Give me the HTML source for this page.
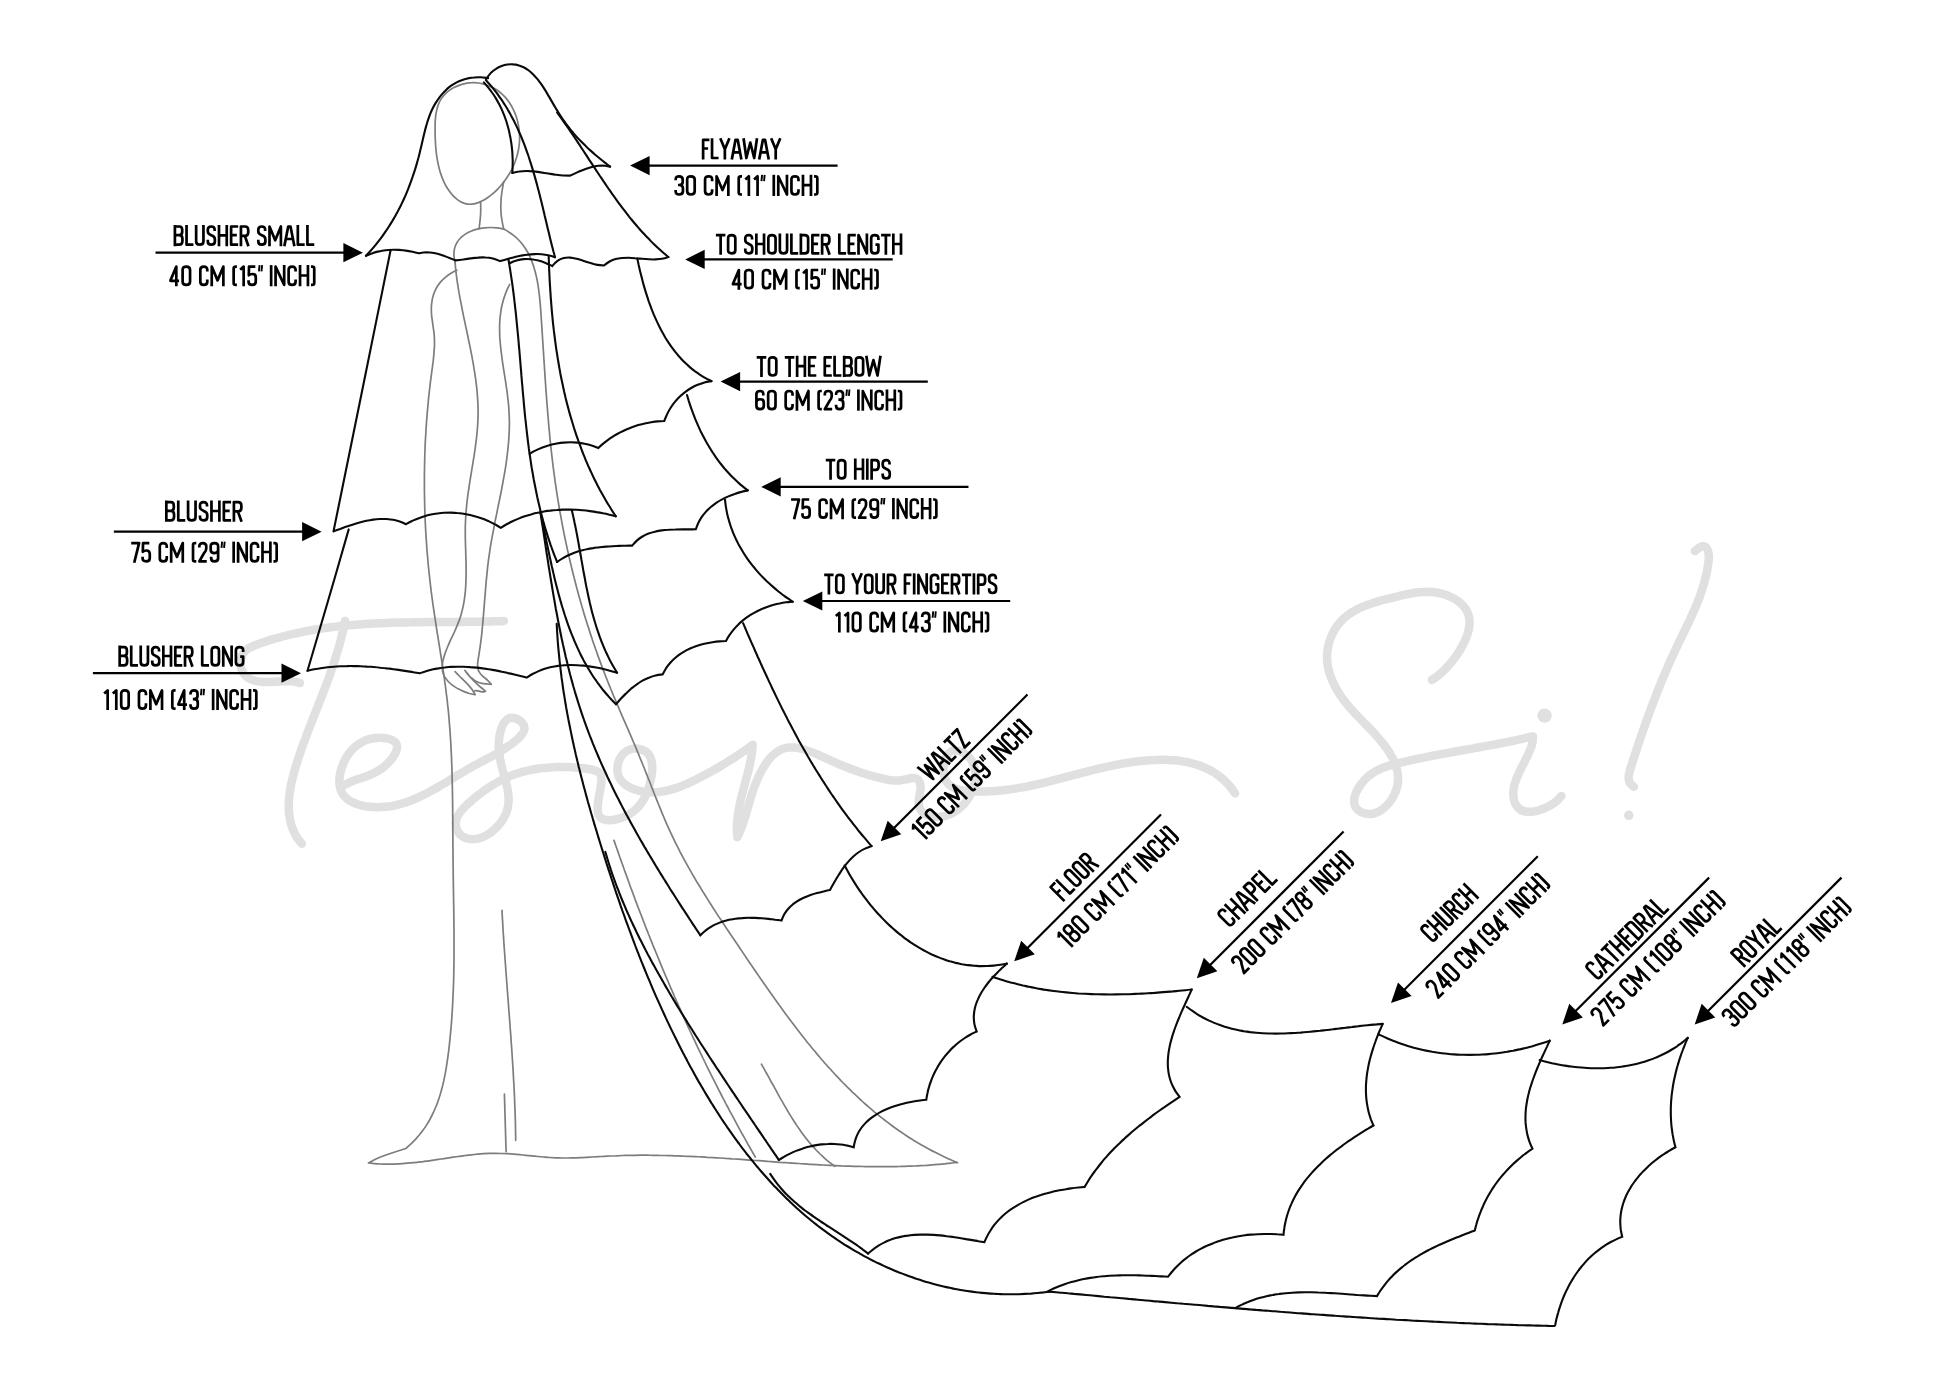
<!DOCTYPE html><html><head><meta charset="utf-8"><title>Veil lengths</title><style>html,body{margin:0;padding:0;background:#fff;font-family:"Liberation Sans",sans-serif;}svg{display:block;}.lbl path{vector-effect:non-scaling-stroke;}</style></head><body>
<svg width="1946" height="1390" viewBox="0 0 1946 1390">
<rect width="1946" height="1390" fill="#fff"/>
<g fill="none" stroke="#e0e0e0" stroke-width="8.5" stroke-linecap="round" stroke-linejoin="round">
<path d="M300.0,683.0 C298.1,682.5 296.3,681.9 294.3,681.6 C292.4,681.3 290.3,681.2 288.2,681.1 C286.1,681.1 284.0,681.2 281.9,681.3 C279.7,681.4 277.5,681.6 275.3,681.7 C273.1,681.8 270.9,682.0 268.8,682.0 C266.6,682.0 264.4,682.1 262.3,681.9 C260.1,681.7 258.0,681.5 256.0,681.0 C254.0,680.5 251.9,679.9 250.1,679.0 C248.3,678.1 246.6,677.0 245.2,675.6 C243.9,674.2 242.8,672.5 242.0,670.7 C241.2,668.9 240.8,666.7 240.7,664.7 C240.5,662.6 240.7,660.4 241.2,658.4 C241.7,656.4 242.5,654.5 243.6,652.9 C244.7,651.3 246.2,650.0 247.7,648.9 C249.3,647.7 251.2,646.9 253.0,646.1 C254.9,645.2 256.9,644.6 258.8,643.8 C260.8,643.1 262.8,642.5 264.7,641.8 C266.7,641.2 268.7,640.5 270.6,639.9 C272.6,639.3 274.6,638.7 276.6,638.2 C278.6,637.6 280.6,637.0 282.5,636.5 C284.5,636.0 286.5,635.5 288.5,635.0 C290.5,634.5 292.5,634.0 294.5,633.6 C296.5,633.1 298.5,632.7 300.6,632.3 C302.6,631.8 304.6,631.4 306.6,631.1 C308.6,630.7 310.6,630.3 312.7,630.0 C314.7,629.6 316.7,629.3 318.7,629.0 C320.8,628.6 322.8,628.3 324.8,628.0 C326.9,627.8 328.9,627.5 331.0,627.2 C333.0,626.9 335.0,626.7 337.1,626.5 C339.1,626.2 341.2,626.0 343.2,625.8 C345.3,625.6 347.3,625.4 349.4,625.2 C351.4,625.0 353.5,624.8 355.5,624.7 C357.6,624.5 359.6,624.4 361.7,624.2 C363.8,624.1 365.8,623.9 367.9,623.8 C369.9,623.7 372.0,623.6 374.1,623.5 C376.1,623.4 378.2,623.3 380.3,623.2 C382.3,623.1 384.4,623.0 386.5,622.9 C388.5,622.8 390.6,622.8 392.7,622.7 C394.7,622.6 396.8,622.6 398.9,622.5 C400.9,622.5 403.0,622.4 405.1,622.4 C407.1,622.3 409.2,622.3 411.3,622.3 C413.3,622.2 415.4,622.2 417.5,622.2 C419.6,622.2 421.6,622.1 423.7,622.1 C425.8,622.1 427.8,622.1 429.9,622.1 C432.0,622.1 434.0,622.0 436.1,622.0 C438.2,622.0 440.2,622.0 442.3,622.0 C444.4,622.0 446.4,622.0 448.5,622.0 C450.6,622.0 452.6,621.9 454.7,621.9 C456.8,621.9 458.8,621.9 460.9,621.9 C462.9,621.9 465.0,621.8 467.1,621.8 C469.1,621.8 471.2,621.8 473.2,621.8 C475.3,621.7 477.3,621.7 479.4,621.7 C481.4,621.6 483.5,621.6 485.5,621.5 C487.6,621.5 489.6,621.5 491.7,621.4 C493.7,621.3 495.8,621.3 497.8,621.2 C499.8,621.2 501.9,621.1 503.9,621.0"/>
<path d="M345.1,620.8 C344.7,622.9 344.3,625.0 343.8,627.1 C343.4,629.2 342.9,631.2 342.4,633.3 C341.9,635.3 341.4,637.4 340.9,639.4 C340.4,641.4 339.8,643.4 339.3,645.4 C338.7,647.4 338.1,649.4 337.5,651.4 C336.9,653.4 336.3,655.3 335.7,657.3 C335.1,659.2 334.5,661.2 333.8,663.1 C333.2,665.1 332.5,667.0 331.9,668.9 C331.2,670.8 330.5,672.8 329.9,674.7 C329.2,676.6 328.5,678.5 327.8,680.4 C327.1,682.3 326.4,684.2 325.7,686.1 C324.9,688.0 324.2,689.9 323.5,691.8 C322.8,693.7 322.0,695.6 321.3,697.5 C320.5,699.4 319.8,701.3 319.1,703.2 C318.3,705.1 317.6,707.0 316.8,708.9 C316.1,710.8 315.3,712.7 314.6,714.6 C313.8,716.5 313.1,718.4 312.3,720.3 C311.6,722.2 310.8,724.2 310.1,726.1 C309.3,728.0 308.6,730.0 307.8,731.9 C307.1,733.9 306.4,735.8 305.6,737.8 C304.9,739.8 304.2,741.7 303.4,743.7 C302.7,745.7 302.0,747.7 301.3,749.7 C300.6,751.7 299.9,753.8 299.2,755.8 C298.5,757.8 297.8,759.9 297.2,761.9 C296.5,764.0 295.9,766.1 295.3,768.2 C294.7,770.2 294.1,772.3 293.5,774.4 C293.0,776.5 292.4,778.6 292.0,780.6 C291.5,782.7 291.0,784.8 290.7,786.9 C290.3,788.9 289.9,791.0 289.7,793.1 C289.4,795.1 289.2,797.2 289.0,799.2 C288.9,801.3 288.8,803.3 288.7,805.3 C288.7,807.3 288.8,809.3 288.9,811.3 C289.0,813.2 289.3,815.2 289.6,817.1 C289.9,819.1 290.3,821.0 290.7,822.9 C291.2,824.7 291.8,826.6 292.5,828.4 C293.2,830.3 294.0,832.1 294.9,833.8 C295.8,835.6 296.8,837.3 298.0,839.0 C299.2,840.6 300.5,842.2 301.9,843.8"/>
<path d="M344.2,785.1 C346.1,784.1 348.0,783.2 349.8,782.3 C351.7,781.5 353.6,780.8 355.5,780.1 C357.3,779.4 359.2,778.8 361.0,778.1 C362.9,777.5 364.7,776.9 366.6,776.2 C368.4,775.5 370.2,774.8 372.1,774.0 C373.9,773.2 375.7,772.3 377.5,771.2 C379.2,770.2 381.0,769.0 382.8,767.7 C384.5,766.3 386.3,764.8 387.9,763.1 C389.5,761.5 391.1,759.7 392.4,757.9 C393.7,756.1 394.9,754.2 395.7,752.5 C396.4,750.7 397.0,749.0 397.1,747.4 C397.1,745.9 396.8,744.4 396.0,743.2 C395.2,742.0 393.8,741.0 392.2,740.2 C390.7,739.4 388.7,738.8 386.7,738.4 C384.7,738.0 382.3,737.8 380.2,737.8 C378.0,737.7 375.8,737.9 373.7,738.2 C371.6,738.5 369.6,739.0 367.7,739.6 C365.7,740.3 363.8,741.1 362.1,742.0 C360.3,743.0 358.6,744.1 357.0,745.3 C355.4,746.6 353.8,747.9 352.4,749.4 C351.0,750.9 349.7,752.5 348.4,754.2 C347.2,756.0 346.1,757.8 345.1,759.7 C344.1,761.6 343.1,763.7 342.4,765.8 C341.6,767.8 340.9,770.0 340.5,772.1 C340.0,774.2 339.6,776.4 339.5,778.4 C339.3,780.5 339.3,782.6 339.5,784.5 C339.8,786.5 340.2,788.4 340.8,790.1 C341.4,791.8 342.3,793.5 343.3,794.9 C344.4,796.4 345.7,797.7 347.1,798.8 C348.6,800.0 350.2,801.0 351.9,801.9 C353.7,802.8 355.5,803.5 357.5,804.2 C359.4,804.9 361.4,805.4 363.5,805.8 C365.5,806.3 367.7,806.6 369.7,806.8 C371.8,807.0 373.9,807.2 376.0,807.2 C378.0,807.3 380.1,807.2 382.1,807.1 C384.1,807.0 386.1,806.8 388.1,806.6 C390.1,806.3 392.1,806.0 394.1,805.6 C396.0,805.2 398.0,804.7 399.9,804.2 C401.9,803.6 403.8,803.0 405.7,802.4 C407.6,801.8 409.5,801.1 411.4,800.3 C413.3,799.6 415.2,798.8 417.1,798.0 C418.9,797.1 420.8,796.3 422.6,795.4 C424.5,794.5 426.3,793.5 428.1,792.6 C429.9,791.6 431.7,790.6 433.6,789.6 C435.4,788.6 437.1,787.6 438.9,786.5 C440.7,785.5 442.5,784.4 444.3,783.4 C446.0,782.3 447.8,781.3 449.5,780.2 C451.3,779.1 453.0,778.1 454.8,777.0 C456.5,775.9 458.2,774.9 460.0,773.8 C461.7,772.8 463.4,771.8 465.1,770.8 C466.8,769.8 468.6,768.8 470.3,767.8 C472.0,766.8 473.7,765.9 475.4,765.0 C477.1,764.1 478.8,763.2 480.5,762.3 C482.2,761.4 483.9,760.5 485.6,759.6 C487.3,758.7 489.0,757.8 490.7,756.9 C492.5,755.9 494.2,755.0 496.0,754.0 C497.7,752.9 499.5,751.9 501.3,750.8 C503.1,749.7 504.9,748.5 506.7,747.2 C508.6,746.0 510.5,744.7 512.4,743.3 C514.2,741.9 516.1,740.4 517.8,738.9 C519.4,737.3 521.0,735.8 522.1,734.2 C523.2,732.6 524.1,731.0 524.3,729.5 C524.6,727.9 524.4,726.3 523.7,724.8 C523.0,723.4 521.6,721.9 520.2,720.8 C518.8,719.7 516.9,718.7 515.3,718.3 C513.6,717.8 511.8,717.6 510.2,717.9 C508.7,718.3 507.3,719.2 506.1,720.3 C504.9,721.4 503.8,723.1 502.9,724.8 C502.0,726.5 501.3,728.6 500.7,730.7 C500.1,732.8 499.6,735.2 499.3,737.4 C499.0,739.7 498.8,742.0 498.8,744.2 C498.7,746.4 498.8,748.6 499.0,750.8 C499.2,753.0 499.5,755.1 499.8,757.2 C500.1,759.3 500.6,761.3 501.0,763.4 C501.5,765.4 502.0,767.5 502.5,769.4 C503.1,771.4 503.6,773.4 504.1,775.4 C504.7,777.3 505.2,779.2 505.7,781.2 C506.2,783.1 506.7,785.0 507.1,786.9 C507.5,788.7 507.9,790.6 508.1,792.5 C508.4,794.4 508.5,796.2 508.6,798.1 C508.7,799.9 508.6,801.8 508.4,803.6 C508.2,805.4 507.9,807.3 507.4,809.1 C506.9,811.0 506.3,812.8 505.4,814.7 C504.6,816.5 503.5,818.4 502.3,820.2 C501.2,822.0 499.8,823.8 498.3,825.5 C496.8,827.1 495.2,828.8 493.5,830.2 C491.8,831.7 489.9,833.1 488.0,834.2 C486.2,835.4 484.2,836.4 482.2,837.2 C480.2,838.0 478.1,838.6 476.1,838.9 C474.1,839.2 471.9,839.2 469.9,839.0 C468.0,838.8 465.9,838.2 464.2,837.4 C462.5,836.6 460.9,835.4 459.6,834.0 C458.4,832.6 457.4,830.8 456.7,829.1 C456.1,827.4 455.7,825.4 455.8,823.6 C455.8,821.7 456.2,819.9 456.8,818.2 C457.5,816.4 458.4,814.7 459.5,813.1 C460.6,811.4 462.0,809.8 463.4,808.3 C464.8,806.7 466.5,805.2 468.1,803.7 C469.7,802.2 471.4,800.8 473.0,799.4 C474.6,798.0 476.3,796.7 477.9,795.4 C479.6,794.1 481.2,792.8 482.9,791.6 C484.5,790.4 486.2,789.2 487.9,788.1 C489.5,786.9 491.2,785.8 492.9,784.8 C494.6,783.8 496.3,782.8 498.0,781.8 C499.7,780.9 501.4,780.0 503.2,779.1 C505.0,778.3 506.8,777.4 508.6,776.7 C510.4,775.9 512.2,775.2 514.1,774.5 C516.0,773.9 517.9,773.3 519.8,772.7 C521.7,772.1 523.6,771.6 525.6,771.1 C527.5,770.6 529.5,770.2 531.5,769.8 C533.5,769.4 535.5,769.1 537.5,768.7 C539.5,768.4 541.5,768.2 543.6,767.9 C545.6,767.7 547.7,767.5 549.7,767.4 C551.8,767.2 553.8,767.1 555.9,767.1 C558.0,767.0 560.1,767.0 562.1,767.0 C564.2,767.0 566.3,767.0 568.4,767.1 C570.5,767.2 572.5,767.3 574.6,767.4 C576.7,767.6 578.8,767.8 580.8,768.0 C582.9,768.2 585.0,768.5 587.0,768.8 C589.0,769.1 591.1,769.3 592.9,769.8 C594.7,770.3 596.5,770.8 597.8,771.7 C599.1,772.5 600.1,773.6 600.7,774.9 C601.3,776.2 601.4,777.8 601.5,779.7 C601.5,781.5 601.2,783.6 600.9,785.7 C600.6,787.9 600.1,790.4 599.7,792.7 C599.3,795.1 598.7,797.6 598.4,799.9 C598.1,802.3 597.7,804.7 597.7,806.8 C597.6,809.0 597.6,811.0 598.0,812.7 C598.4,814.5 599.1,816.0 600.1,817.1 C601.1,818.2 602.5,819.0 604.0,819.5 C605.6,820.0 607.5,820.2 609.4,820.2 C611.3,820.2 613.5,820.0 615.6,819.5 C617.7,819.1 619.9,818.4 621.9,817.7 C624.0,816.9 626.1,816.0 627.9,815.0 C629.8,814.0 631.5,812.8 633.1,811.6 C634.7,810.4 636.2,809.0 637.6,807.6 C638.9,806.2 640.2,804.6 641.3,803.0 C642.5,801.4 643.5,799.7 644.4,797.9 C645.4,796.1 646.2,794.3 647.0,792.3 C647.8,790.4 648.5,788.4 649.1,786.3 C649.7,784.2 650.3,782.0 650.7,779.9 C651.2,777.7 651.6,775.4 651.9,773.2 C652.1,771.1 652.3,768.8 652.2,766.8 C652.1,764.7 652.0,762.6 651.5,760.8 C651.1,758.9 650.4,757.2 649.5,755.7 C648.6,754.2 647.4,752.8 646.0,751.7 C644.6,750.7 642.8,749.8 641.0,749.3 C639.2,748.8 637.1,748.5 635.1,748.6 C633.1,748.7 631.0,749.0 629.2,749.8 C627.3,750.5 625.5,751.6 624.0,753.0 C622.5,754.3 621.2,756.2 620.2,758.0 C619.2,759.9 618.4,762.1 617.9,764.2 C617.5,766.4 617.2,768.6 617.4,770.7 C617.5,772.8 618.0,774.8 618.7,776.6 C619.5,778.4 620.6,780.1 621.9,781.5 C623.2,783.0 624.8,784.3 626.5,785.4 C628.1,786.5 630.0,787.5 631.9,788.3 C633.8,789.2 635.9,789.8 637.9,790.4 C639.9,791.0 641.9,791.4 643.9,791.7 C645.9,792.0 647.9,792.2 649.9,792.3 C651.9,792.4 653.8,792.4 655.8,792.2 C657.8,792.1 659.8,791.9 661.7,791.6 C663.7,791.3 665.7,790.9 667.6,790.5 C669.6,790.0 671.5,789.5 673.4,788.9 C675.4,788.3 677.3,787.7 679.2,787.0 C681.1,786.2 683.0,785.5 684.9,784.7 C686.8,783.9 688.7,783.0 690.5,782.2 C692.4,781.3 694.2,780.4 696.1,779.5 C697.9,778.6 699.7,777.6 701.5,776.7 C703.3,775.7 705.1,774.8 706.9,773.8 C708.7,772.9 710.4,771.9 712.2,770.9 C713.9,769.9 715.7,769.0 717.4,768.0 C719.1,767.0 720.8,766.0 722.5,764.9 C724.2,763.9 725.9,762.9 727.6,761.8 C729.3,760.8 731.0,759.7 732.7,758.6 C734.3,757.6 736.0,756.5 737.7,755.3 C739.4,754.2 741.0,753.1 742.7,751.9 C744.4,750.8 746.0,749.6 747.7,748.4 C749.4,747.2 751.0,746.0 752.7,744.8 C752.5,747.0 752.3,749.3 752.1,751.5 C751.8,753.7 751.4,755.9 751.1,758.1 C750.7,760.3 750.2,762.5 749.7,764.7 C749.3,766.9 748.8,769.1 748.2,771.3 C747.7,773.5 747.1,775.6 746.5,777.8 C746.0,780.0 745.4,782.2 744.8,784.3 C744.2,786.5 743.6,788.7 743.0,790.9 C742.5,793.0 741.9,795.2 741.4,797.4 C740.8,799.6 740.3,801.7 739.9,803.9 C739.4,806.1 739.0,808.3 738.6,810.5 C738.2,812.7 737.9,814.9 737.6,817.1 C737.4,819.3 737.1,821.6 737.0,823.8 C736.9,826.0 736.8,828.3 736.9,830.5 C736.9,832.8 737.1,835.0 737.3,837.3 C738.2,835.3 739.1,833.4 739.9,831.5 C740.8,829.5 741.5,827.6 742.2,825.7 C742.9,823.9 743.5,822.0 744.1,820.1 C744.8,818.2 745.3,816.4 745.9,814.5 C746.4,812.7 747.0,810.8 747.5,808.9 C748.0,807.1 748.6,805.2 749.1,803.3 C749.6,801.5 750.2,799.6 750.8,797.7 C751.3,795.8 751.9,793.9 752.6,791.9 C753.2,790.0 753.9,788.1 754.6,786.1 C755.4,784.1 756.2,782.1 757.0,780.1 C757.9,778.1 758.8,776.1 759.8,774.1 C760.8,772.2 761.8,770.2 762.9,768.4 C764.0,766.5 765.1,764.7 766.3,763.0 C767.5,761.2 768.8,759.6 770.1,758.1 C771.4,756.6 772.8,755.2 774.3,754.0 C775.7,752.7 777.2,751.6 778.8,750.7 C780.4,749.8 782.0,749.0 783.7,748.5 C785.4,748.0 787.1,747.7 789.0,747.5 C790.8,747.4 792.6,747.4 794.5,747.6 C796.4,747.7 798.3,748.1 800.3,748.5 C802.3,749.0 804.3,749.5 806.3,750.2 C808.3,750.8 810.3,751.6 812.3,752.4 C814.4,753.2 816.4,754.0 818.4,754.9 C820.4,755.8 822.5,756.7 824.4,757.6 C826.4,758.5 828.4,759.5 830.4,760.3 C832.3,761.2 834.2,762.1 836.1,762.9 C838.0,763.7 839.9,764.5 841.7,765.3 C843.6,766.0 845.4,766.8 847.2,767.5 C849.1,768.2 850.9,768.9 852.7,769.6 C854.5,770.3 856.3,770.9 858.2,771.5 C860.0,772.2 861.8,772.8 863.6,773.3 C865.5,773.9 867.3,774.5 869.2,775.1 C871.1,775.6 873.0,776.1 874.9,776.7 C876.8,777.2 878.8,777.7 880.8,778.2 C882.7,778.7 884.8,779.2 886.8,779.5 C888.9,779.9 890.9,780.3 893.0,780.4 C895.1,780.6 897.3,780.7 899.4,780.5 C901.5,780.3 903.7,779.8 905.8,779.4 C907.9,779.0 910.0,778.2 911.9,778.1 C913.7,778.0 915.5,778.1 916.8,778.8 C918.1,779.5 919.3,780.8 919.9,782.4 C920.5,784.0 920.6,786.1 920.6,788.3 C920.5,790.5 919.9,793.0 919.5,795.4 C919.2,797.8 918.6,800.3 918.7,802.5 C918.7,804.6 919.0,806.6 919.7,808.3 C920.4,809.9 921.6,811.3 922.9,812.5 C924.2,813.7 925.9,814.6 927.6,815.3 C929.4,815.9 931.4,816.4 933.3,816.7 C935.3,816.9 937.4,816.9 939.3,816.8 C941.3,816.7 943.3,816.3 945.2,815.8 C947.2,815.3 949.0,814.6 950.9,813.8 C952.7,813.0 954.5,811.9 956.2,810.8 C957.8,809.7 959.5,808.4 961.0,807.0 C962.5,805.6 964.0,804.1 965.3,802.4 C966.7,800.8 967.9,799.0 969.0,797.2 C970.1,795.4 971.1,793.4 972.0,791.4 C972.8,789.4 973.6,787.3 974.1,785.3 C974.7,783.2 975.1,781.1 975.3,779.0 C975.6,776.9 975.6,774.8 975.5,772.7 C975.3,770.7 975.0,768.7 974.4,766.8 C973.8,764.9 973.1,763.0 972.1,761.3 C971.0,759.6 969.7,757.9 968.3,756.5 C966.8,755.1 965.0,753.8 963.3,752.8 C961.5,751.8 959.5,751.0 957.7,750.7 C955.9,750.4 954.1,750.3 952.5,750.8 C950.9,751.3 949.4,752.4 948.2,753.7 C947.0,755.1 946.0,757.0 945.3,759.0 C944.5,761.0 944.0,763.4 943.7,765.6 C943.4,767.9 943.4,770.4 943.6,772.6 C943.9,774.8 944.3,777.0 945.1,778.8 C945.8,780.7 946.8,782.3 948.0,783.6 C949.2,785.0 950.6,786.1 952.2,787.0 C953.7,788.0 955.5,788.7 957.3,789.3 C959.2,789.9 961.2,790.3 963.2,790.6 C965.2,791.0 967.4,791.2 969.5,791.3 C971.7,791.5 973.9,791.5 976.0,791.5 C978.2,791.6 980.3,791.6 982.5,791.5 C984.6,791.5 986.7,791.4 988.8,791.3 C990.9,791.2 993.0,791.1 995.1,790.9 C997.1,790.8 999.2,790.6 1001.2,790.4 C1003.3,790.2 1005.3,790.0 1007.3,789.7 C1009.3,789.5 1011.4,789.2 1013.4,788.9 C1015.4,788.6 1017.3,788.3 1019.3,787.9 C1021.3,787.6 1023.3,787.2 1025.2,786.9 C1027.2,786.5 1029.1,786.1 1031.1,785.7 C1033.0,785.3 1035.0,784.9 1036.9,784.4 C1038.9,784.0 1040.8,783.5 1042.7,783.1 C1044.6,782.6 1046.6,782.2 1048.5,781.7 C1050.4,781.2 1052.3,780.7 1054.2,780.2 C1056.1,779.7 1058.1,779.2 1060.0,778.7 C1061.9,778.2 1063.8,777.7 1065.7,777.2 C1067.6,776.7 1069.5,776.2 1071.4,775.7 C1073.4,775.2 1075.3,774.7 1077.2,774.2 C1079.1,773.6 1081.1,773.1 1083.0,772.6 C1084.9,772.1 1086.8,771.6 1088.8,771.1 C1090.7,770.6 1092.7,770.1 1094.6,769.7 C1096.6,769.2 1098.5,768.7 1100.5,768.2 C1102.5,767.8 1104.4,767.3 1106.4,766.9 C1108.4,766.4 1110.4,766.0 1112.4,765.6 C1114.4,765.2 1116.4,764.8 1118.4,764.4 C1120.5,764.0 1122.5,763.6 1124.6,763.3 C1126.6,762.9 1128.7,762.6 1130.7,762.3 C1132.8,762.0 1134.9,761.7 1137.0,761.4 C1139.1,761.2 1141.2,760.9 1143.2,760.7 C1145.3,760.5 1147.4,760.3 1149.5,760.2 C1151.6,760.0 1153.7,759.9 1155.8,759.9 C1157.9,759.8 1159.9,759.7 1162.0,759.7 C1164.1,759.8 1166.2,759.8 1168.2,759.9 C1170.3,760.0 1172.3,760.1 1174.3,760.3 C1176.3,760.5 1178.4,760.7 1180.3,761.0 C1182.3,761.2 1184.3,761.6 1186.3,761.9 C1188.2,762.3 1190.1,762.8 1192.1,763.3 C1194.0,763.7 1195.8,764.3 1197.7,764.9 C1199.5,765.5 1201.4,766.2 1203.2,767.0 C1205.0,767.7 1206.7,768.5 1208.4,769.4 C1210.2,770.3 1211.9,771.2 1213.5,772.2 C1215.2,773.2 1216.8,774.3 1218.4,775.5 C1219.9,776.7 1221.5,777.9 1223.0,779.2 C1224.5,780.6 1225.9,782.0 1227.3,783.4 C1228.7,784.9 1230.1,786.5 1231.4,788.2 C1232.7,789.8 1233.9,791.6 1235.1,793.4"/>
<path d="M1431.9,679.9 C1433.2,679.1 1434.5,678.3 1435.9,677.3 C1437.3,676.3 1438.7,675.1 1440.2,673.9 C1441.6,672.6 1443.1,671.2 1444.6,669.7 C1446.1,668.2 1447.6,666.6 1449.1,664.9 C1450.5,663.3 1452.0,661.5 1453.4,659.7 C1454.8,657.9 1456.2,656.0 1457.5,654.1 C1458.7,652.1 1460.0,650.1 1461.1,648.1 C1462.3,646.2 1463.4,644.1 1464.3,642.1 C1465.3,640.1 1466.1,638.0 1466.9,636.0 C1467.6,633.9 1468.2,631.9 1468.6,629.9 C1469.1,627.9 1469.4,626.0 1469.5,624.1 C1469.6,622.1 1469.5,620.3 1469.3,618.5 C1469.0,616.7 1468.6,614.9 1467.9,613.3 C1467.3,611.6 1466.4,610.1 1465.4,608.6 C1464.4,607.1 1463.2,605.7 1461.9,604.4 C1460.6,603.1 1459.1,601.9 1457.5,600.8 C1455.9,599.6 1454.2,598.6 1452.4,597.7 C1450.6,596.8 1448.7,595.9 1446.8,595.2 C1444.9,594.5 1442.8,593.9 1440.8,593.4 C1438.8,592.9 1436.7,592.5 1434.7,592.2 C1432.6,591.9 1430.6,591.8 1428.5,591.7 C1426.5,591.7 1424.4,591.7 1422.4,591.9 C1420.4,592.0 1418.3,592.2 1416.3,592.5 C1414.3,592.8 1412.2,593.2 1410.2,593.6 C1408.2,594.0 1406.1,594.4 1404.1,594.9 C1402.1,595.3 1400.0,595.8 1398.0,596.3 C1396.0,596.8 1393.9,597.3 1391.9,597.8 C1389.9,598.3 1387.8,598.8 1385.8,599.3 C1383.8,599.9 1381.7,600.4 1379.7,600.9 C1377.7,601.5 1375.7,602.1 1373.8,602.7 C1371.8,603.3 1369.8,604.0 1367.9,604.7 C1366.0,605.4 1364.2,606.1 1362.3,606.9 C1360.5,607.7 1358.7,608.5 1356.9,609.4 C1355.2,610.4 1353.5,611.3 1351.8,612.4 C1350.2,613.4 1348.6,614.5 1347.0,615.7 C1345.5,616.9 1344.0,618.2 1342.6,619.6 C1341.2,620.9 1339.9,622.4 1338.7,624.0 C1337.4,625.5 1336.2,627.2 1335.1,629.0 C1334.1,630.7 1333.0,632.6 1332.2,634.5 C1331.3,636.4 1330.5,638.4 1329.8,640.4 C1329.1,642.4 1328.5,644.5 1328.1,646.6 C1327.7,648.6 1327.3,650.7 1327.2,652.8 C1327.0,654.9 1327.0,656.9 1327.1,659.0 C1327.1,661.0 1327.4,663.0 1327.7,665.1 C1328.0,667.1 1328.4,669.1 1328.9,671.0 C1329.5,673.0 1330.1,674.9 1330.8,676.8 C1331.5,678.8 1332.3,680.7 1333.1,682.5 C1334.0,684.4 1334.9,686.2 1335.9,688.0 C1336.9,689.8 1337.9,691.5 1339.0,693.2 C1340.1,694.9 1341.3,696.6 1342.4,698.2 C1343.6,699.8 1344.8,701.4 1346.0,702.9 C1347.2,704.5 1348.5,706.0 1349.7,707.4 C1351.0,708.9 1352.3,710.3 1353.6,711.8 C1354.9,713.2 1356.2,714.6 1357.6,716.0 C1359.0,717.4 1360.3,718.8 1361.7,720.3 C1363.1,721.7 1364.6,723.1 1366.0,724.6 C1367.4,726.1 1368.9,727.6 1370.4,729.1 C1371.8,730.7 1373.3,732.2 1374.7,733.8 C1376.2,735.4 1377.6,737.0 1379.0,738.7 C1380.4,740.3 1381.8,742.0 1383.1,743.7 C1384.4,745.4 1385.7,747.1 1386.9,748.8 C1388.1,750.5 1389.3,752.3 1390.3,754.1 C1391.4,755.9 1392.4,757.7 1393.3,759.5 C1394.1,761.3 1394.9,763.1 1395.6,765.0 C1396.2,766.8 1396.8,768.7 1397.2,770.6 C1397.6,772.4 1397.9,774.3 1398.0,776.3 C1398.1,778.2 1398.1,780.1 1397.9,782.0 C1397.8,784.0 1397.4,785.9 1396.9,787.9 C1396.3,789.8 1395.6,791.8 1394.7,793.8 C1393.8,795.7 1392.7,797.7 1391.5,799.5 C1390.3,801.3 1388.9,803.1 1387.5,804.7 C1386.0,806.3 1384.4,807.8 1382.7,809.1 C1381.0,810.3 1379.2,811.4 1377.4,812.2 C1375.5,813.0 1373.6,813.7 1371.7,813.9 C1369.7,814.1 1367.7,814.1 1365.8,813.7 C1363.9,813.3 1361.9,812.6 1360.3,811.6 C1358.7,810.7 1357.2,809.5 1356.2,808.1 C1355.2,806.7 1354.6,805.2 1354.3,803.5 C1354.0,801.8 1354.1,800.0 1354.4,798.1 C1354.8,796.3 1355.4,794.3 1356.2,792.4 C1357.0,790.5 1358.1,788.5 1359.3,786.6 C1360.5,784.8 1362.0,782.9 1363.4,781.2 C1364.9,779.5 1366.6,777.8 1368.2,776.4 C1369.9,775.0 1371.6,773.7 1373.4,772.6 C1375.1,771.4 1377.0,770.5 1378.8,769.6 C1380.6,768.7 1382.5,767.9 1384.4,767.2 C1386.3,766.6 1388.2,766.0 1390.2,765.4 C1392.1,764.8 1394.0,764.3 1396.0,763.8 C1397.9,763.3 1399.9,762.9 1401.9,762.4 C1403.8,761.9 1405.8,761.5 1407.8,761.0 C1409.7,760.5 1411.7,760.1 1413.7,759.7 C1415.6,759.2 1417.6,758.8 1419.6,758.4 C1421.6,758.0 1423.5,757.6 1425.5,757.2 C1427.5,756.8 1429.5,756.4 1431.5,756.0 C1433.5,755.6 1435.4,755.2 1437.4,754.8 C1439.4,754.5 1441.4,754.1 1443.4,753.7 C1445.4,753.4 1447.4,753.0 1449.4,752.6 C1451.4,752.3 1453.4,751.9 1455.4,751.5 C1457.3,751.2 1459.3,750.8 1461.3,750.5 C1463.3,750.1 1465.3,749.8 1467.3,749.4 C1469.3,749.1 1471.3,748.7 1473.3,748.3 C1475.3,748.0 1477.3,747.6 1479.3,747.3 C1481.3,746.9 1483.3,746.6 1485.3,746.2 C1487.3,745.8 1489.3,745.5 1491.3,745.1 C1493.3,744.7 1495.3,744.3 1497.2,744.0 C1499.2,743.6 1501.2,743.2 1503.2,742.8 C1505.2,742.4 1507.2,742.0 1509.2,741.6 C1511.2,741.2 1513.1,740.8 1515.1,740.3 C1517.1,739.9 1519.1,739.5 1521.1,739.1 C1523.0,738.6 1525.0,738.2 1527.0,737.7 C1529.0,737.2 1530.9,736.8 1532.9,736.3 C1532.9,738.2 1532.8,740.1 1532.5,742.0 C1532.2,743.9 1531.6,745.9 1530.9,748.0 C1530.2,750.0 1529.3,752.0 1528.3,754.1 C1527.4,756.2 1526.3,758.3 1525.2,760.5 C1524.1,762.6 1523.0,764.8 1521.9,766.9 C1520.8,769.1 1519.7,771.3 1518.7,773.5 C1517.7,775.7 1516.7,777.9 1516.0,780.1 C1515.2,782.3 1514.5,784.5 1514.0,786.7 C1513.6,788.9 1513.3,791.1 1513.3,793.3 C1513.3,795.4 1513.5,797.7 1513.9,799.7 C1514.4,801.7 1515.1,803.6 1516.1,805.3 C1517.1,806.9 1518.4,808.3 1519.9,809.4 C1521.4,810.4 1523.3,811.1 1525.3,811.5 C1527.2,811.9 1529.5,811.9 1531.7,811.7 C1534.0,811.5 1536.4,810.9 1538.8,810.3 C1541.1,809.6 1543.6,808.7 1545.8,807.6 C1548.1,806.6 1550.3,805.4 1552.3,804.1 C1554.3,802.9 1556.2,801.5 1557.7,800.1 C1559.2,798.7 1560.3,797.3 1561.4,795.9"/>
<path d="M1694.8,551.1 C1697.0,549.3 1699.1,547.4 1700.8,546.7 C1702.5,546.0 1703.9,546.2 1705.1,546.7 C1706.2,547.2 1707.0,548.5 1707.6,549.8 C1708.3,551.2 1708.6,553.0 1708.7,554.8 C1708.9,556.7 1708.8,558.8 1708.6,561.0 C1708.4,563.1 1708.0,565.4 1707.6,567.7 C1707.3,569.9 1706.8,572.2 1706.3,574.5 C1705.8,576.7 1705.2,578.9 1704.7,581.0 C1704.1,583.1 1703.5,585.2 1702.8,587.3 C1702.2,589.4 1701.5,591.4 1700.8,593.5 C1700.1,595.5 1699.4,597.5 1698.7,599.4 C1697.9,601.4 1697.2,603.3 1696.4,605.2 C1695.6,607.2 1694.8,609.1 1693.9,610.9 C1693.1,612.8 1692.3,614.7 1691.4,616.5 C1690.6,618.4 1689.7,620.2 1688.8,622.1 C1688.0,623.9 1687.1,625.7 1686.2,627.5 C1685.3,629.4 1684.4,631.2 1683.5,633.0 C1682.7,634.8 1681.8,636.6 1680.9,638.4 C1680.0,640.2 1679.1,642.1 1678.2,643.9 C1677.4,645.7 1676.5,647.5 1675.6,649.4 C1674.8,651.2 1673.9,653.1 1673.1,654.9 C1672.2,656.8 1671.4,658.6 1670.5,660.5 C1669.7,662.4 1668.9,664.3 1668.0,666.1 C1667.2,668.0 1666.4,669.9 1665.6,671.8 C1664.8,673.7 1664.0,675.6 1663.2,677.5 C1662.4,679.4 1661.6,681.3 1660.8,683.2 C1660.1,685.1 1659.3,687.1 1658.5,689.0 C1657.7,690.9 1657.0,692.9 1656.2,694.8 C1655.5,696.7 1654.7,698.7 1654.0,700.6 C1653.2,702.6 1652.5,704.5 1651.7,706.5 C1651.0,708.4 1650.3,710.4 1649.6,712.3 C1648.8,714.3 1648.1,716.3 1647.4,718.2 C1646.7,720.2 1646.0,722.2 1645.3,724.1 C1644.6,726.1 1643.9,728.1 1643.2,730.1 C1642.5,732.1 1641.8,734.1 1641.1,736.0 C1640.5,738.0 1639.8,740.0 1639.1,742.0 C1638.4,744.0 1637.8,746.0 1637.1,748.0 C1636.4,750.0 1635.8,752.0 1635.1,754.0 C1634.5,756.0 1633.8,758.0 1633.2,760.0 C1632.5,762.0 1631.9,764.0 1631.3,766.0 C1630.6,768.0 1629.9,770.0 1629.5,772.0 C1629.0,773.9 1628.6,775.9 1628.6,777.7 C1628.7,779.5 1628.9,781.2 1629.8,782.7 C1630.6,784.2 1632.3,785.5 1633.9,786.8"/>
</g>
<g fill="#e0e0e0"><circle cx="1544.6" cy="715.6" r="7.2"/><circle cx="1628.8" cy="815.3" r="4.8"/></g>
<g fill="none" stroke="#7d7d7d" stroke-width="1.7" stroke-linecap="round" stroke-linejoin="round">
<path d="M484.9,84.5 C482.8,83.9 480.8,83.3 478.7,83.0 C476.5,82.7 474.4,82.6 472.2,82.7 C470.1,82.7 467.9,83.0 465.8,83.4 C463.7,83.8 461.6,84.4 459.7,85.1 C457.7,85.8 455.7,86.6 453.9,87.6 C452.0,88.6 450.3,89.7 448.7,90.9 C447.1,92.1 445.6,93.4 444.3,94.9 C443.0,96.3 441.9,97.8 440.9,99.4 C439.9,101.0 439.1,102.7 438.4,104.4 C437.7,106.2 437.2,108.0 436.8,109.9 C436.3,111.8 436.0,113.7 435.7,115.7 C435.5,117.7 435.3,119.8 435.2,121.9 C435.1,123.9 435.1,126.1 435.1,128.2 C435.1,130.3 435.1,132.5 435.1,134.7 C435.2,136.9 435.2,139.1 435.4,141.3 C435.5,143.5 435.6,145.7 435.8,147.9 C436.0,150.1 436.2,152.3 436.5,154.4 C436.8,156.6 437.1,158.8 437.5,160.9 C437.9,163.1 438.4,165.2 438.9,167.3 C439.4,169.4 440.0,171.4 440.6,173.4 C441.3,175.4 442.0,177.4 442.8,179.3 C443.6,181.2 444.5,183.1 445.4,184.9 C446.4,186.6 447.4,188.4 448.6,190.0 C449.7,191.7 451.0,193.3 452.3,194.8 C453.6,196.2 455.0,197.6 456.5,198.8 C457.9,200.0 459.5,201.1 461.1,201.9 C462.7,202.7 464.4,203.4 466.1,203.8 C467.8,204.2 469.6,204.3 471.4,204.2 C473.2,204.1 475.0,203.7 476.9,203.1 C478.7,202.6 480.6,201.8 482.4,200.8 C484.2,199.9 486.1,198.8 487.8,197.5 C489.6,196.3 491.4,194.9 493.1,193.4 C494.8,192.0 496.4,190.4 497.9,188.8 C499.5,187.2 501.0,185.5 502.4,183.8 C503.8,182.1 505.1,180.3 506.3,178.5 C507.5,176.7 508.7,174.9 509.7,173.1 C510.8,171.2 511.8,169.4 512.7,167.5 C513.6,165.6 514.4,163.7 515.1,161.8 C515.8,159.8 516.5,157.9 517.0,155.9 C517.6,154.0 518.0,152.0 518.4,150.0 C518.8,148.0 519.1,146.0 519.3,144.0 C519.5,142.0 519.6,139.9 519.6,137.9 C519.6,135.9 519.5,133.8 519.3,131.7 C519.1,129.7 518.9,127.6 518.5,125.6 C518.1,123.6 517.7,121.5 517.1,119.6 C516.6,117.6 515.9,115.6 515.2,113.7 C514.4,111.8 513.6,109.9 512.6,108.1 C511.7,106.2 510.6,104.5 509.5,102.8 C508.4,101.1 507.1,99.5 505.8,97.9 C504.5,96.4 503.0,94.9 501.5,93.6 C499.9,92.2 498.3,91.0 496.6,89.8 C494.8,88.7 493.0,87.7 491.0,86.8 C489.1,85.9 487.0,85.2 484.9,84.5"/>
<path d="M480.6,202.2 C480.7,205.9 480.9,209.6 480.6,214.0 C480.4,218.4 479.7,223.6 479.1,228.7"/>
<path d="M503.7,181.7 C502.6,187.6 501.5,193.5 501.1,198.9 C500.7,204.3 500.7,209.0 501.1,214.0 C501.5,219.0 502.6,224.1 503.7,229.1"/>
<path d="M455.1,262.6 C454.6,260.0 454.0,257.4 453.9,255.0 C453.8,252.6 454.1,250.4 454.6,248.4 C455.1,246.3 455.9,244.5 456.9,242.7 C457.9,241.0 459.1,239.4 460.5,238.0 C461.9,236.5 463.5,235.3 465.3,234.1 C467.0,233.0 468.9,232.0 470.9,231.2 C472.9,230.3 475.0,229.7 477.2,229.1 C479.3,228.6 481.6,228.1 483.8,227.9 C486.1,227.6 488.4,227.5 490.6,227.5 C492.9,227.5 495.2,227.6 497.3,227.9 C499.5,228.2 501.6,228.6 503.7,229.1"/>
<path d="M503.7,229.1 C505.6,230.1 507.4,231.1 509.1,232.2 C510.8,233.2 512.4,234.4 513.9,235.6 C515.5,236.9 516.9,238.1 518.2,239.5 C519.5,240.8 520.8,242.2 522.0,243.7 C523.1,245.2 524.2,246.7 525.2,248.2 C526.3,249.8 527.2,251.4 528.1,253.0 C529.0,254.7 529.8,256.4 530.5,258.1 C531.3,259.8 532.0,261.6 532.6,263.4 C533.3,265.2 533.9,267.0 534.4,268.9 C535.0,270.8 535.5,272.6 535.9,274.6 C536.4,276.5 536.8,278.4 537.2,280.4 C537.5,282.3 537.9,284.3 538.2,286.3 C538.5,288.3 538.8,290.3 539.0,292.4 C539.3,294.4 539.5,296.5 539.7,298.5 C539.9,300.6 540.1,302.6 540.3,304.7 C540.5,306.8 540.6,308.9 540.8,310.9 C540.9,313.0 541.1,315.1 541.2,317.2 C541.3,319.2 541.5,321.3 541.6,323.4 C541.7,325.5 541.9,327.5 542.0,329.6 C542.1,331.6 542.3,333.7 542.4,335.8 C542.5,337.8 542.7,339.9 542.8,341.9 C542.9,344.0 543.1,346.0 543.2,348.1 C543.3,350.1 543.5,352.2 543.6,354.2 C543.7,356.3 543.8,358.3 544.0,360.3 C544.1,362.4 544.2,364.4 544.4,366.4 C544.5,368.5 544.6,370.5 544.8,372.5 C544.9,374.6 545.0,376.6 545.2,378.6 C545.3,380.6 545.4,382.6 545.6,384.7 C545.7,386.7 545.9,388.7 546.0,390.7 C546.2,392.7 546.3,394.7 546.5,396.8 C546.6,398.8 546.8,400.8 546.9,402.8 C547.1,404.8 547.2,406.8 547.4,408.8 C547.5,410.8 547.7,412.8 547.9,414.8 C548.0,416.8 548.2,418.8 548.4,420.8 C548.5,422.8 548.7,424.8 548.9,426.8 C549.1,428.8 549.3,430.8 549.5,432.8 C549.6,434.8 549.8,436.8 550.0,438.8 C550.2,440.8 550.4,442.8 550.7,444.8 C550.9,446.8 551.1,448.8 551.3,450.8 C551.5,452.8 551.7,454.8 552.0,456.8 C552.2,458.8 552.4,460.8 552.7,462.7 C552.9,464.7 553.2,466.7 553.4,468.7 C553.7,470.7 553.9,472.7 554.2,474.7 C554.5,476.7 554.8,478.7 555.0,480.7 C555.3,482.7 555.6,484.6 555.9,486.6 C556.2,488.6 556.5,490.6 556.8,492.6 C557.1,494.6 557.4,496.6 557.7,498.6 C558.1,500.6 558.4,502.5 558.7,504.5 C559.0,506.5 559.4,508.5 559.7,510.5 C560.1,512.5 560.4,514.5 560.8,516.4 C561.2,518.4 561.5,520.4 561.9,522.4 C562.3,524.4 562.6,526.4 563.0,528.3 C563.4,530.3 563.8,532.3 564.2,534.3 C564.6,536.3 565.0,538.2 565.4,540.2 C565.8,542.2 566.3,544.2 566.7,546.1 C567.1,548.1 567.5,550.1 568.0,552.1 C568.4,554.0 568.9,556.0 569.3,558.0 C569.8,559.9 570.2,561.9 570.7,563.9 C571.2,565.8 571.6,567.8 572.1,569.8 C572.6,571.7 573.1,573.7 573.6,575.7 C574.1,577.6 574.6,579.6 575.1,581.5 C575.6,583.5 576.1,585.4 576.6,587.4 C577.1,589.3 577.7,591.3 578.2,593.2 C578.7,595.2 579.3,597.1 579.8,599.1 C580.4,601.0 580.9,603.0 581.5,604.9 C582.0,606.9 582.6,608.8 583.2,610.7 C583.8,612.7 584.3,614.6 584.9,616.5 C585.5,618.5 586.1,620.4 586.7,622.3 C587.3,624.3 587.9,626.2 588.6,628.1 C589.2,630.0 589.8,631.9 590.4,633.9 C591.1,635.8 591.7,637.7 592.3,639.6 C593.0,641.5 593.6,643.4 594.3,645.3 C594.9,647.2 595.6,649.1 596.3,651.0 C597.0,652.9 597.6,654.8 598.3,656.7 C599.0,658.6 599.7,660.5 600.4,662.4 C601.1,664.3 601.8,666.2 602.5,668.1 C603.2,670.0 604.0,671.8 604.7,673.7 C605.4,675.6 606.1,677.5 606.9,679.3 C607.6,681.2 608.4,683.1 609.1,684.9 C609.9,686.8 610.6,688.7 611.4,690.5 C612.2,692.4 613.0,694.2 613.7,696.1 C614.5,698.0 615.3,699.8 616.1,701.7 C616.9,703.5 617.7,705.4 618.4,707.2 C619.2,709.1 620.0,710.9 620.8,712.8 C621.6,714.6 622.4,716.5 623.2,718.3 C624.0,720.1 624.8,722.0 625.6,723.8 C626.4,725.7 627.2,727.5 628.0,729.4 C628.8,731.2 629.6,733.1 630.4,734.9 C631.2,736.8 632.0,738.6 632.8,740.5 C633.6,742.4 634.4,744.2 635.2,746.1 C636.0,747.9 636.7,749.8 637.5,751.7 C638.3,753.5 639.1,755.4 639.8,757.3 C640.6,759.1 641.4,761.0 642.1,762.9 C642.9,764.8 643.6,766.6 644.4,768.5 C645.1,770.4 645.9,772.3 646.6,774.2 C647.4,776.1 648.1,778.0 648.9,779.8 C649.6,781.7 650.3,783.6 651.1,785.5 C651.8,787.4 652.6,789.3 653.3,791.2 C654.0,793.1 654.8,795.0 655.5,796.9 C656.3,798.7 657.0,800.6 657.8,802.5 C658.5,804.4 659.3,806.3 660.1,808.1 C660.8,810.0 661.6,811.9 662.4,813.8 C663.2,815.6 663.9,817.5 664.7,819.3 C665.5,821.2 666.3,823.0 667.1,824.9 C668.0,826.7 668.8,828.6 669.6,830.4 C670.5,832.2 671.3,834.1 672.2,835.9 C673.0,837.7 673.9,839.5 674.8,841.3 C675.7,843.1 676.5,844.9 677.5,846.7 C678.4,848.5 679.3,850.3 680.2,852.1 C681.1,853.8 682.1,855.6 683.0,857.4 C684.0,859.2 684.9,860.9 685.9,862.7 C686.8,864.4 687.8,866.2 688.8,867.9 C689.8,869.7 690.8,871.4 691.8,873.1 C692.8,874.9 693.8,876.6 694.8,878.3 C695.8,880.1 696.8,881.8 697.9,883.5 C698.9,885.2 700.0,886.9 701.0,888.6 C702.0,890.4 703.1,892.1 704.2,893.8 C705.2,895.5 706.3,897.2 707.4,898.9 C708.4,900.6 709.5,902.3 710.6,904.0 C711.7,905.7 712.8,907.3 713.8,909.0 C714.9,910.7 716.0,912.4 717.1,914.1 C718.2,915.8 719.3,917.5 720.4,919.1 C721.6,920.8 722.7,922.5 723.8,924.2 C724.9,925.9 726.0,927.5 727.1,929.2 C728.3,930.9 729.4,932.6 730.5,934.3 C731.6,935.9 732.8,937.6 733.9,939.3 C735.0,941.0 736.1,942.7 737.3,944.3 C738.4,946.0 739.5,947.7 740.7,949.4 C741.8,951.1 742.9,952.7 744.1,954.4 C745.2,956.1 746.4,957.8 747.5,959.5 C748.6,961.1 749.8,962.8 750.9,964.5 C752.1,966.2 753.2,967.9 754.3,969.5 C755.5,971.2 756.6,972.9 757.8,974.6 C758.9,976.3 760.1,977.9 761.2,979.6 C762.4,981.3 763.6,983.0 764.7,984.6 C765.9,986.3 767.0,988.0 768.2,989.6 C769.4,991.3 770.5,993.0 771.7,994.6 C772.9,996.3 774.1,997.9 775.2,999.6 C776.4,1001.2 777.6,1002.9 778.8,1004.6 C780.0,1006.2 781.2,1007.8 782.4,1009.5 C783.6,1011.1 784.8,1012.8 786.0,1014.4 C787.2,1016.0 788.4,1017.7 789.6,1019.3 C790.8,1020.9 792.0,1022.5 793.3,1024.1 C794.5,1025.8 795.7,1027.4 797.0,1029.0 C798.2,1030.6 799.4,1032.2 800.7,1033.8 C801.9,1035.4 803.2,1037.0 804.4,1038.5 C805.7,1040.1 806.9,1041.7 808.2,1043.3 C809.5,1044.8 810.8,1046.4 812.0,1048.0 C813.3,1049.5 814.6,1051.1 815.9,1052.6 C817.2,1054.2 818.5,1055.7 819.8,1057.2 C821.1,1058.8 822.4,1060.3 823.7,1061.8 C825.1,1063.3 826.4,1064.8 827.7,1066.3 C829.1,1067.8 830.4,1069.3 831.8,1070.8 C833.1,1072.3 834.5,1073.7 835.8,1075.2 C837.2,1076.7 838.6,1078.1 840.0,1079.6 C841.3,1081.0 842.7,1082.4 844.1,1083.9 C845.5,1085.3 846.9,1086.7 848.4,1088.1 C849.8,1089.5 851.2,1090.9 852.6,1092.3 C854.1,1093.7 855.5,1095.1 857.0,1096.4 C858.4,1097.8 859.9,1099.2 861.4,1100.5 C862.8,1101.9 864.3,1103.2 865.8,1104.5 C867.3,1105.8 868.8,1107.1 870.3,1108.4 C871.8,1109.7 873.4,1111.0 874.9,1112.3 C876.4,1113.6 878.0,1114.8 879.5,1116.1 C881.1,1117.3 882.6,1118.6 884.2,1119.8 C885.8,1121.0 887.4,1122.2 889.0,1123.4 C890.6,1124.6 892.2,1125.8 893.8,1127.0 C895.4,1128.2 897.1,1129.3 898.7,1130.5 C900.4,1131.6 902.0,1132.7 903.7,1133.9 C905.3,1135.0 907.0,1136.1 908.7,1137.2 C910.4,1138.3 912.1,1139.3 913.8,1140.4 C915.5,1141.4 917.3,1142.5 919.0,1143.5 C920.8,1144.5 922.5,1145.6 924.3,1146.5 C926.1,1147.5 927.8,1148.5 929.6,1149.5 C931.4,1150.5 933.2,1151.4 935.1,1152.3 C936.9,1153.3 938.7,1154.2 940.6,1155.1 C942.4,1156.0 944.3,1156.9 946.2,1157.7 C948.0,1158.6 949.9,1159.4 951.8,1160.3 C953.7,1161.1 955.7,1161.9 957.6,1162.7"/>
<path d="M456.8,270.2 C454.6,271.2 452.5,272.3 450.5,273.5 C448.6,274.7 446.9,275.9 445.3,277.3 C443.7,278.6 442.2,280.1 440.9,281.6 C439.6,283.1 438.4,284.7 437.4,286.3 C436.4,287.9 435.5,289.7 434.8,291.4 C434.0,293.1 433.4,294.9 432.9,296.8 C432.4,298.6 432.0,300.5 431.8,302.4 C431.5,304.3 431.4,306.2 431.3,308.1 C431.3,310.1 431.4,312.0 431.5,314.0 C431.6,316.0 431.9,318.0 432.2,319.9 C432.4,321.9 432.8,323.9 433.0,325.9 C433.3,327.9 433.6,329.9 433.9,331.9 C434.1,333.9 434.3,335.9 434.4,337.9 C434.5,339.9 434.5,341.9 434.5,343.9 C434.5,345.9 434.4,347.9 434.2,349.9 C434.1,351.9 433.9,353.9 433.7,355.9 C433.6,357.9 433.3,359.9 433.1,361.9 C432.8,363.9 432.5,365.9 432.3,367.9 C432.0,369.9 431.7,371.8 431.5,373.8 C431.2,375.8 430.9,377.8 430.7,379.8 C430.4,381.8 430.2,383.8 430.0,385.8 C429.7,387.8 429.5,389.8 429.3,391.9 C429.1,393.9 428.8,395.9 428.6,397.9 C428.4,399.9 428.2,401.9 428.1,403.9 C427.9,405.9 427.7,407.9 427.5,409.9 C427.3,411.9 427.2,413.9 427.0,415.9 C426.8,418.0 426.7,420.0 426.5,422.0 C426.4,424.0 426.3,426.0 426.1,428.0 C426.0,430.0 425.9,432.0 425.8,434.1 C425.6,436.1 425.5,438.1 425.4,440.1 C425.3,442.1 425.2,444.1 425.1,446.1 C425.1,448.2 425.0,450.2 424.9,452.2 C424.8,454.2 424.8,456.2 424.7,458.2 C424.7,460.3 424.6,462.3 424.6,464.3 C424.5,466.3 424.5,468.3 424.5,470.4 C424.4,472.4 424.4,474.4 424.4,476.4 C424.4,478.4 424.4,480.5 424.4,482.5 C424.4,484.5 424.4,486.5 424.4,488.5 C424.4,490.5 424.4,492.6 424.5,494.6 C424.5,496.6 424.5,498.6 424.6,500.6 C424.6,502.7 424.7,504.7 424.7,506.7 C424.8,508.7 424.8,510.7 424.9,512.8 C425.0,514.8 425.1,516.8 425.1,518.8 C425.2,520.8 425.3,522.9 425.4,524.9 C425.5,526.9 425.6,528.9 425.7,530.9 C425.9,533.0 426.0,535.0 426.1,537.0 C426.2,539.0 426.4,541.0 426.5,543.0 C426.6,545.1 426.8,547.1 426.9,549.1 C427.1,551.1 427.3,553.1 427.4,555.1 C427.6,557.2 427.8,559.2 428.0,561.2 C428.1,563.2 428.3,565.2 428.5,567.2 C428.7,569.2 428.9,571.3 429.1,573.3 C429.4,575.3 429.6,577.3 429.8,579.3 C430.0,581.3 430.3,583.3 430.5,585.3 C430.7,587.3 431.0,589.4 431.2,591.4 C431.5,593.4 431.7,595.4 432.0,597.4 C432.3,599.4 432.5,601.4 432.8,603.4 C433.1,605.4 433.4,607.4 433.7,609.4 C434.0,611.4 434.3,613.4 434.6,615.4 C434.9,617.4 435.2,619.4 435.5,621.4 C435.8,623.4 436.1,625.4 436.4,627.4 C436.7,629.4 437.0,631.4 437.3,633.4 C437.7,635.4 438.0,637.4 438.3,639.4 C438.6,641.4 438.9,643.4 439.3,645.4 C439.6,647.4 439.9,649.4 440.2,651.4 C440.5,653.4 440.8,655.4 441.2,657.4 C441.5,659.4 441.8,661.4 442.1,663.4 C442.4,665.4 442.7,667.4 443.0,669.4 C443.3,671.4 443.6,673.4 443.9,675.4 C444.2,677.4 444.5,679.4 444.7,681.4 C445.0,683.4 445.3,685.4 445.6,687.4 C445.8,689.4 446.1,691.4 446.3,693.4 C446.6,695.4 446.8,697.4 447.1,699.4 C447.3,701.4 447.5,703.4 447.7,705.4 C448.0,707.4 448.2,709.4 448.4,711.4 C448.6,713.4 448.7,715.4 448.9,717.4 C449.1,719.5 449.3,721.5 449.4,723.5 C449.6,725.5 449.7,727.5 449.9,729.5 C450.0,731.5 450.2,733.5 450.3,735.5 C450.4,737.6 450.6,739.6 450.7,741.6 C450.8,743.6 450.9,745.6 451.0,747.6 C451.1,749.6 451.2,751.7 451.3,753.7 C451.4,755.7 451.5,757.7 451.6,759.7 C451.6,761.7 451.7,763.8 451.8,765.8 C451.9,767.8 451.9,769.8 452.0,771.8 C452.0,773.9 452.1,775.9 452.1,777.9 C452.2,779.9 452.2,781.9 452.3,784.0 C452.3,786.0 452.4,788.0 452.4,790.0 C452.4,792.1 452.5,794.1 452.5,796.1 C452.5,798.1 452.6,800.1 452.6,802.2 C452.6,804.2 452.6,806.2 452.7,808.2 C452.7,810.3 452.7,812.3 452.7,814.3 C452.7,816.3 452.7,818.4 452.8,820.4 C452.8,822.4 452.8,824.4 452.8,826.5 C452.8,828.5 452.8,830.5 452.8,832.5 C452.9,834.6 452.9,836.6 452.9,838.6 C452.9,840.6 452.9,842.7 452.9,844.7 C452.9,846.7 453.0,848.7 453.0,850.8 C453.0,852.8 453.0,854.8 453.0,856.8 C453.0,858.9 453.1,860.9 453.1,862.9 C453.1,864.9 453.1,867.0 453.2,869.0 C453.2,871.0 453.2,873.0 453.2,875.1 C453.3,877.1 453.3,879.1 453.3,881.1 C453.4,883.2 453.4,885.2 453.4,887.2 C453.5,889.2 453.5,891.3 453.5,893.3 C453.5,895.3 453.6,897.3 453.6,899.4 C453.6,901.4 453.7,903.4 453.7,905.4 C453.7,907.5 453.8,909.5 453.8,911.5 C453.8,913.5 453.8,915.5 453.9,917.6 C453.9,919.6 453.9,921.6 453.9,923.6 C453.9,925.7 454.0,927.7 454.0,929.7 C454.0,931.7 454.0,933.7 454.0,935.8 C454.0,937.8 454.0,939.8 454.0,941.8 C454.0,943.9 454.0,945.9 454.0,947.9 C454.0,949.9 454.0,951.9 454.0,954.0 C454.0,956.0 454.0,958.0 454.0,960.0 C454.0,962.0 453.9,964.1 453.9,966.1 C453.9,968.1 453.8,970.1 453.8,972.1 C453.8,974.2 453.7,976.2 453.7,978.2 C453.6,980.2 453.6,982.2 453.5,984.3 C453.4,986.3 453.4,988.3 453.3,990.3 C453.2,992.3 453.1,994.4 453.0,996.4 C452.9,998.4 452.9,1000.4 452.7,1002.4 C452.6,1004.4 452.5,1006.5 452.4,1008.5 C452.3,1010.5 452.2,1012.5 452.0,1014.5 C451.9,1016.5 451.8,1018.6 451.6,1020.6 C451.5,1022.6 451.3,1024.6 451.1,1026.6 C451.0,1028.6 450.8,1030.6 450.6,1032.7 C450.4,1034.7 450.2,1036.7 450.0,1038.7 C449.8,1040.7 449.6,1042.7 449.4,1044.7 C449.1,1046.8 448.9,1048.8 448.7,1050.8 C448.4,1052.8 448.1,1054.8 447.9,1056.8 C447.6,1058.8 447.3,1060.8 447.0,1062.8 C446.7,1064.8 446.4,1066.8 446.1,1068.8 C445.7,1070.8 445.4,1072.8 445.0,1074.8 C444.6,1076.8 444.2,1078.8 443.8,1080.7 C443.3,1082.7 442.9,1084.6 442.4,1086.6 C441.9,1088.5 441.4,1090.5 440.8,1092.4 C440.3,1094.3 439.7,1096.2 439.1,1098.1 C438.4,1100.0 437.8,1101.9 437.1,1103.7 C436.4,1105.6 435.6,1107.4 434.8,1109.3 C434.1,1111.1 433.2,1112.9 432.3,1114.7 C431.5,1116.5 430.5,1118.2 429.6,1120.0 C428.6,1121.7 427.6,1123.4 426.5,1125.1 C425.4,1126.8 424.3,1128.5 423.1,1130.1 C421.9,1131.8 420.6,1133.4 419.3,1135.0 C418.0,1136.6 416.6,1138.1 415.2,1139.7 C413.8,1141.2 412.3,1142.7 410.7,1144.2 C409.1,1145.7 407.5,1147.1 405.8,1148.5 C396.6,1151.4 387.3,1154.4 381.1,1156.8 C374.9,1159.2 371.7,1161.1 368.5,1163.0 C370.5,1163.2 372.5,1163.4 374.6,1163.6 C376.6,1163.8 378.6,1163.9 380.6,1164.0 C382.6,1164.0 384.7,1164.1 386.7,1164.1 C388.7,1164.1 390.7,1164.1 392.8,1164.1 C394.8,1164.0 396.8,1163.9 398.8,1163.8 C400.8,1163.7 402.9,1163.6 404.9,1163.4 C406.9,1163.3 408.9,1163.1 411.0,1162.9 C413.0,1162.7 415.0,1162.5 417.0,1162.3 C419.0,1162.1 421.1,1161.8 423.1,1161.6 C425.1,1161.3 427.1,1161.1 429.1,1160.8 C431.1,1160.5 433.2,1160.2 435.2,1159.9 C437.2,1159.6 439.2,1159.3 441.2,1159.0 C443.2,1158.7 445.3,1158.4 447.3,1158.1 C449.3,1157.8 451.3,1157.5 453.3,1157.2 C455.3,1156.9 457.3,1156.6 459.3,1156.3 C461.3,1156.1 463.3,1155.8 465.4,1155.5 C467.4,1155.3 469.4,1155.0 471.4,1154.8 C473.4,1154.6 475.4,1154.4 477.4,1154.2 C479.4,1154.0 481.4,1153.8 483.4,1153.7 C485.4,1153.6 487.4,1153.5 489.4,1153.4 C491.5,1153.4 493.5,1153.4 495.5,1153.4 C497.5,1153.4 499.5,1153.4 501.5,1153.5 C503.5,1153.5 505.5,1153.6 507.5,1153.7 C509.6,1153.8 511.6,1154.0 513.6,1154.1 C515.6,1154.3 517.6,1154.5 519.6,1154.7 C521.6,1154.9 523.7,1155.1 525.7,1155.3 C527.7,1155.5 529.7,1155.7 531.7,1155.9 C533.7,1156.1 535.8,1156.3 537.8,1156.5 C539.8,1156.7 541.8,1156.9 543.8,1157.0 C545.9,1157.2 547.9,1157.4 549.9,1157.5 C551.9,1157.6 553.9,1157.7 555.9,1157.8 C558.0,1157.9 560.0,1157.9 562.0,1158.0 C564.0,1158.0 566.0,1158.0 568.1,1158.0 C570.1,1157.9 572.1,1157.9 574.1,1157.8 C576.1,1157.8 578.2,1157.7 580.2,1157.6 C582.2,1157.6 584.2,1157.5 586.2,1157.4 C588.3,1157.3 590.3,1157.1 592.3,1157.0 C594.3,1156.9 596.3,1156.8 598.4,1156.7 C600.4,1156.6 602.4,1156.4 604.4,1156.3 C606.4,1156.2 608.5,1156.1 610.5,1156.0 C612.5,1155.9 614.5,1155.8 616.5,1155.8 C618.6,1155.7 620.6,1155.6 622.6,1155.5 C624.6,1155.5 626.6,1155.4 628.7,1155.4 C630.7,1155.4 632.7,1155.3 634.7,1155.3 C636.7,1155.3 638.8,1155.3 640.8,1155.2 C642.8,1155.2 644.8,1155.2 646.9,1155.2 C648.9,1155.2 650.9,1155.3 652.9,1155.3 C654.9,1155.3 657.0,1155.3 659.0,1155.4 C661.0,1155.4 663.0,1155.4 665.1,1155.5 C667.1,1155.5 669.1,1155.6 671.1,1155.6 C673.2,1155.7 675.2,1155.8 677.2,1155.8 C679.2,1155.9 681.2,1156.0 683.3,1156.1 C685.3,1156.1 687.3,1156.2 689.3,1156.3 C691.4,1156.4 693.4,1156.5 695.4,1156.6 C697.4,1156.7 699.5,1156.8 701.5,1156.9 C703.5,1157.0 705.5,1157.1 707.6,1157.3 C709.6,1157.4 711.6,1157.5 713.6,1157.6 C715.7,1157.7 717.7,1157.9 719.7,1158.0 C721.7,1158.1 723.8,1158.2 725.8,1158.4 C727.8,1158.5 729.8,1158.6 731.9,1158.8 C733.9,1158.9 735.9,1159.1 737.9,1159.2 C740.0,1159.3 742.0,1159.5 744.0,1159.6 C746.0,1159.8 748.1,1159.9 750.1,1160.1 C752.1,1160.2 754.1,1160.4 756.2,1160.5 C758.2,1160.6 760.2,1160.8 762.2,1160.9 C764.3,1161.1 766.3,1161.2 768.3,1161.4 C770.3,1161.5 772.4,1161.7 774.4,1161.8 C776.4,1162.0 778.5,1162.1 780.5,1162.3 C782.5,1162.4 784.5,1162.5 786.6,1162.7 C788.6,1162.8 790.6,1163.0 792.6,1163.1 C794.7,1163.2 796.7,1163.4 798.7,1163.5 C800.7,1163.7 802.8,1163.8 804.8,1163.9 C806.8,1164.0 808.8,1164.2 810.9,1164.3 C812.9,1164.4 814.9,1164.5 817.0,1164.6 C819.0,1164.8 821.0,1164.9 823.0,1165.0 C825.1,1165.1 827.1,1165.2 829.1,1165.3 C831.1,1165.4 833.2,1165.5 835.2,1165.6 C837.2,1165.7 839.2,1165.8 841.3,1165.9 C843.3,1165.9 845.3,1166.0 847.4,1166.1 C849.4,1166.2 851.4,1166.2 853.4,1166.3 C855.5,1166.3 857.5,1166.4 859.5,1166.4 C861.5,1166.5 863.6,1166.5 865.6,1166.6 C867.6,1166.6 869.7,1166.6 871.7,1166.7 C873.7,1166.7 875.7,1166.7 877.8,1166.7 C879.8,1166.7 881.8,1166.7 883.8,1166.7 C885.9,1166.7 887.9,1166.7 889.9,1166.7 C891.9,1166.6 894.0,1166.6 896.0,1166.6 C898.0,1166.5 900.1,1166.5 902.1,1166.4 C904.1,1166.4 906.1,1166.3 908.2,1166.2 C910.2,1166.1 912.2,1166.1 914.2,1166.0 C916.3,1165.9 918.3,1165.8 920.3,1165.6 C922.4,1165.5 924.4,1165.4 926.4,1165.3 C928.4,1165.1 930.5,1165.0 932.5,1164.8 C934.5,1164.7 936.5,1164.5 938.6,1164.3 C940.6,1164.1 942.6,1164.0 944.6,1163.8 C946.7,1163.6 948.7,1163.3 950.7,1163.1 C952.7,1162.9 954.8,1162.6 956.8,1162.4"/>
<path d="M455.1,262.6 C455.3,264.6 455.4,266.6 455.6,268.6 C455.8,270.6 456.1,272.6 456.3,274.6 C456.6,276.6 456.8,278.6 457.1,280.6 C457.4,282.6 457.7,284.6 458.0,286.6 C458.3,288.6 458.7,290.7 459.0,292.7 C459.4,294.7 459.7,296.7 460.1,298.7 C460.5,300.7 460.9,302.7 461.3,304.7 C461.7,306.7 462.1,308.8 462.5,310.8 C462.9,312.8 463.3,314.8 463.7,316.8 C464.1,318.8 464.6,320.9 465.0,322.9 C465.4,324.9 465.8,326.9 466.3,328.9 C466.7,330.9 467.1,333.0 467.6,335.0 C468.0,337.0 468.4,339.0 468.8,341.0 C469.3,343.1 469.7,345.1 470.1,347.1 C470.5,349.1 470.9,351.1 471.3,353.2 C471.7,355.2 472.1,357.2 472.4,359.2 C472.8,361.3 473.2,363.3 473.5,365.3 C473.9,367.3 474.2,369.3 474.5,371.4 C474.8,373.4 475.1,375.4 475.4,377.4 C475.7,379.5 476.0,381.5 476.2,383.5 C476.5,385.5 476.7,387.6 476.9,389.6 C477.1,391.6 477.3,393.6 477.4,395.6 C477.6,397.7 477.7,399.7 477.8,401.7 C477.9,403.7 478.0,405.8 478.0,407.8 C478.1,409.8 478.1,411.8 478.1,413.8 C478.1,415.9 478.0,417.9 477.9,419.9 C477.9,421.9 477.7,423.9 477.6,426.0 C477.5,428.0 477.3,430.0 477.1,432.0 C476.9,434.0 476.7,436.1 476.5,438.1 C476.3,440.1 476.0,442.1 475.7,444.1 C475.5,446.2 475.2,448.2 474.9,450.2 C474.6,452.2 474.3,454.2 474.0,456.3 C473.7,458.3 473.3,460.3 473.0,462.3 C472.7,464.4 472.4,466.4 472.0,468.4 C471.7,470.4 471.4,472.5 471.0,474.5 C470.7,476.5 470.4,478.5 470.0,480.6 C469.7,482.6 469.4,484.6 469.1,486.7 C468.8,488.7 468.5,490.7 468.2,492.7 C467.9,494.8 467.6,496.8 467.4,498.8 C467.1,500.9 466.9,502.9 466.7,505.0 C466.5,507.0 466.3,509.0 466.1,511.1 C465.9,513.1 465.8,515.2 465.7,517.2 C465.6,519.3 465.5,521.3 465.4,523.4 C465.3,525.4 465.3,527.5 465.3,529.5 C465.3,531.6 465.3,533.6 465.3,535.7 C465.3,537.7 465.4,539.8 465.4,541.8 C465.5,543.9 465.5,545.9 465.6,548.0 C465.7,550.1 465.7,552.1 465.8,554.2 C465.8,556.2 465.9,558.3 466.0,560.3 C466.0,562.3 466.0,564.4 466.1,566.4 C466.1,568.5 466.1,570.5 466.1,572.6 C466.1,574.6 466.1,576.6 466.0,578.6 C466.0,580.7 465.9,582.7 465.8,584.7 C465.7,586.7 465.5,588.8 465.4,590.8 C465.2,592.8 465.0,594.8 464.7,596.8 C464.5,598.8 464.2,600.8 463.8,602.8 C463.5,604.7 463.1,606.7 462.6,608.7 C462.2,610.7 461.7,612.6 461.1,614.6 C460.5,616.5 459.9,618.5 459.2,620.4 C458.5,622.4 457.7,624.3 456.9,626.2 C456.1,628.1 455.3,630.1 454.4,632.0 C453.5,633.9 452.6,635.8 451.7,637.7 C450.8,639.6 449.9,641.5 449.1,643.4 C448.3,645.3 447.4,647.1 446.7,649.0 C445.9,650.9 445.2,652.8 444.6,654.7 C444.0,656.6 443.4,658.5 443.0,660.3 C442.7,662.2 442.3,664.1 442.3,665.9 C442.2,667.8 442.2,669.6 442.6,671.3 C443.0,673.1 443.6,674.8 444.4,676.4 C445.3,678.0 446.5,679.5 447.8,681.0 C449.1,682.4 450.6,683.8 452.3,685.1 C453.9,686.4 455.8,687.5 457.6,688.6 C459.5,689.6 461.5,690.6 463.4,691.4 C465.4,692.2 467.5,692.9 469.4,693.5 C471.4,694.0 473.3,694.4 475.2,694.7 C474.2,692.9 473.2,691.2 472.1,689.5 C470.9,687.9 469.5,686.3 468.2,684.8 C466.8,683.3 465.3,681.8 463.8,680.4 C462.3,678.9 460.8,677.5 459.3,676.0 C457.9,674.6 456.5,673.1 455.1,671.6"/>
<path d="M509.6,284.5 C508.7,286.4 507.7,288.3 506.9,290.2 C506.1,292.1 505.3,294.0 504.7,295.9 C504.0,297.8 503.4,299.7 502.9,301.7 C502.4,303.6 501.9,305.5 501.5,307.5 C501.1,309.4 500.8,311.4 500.6,313.4 C500.3,315.4 500.1,317.3 499.9,319.3 C499.8,321.3 499.7,323.3 499.6,325.3 C499.6,327.3 499.6,329.3 499.6,331.3 C499.7,333.3 499.7,335.4 499.8,337.4 C500.0,339.4 500.1,341.4 500.3,343.5 C500.5,345.5 500.7,347.5 500.9,349.6 C501.1,351.6 501.4,353.7 501.7,355.7 C501.9,357.8 502.2,359.8 502.5,361.9 C502.8,363.9 503.1,366.0 503.4,368.0 C503.8,370.1 504.1,372.2 504.4,374.2 C504.7,376.3 505.1,378.4 505.4,380.4 C505.7,382.5 506.0,384.6 506.3,386.6 C506.6,388.7 506.9,390.7 507.2,392.8 C507.5,394.9 507.7,396.9 507.9,399.0 C508.2,401.1 508.4,403.1 508.6,405.2 C508.8,407.2 508.9,409.3 509.0,411.4 C509.1,413.4 509.2,415.5 509.3,417.5 C509.3,419.6 509.4,421.6 509.4,423.6 C509.3,425.7 509.3,427.7 509.3,429.8 C509.2,431.8 509.1,433.8 509.0,435.9 C508.9,437.9 508.7,440.0 508.6,442.0 C508.4,444.0 508.2,446.0 508.0,448.1 C507.8,450.1 507.6,452.1 507.3,454.2 C507.1,456.2 506.8,458.2 506.6,460.2 C506.3,462.3 506.0,464.3 505.7,466.3 C505.4,468.3 505.0,470.3 504.7,472.4 C504.4,474.4 504.0,476.4 503.6,478.4 C503.3,480.4 502.9,482.4 502.5,484.5 C502.1,486.5 501.8,488.5 501.4,490.5 C501.0,492.5 500.6,494.5 500.2,496.5 C499.8,498.6 499.4,500.6 498.9,502.6 C498.5,504.6 498.1,506.6 497.7,508.6 C497.3,510.6 496.9,512.7 496.5,514.7 C496.1,516.7 495.7,518.7 495.2,520.7 C494.8,522.7 494.4,524.8 494.1,526.8 C493.7,528.8 493.3,530.8 492.9,532.8 C492.5,534.8 492.1,536.9 491.8,538.9 C491.4,540.9 491.1,542.9 490.7,544.9 C490.4,547.0 490.1,549.0 489.8,551.0 C489.5,553.0 489.2,555.1 488.9,557.1 C488.6,559.1 488.3,561.2 488.1,563.2 C487.8,565.2 487.6,567.2 487.4,569.3 C487.2,571.3 487.0,573.3 486.8,575.4 C486.6,577.4 486.4,579.5 486.2,581.5 C486.0,583.5 485.8,585.6 485.7,587.6 C485.5,589.6 485.3,591.7 485.2,593.7 C485.0,595.7 484.9,597.8 484.7,599.8 C484.5,601.8 484.4,603.9 484.2,605.9 C484.1,608.0 483.9,610.0 483.7,612.0 C483.6,614.1 483.4,616.1 483.2,618.1 C483.1,620.1 482.9,622.2 482.7,624.2 C482.5,626.2 482.3,628.2 482.1,630.3 C481.9,632.3 481.7,634.3 481.5,636.3 C481.2,638.4 481.0,640.4 480.7,642.4 C480.5,644.4 480.2,646.4 479.9,648.4 C479.6,650.4 479.3,652.4 479.0,654.4 C478.7,656.4 478.2,658.5 478.0,660.4 C477.8,662.4 477.5,664.4 477.6,666.2 C477.8,668.1 478.0,669.9 478.9,671.5 C479.7,673.2 481.2,674.7 482.7,676.1 C484.2,677.6 486.3,678.9 487.7,680.3 C489.1,681.6 490.2,683.0 491.3,684.3 C488.5,684.2 485.8,684.2 483.3,683.7 C480.8,683.2 478.3,682.4 476.4,681.4 C474.5,680.4 473.1,679.2 471.8,678.0"/>
<path d="M464.9,670.5 C466.1,672.0 467.3,673.6 468.6,675.1 C469.8,676.6 471.1,678.0 472.5,679.4 C473.8,680.9 475.2,682.3 476.7,683.6 C478.1,685.0 479.5,686.3 481.0,687.5 C482.5,688.8 484.1,690.0 485.6,691.2 C484.6,691.5 483.6,691.9 482.1,691.8 C480.6,691.7 477.7,690.7 476.4,690.6 C475.1,690.5 474.8,690.7 474.5,691.0"/>
<path d="M502.0,910.4 C502.1,912.5 502.2,914.5 502.3,916.6 C502.4,918.7 502.6,920.8 502.7,922.8 C502.8,924.9 502.9,927.0 503.0,929.0 C503.2,931.1 503.3,933.2 503.4,935.3 C503.6,937.3 503.7,939.4 503.8,941.5 C504.0,943.5 504.1,945.6 504.2,947.7 C504.4,949.8 504.5,951.8 504.7,953.9 C504.8,956.0 505.0,958.0 505.1,960.1 C505.3,962.2 505.4,964.2 505.6,966.3 C505.7,968.4 505.9,970.5 506.0,972.5 C506.2,974.6 506.3,976.7 506.5,978.7 C506.6,980.8 506.8,982.9 507.0,984.9 C507.1,987.0 507.3,989.1 507.4,991.1 C507.6,993.2 507.7,995.3 507.9,997.4 C508.1,999.4 508.2,1001.5 508.4,1003.6 C508.5,1005.6 508.7,1007.7 508.8,1009.8 C509.0,1011.8 509.2,1013.9 509.3,1016.0 C509.5,1018.0 509.6,1020.1 509.8,1022.2 C509.9,1024.3 510.1,1026.3 510.2,1028.4 C510.4,1030.5 510.6,1032.5 510.7,1034.6 C510.9,1036.7 511.0,1038.7 511.1,1040.8 C511.3,1042.9 511.4,1045.0 511.6,1047.0 C511.7,1049.1 511.9,1051.2 512.0,1053.2 C512.1,1055.3 512.3,1057.4 512.4,1059.4 C512.5,1061.5 512.7,1063.6 512.8,1065.7 C512.9,1067.7 513.1,1069.8 513.2,1071.9 C513.3,1073.9 513.4,1076.0 513.5,1078.1 C513.6,1080.2 513.8,1082.2 513.9,1084.3 C514.0,1086.4 514.1,1088.4 514.2,1090.5 C514.3,1092.6 514.4,1094.7 514.5,1096.7 C514.6,1098.8 514.6,1100.9 514.7,1103.0 C514.8,1105.0 514.9,1107.1 515.0,1109.2 C515.0,1111.2 515.1,1113.3 515.2,1115.4 C515.2,1117.5 515.3,1119.5 515.4,1121.6 C515.4,1123.7 515.5,1125.8 515.5,1127.8 C515.5,1129.9 515.6,1132.0 515.6,1134.1 C515.7,1136.1 515.7,1138.2 515.7,1140.3"/>
<path d="M504.4,1094.1 C505.0,1113.3 505.5,1132.4 506.1,1151.6"/>
<path d="M614.0,840.4 C614.7,842.4 615.3,844.3 616.0,846.3 C616.7,848.2 617.4,850.2 618.1,852.1 C618.7,854.1 619.4,856.0 620.1,858.0 C620.8,859.9 621.5,861.9 622.2,863.8 C622.9,865.8 623.6,867.7 624.3,869.7 C625.0,871.6 625.7,873.6 626.4,875.5 C627.1,877.4 627.8,879.4 628.5,881.3 C629.2,883.3 629.9,885.2 630.6,887.2 C631.3,889.1 632.1,891.0 632.8,893.0 C633.5,894.9 634.2,896.9 634.9,898.8 C635.7,900.7 636.4,902.7 637.1,904.6 C637.9,906.5 638.6,908.5 639.3,910.4 C640.1,912.3 640.8,914.3 641.6,916.2 C642.3,918.1 643.0,920.1 643.8,922.0 C644.5,923.9 645.3,925.8 646.0,927.8 C646.8,929.7 647.6,931.6 648.3,933.5 C649.1,935.5 649.8,937.4 650.6,939.3 C651.4,941.2 652.2,943.1 652.9,945.1 C653.7,947.0 654.5,948.9 655.3,950.8 C656.0,952.7 656.8,954.6 657.6,956.5 C658.4,958.5 659.2,960.4 660.0,962.3 C660.8,964.2 661.5,966.1 662.3,968.0 C663.1,969.9 663.9,971.8 664.7,973.7 C665.5,975.6 666.4,977.5 667.2,979.4 C668.0,981.3 668.8,983.2 669.6,985.1 C670.4,987.0 671.2,988.9 672.1,990.8 C672.9,992.7 673.7,994.6 674.5,996.5 C675.4,998.4 676.2,1000.3 677.0,1002.2 C677.9,1004.1 678.7,1006.0 679.6,1007.9 C680.4,1009.8 681.2,1011.6 682.1,1013.5 C682.9,1015.4 683.8,1017.3 684.6,1019.2 C685.5,1021.1 686.4,1022.9 687.2,1024.8 C688.1,1026.7 688.9,1028.6 689.8,1030.5 C690.7,1032.3 691.6,1034.2 692.4,1036.1 C693.3,1037.9 694.2,1039.8 695.1,1041.7 C695.9,1043.6 696.8,1045.4 697.7,1047.3 C698.6,1049.2 699.5,1051.0 700.4,1052.9 C701.3,1054.7 702.2,1056.6 703.1,1058.5 C704.0,1060.3 704.9,1062.2 705.8,1064.0 C706.7,1065.9 707.6,1067.7 708.5,1069.6 C709.5,1071.5 710.4,1073.3 711.3,1075.2 C712.2,1077.0 713.2,1078.9 714.1,1080.7 C715.0,1082.5 716.0,1084.4 716.9,1086.2 C717.8,1088.1 718.8,1089.9 719.7,1091.7 C720.7,1093.6 721.6,1095.4 722.6,1097.3 C723.5,1099.1 724.5,1100.9 725.4,1102.8 C726.4,1104.6 727.3,1106.4 728.3,1108.2 C729.3,1110.1 730.2,1111.9 731.2,1113.7 C732.2,1115.5 733.2,1117.4 734.2,1119.2 C735.1,1121.0 736.1,1122.8 737.1,1124.6 C738.1,1126.5 739.1,1128.3 740.1,1130.1 C741.1,1131.9 742.1,1133.7 743.1,1135.5 C744.1,1137.3 745.1,1139.1 746.1,1140.9 C747.1,1142.7 748.1,1144.5 749.1,1146.3 C750.2,1148.1 751.2,1149.9 752.2,1151.7 C753.2,1153.5 754.3,1155.3 755.3,1157.1"/>
<path d="M761.4,1064.2 C762.4,1066.0 763.5,1067.8 764.5,1069.6 C765.5,1071.5 766.6,1073.3 767.6,1075.1 C768.6,1077.0 769.6,1078.8 770.6,1080.7 C771.7,1082.5 772.7,1084.4 773.7,1086.2 C774.7,1088.1 775.7,1089.9 776.8,1091.8 C777.8,1093.7 778.8,1095.5 779.8,1097.4 C780.9,1099.2 781.9,1101.1 783.0,1102.9 C784.0,1104.8 785.1,1106.6 786.2,1108.4 C787.2,1110.3 788.3,1112.1 789.4,1113.9 C790.5,1115.7 791.6,1117.5 792.8,1119.3 C793.9,1121.1 795.1,1122.9 796.2,1124.6 C797.4,1126.4 798.6,1128.1 799.8,1129.8 C801.0,1131.6 802.3,1133.3 803.5,1135.0 C804.8,1136.6 806.1,1138.3 807.4,1139.9 C808.7,1141.6 810.0,1143.2 811.4,1144.8 C812.8,1146.4 814.2,1147.9 815.6,1149.5 C817.1,1151.0 818.6,1152.5 820.1,1154.0 C821.6,1155.4 823.1,1156.9 824.7,1158.3 C826.3,1159.7 827.9,1161.1 829.6,1162.4 C831.2,1163.7 833.0,1165.0 834.7,1166.3"/>
</g>
<g fill="none" stroke="#0a0a0a" stroke-width="2.1" stroke-linecap="round" stroke-linejoin="miter" stroke-miterlimit="6">
<path d="M366.0,255.8 C367.5,254.2 369.0,252.6 370.4,251.0 C371.8,249.4 373.2,247.8 374.6,246.1 C376.0,244.5 377.3,242.8 378.6,241.1 C379.9,239.5 381.2,237.8 382.4,236.1 C383.6,234.4 384.8,232.7 386.0,230.9 C387.2,229.2 388.3,227.5 389.4,225.7 C390.6,224.0 391.6,222.2 392.7,220.4 C393.8,218.6 394.8,216.9 395.8,215.0 C396.8,213.2 397.8,211.4 398.7,209.6 C399.7,207.8 400.6,205.9 401.5,204.1 C402.4,202.2 403.3,200.3 404.1,198.5 C405.0,196.6 405.8,194.7 406.6,192.8 C407.4,190.9 408.2,189.0 408.9,187.0 C409.7,185.1 410.4,183.2 411.1,181.2 C411.8,179.3 412.5,177.3 413.1,175.3 C413.8,173.3 414.4,171.4 415.1,169.4 C415.7,167.4 416.3,165.4 416.9,163.4 C417.4,161.3 418.0,159.3 418.6,157.3 C419.1,155.2 419.6,153.2 420.1,151.1 C420.6,149.1 421.1,147.0 421.6,144.9 C422.1,142.9 422.5,140.8 423.0,138.7 C423.5,136.6 424.0,134.6 424.5,132.5 C425.0,130.4 425.5,128.4 426.1,126.4 C426.7,124.3 427.2,122.3 427.9,120.3 C428.6,118.3 429.3,116.4 430.0,114.4 C430.8,112.5 431.6,110.6 432.5,108.8 C433.4,106.9 434.4,105.1 435.4,103.4 C436.5,101.6 437.6,99.9 438.8,98.3 C439.9,96.7 441.2,95.1 442.5,93.6 C443.8,92.2 445.2,90.7 446.6,89.4 C448.1,88.1 449.6,86.9 451.2,85.7 C452.8,84.6 454.5,83.6 456.2,82.6 C458.0,81.7 459.8,80.9 461.7,80.2 C463.6,79.5 465.6,78.9 467.6,78.4 C469.7,78.0 471.8,77.6 474.0,77.5 C476.2,77.3 478.4,77.2 480.8,77.3 C483.2,77.4 485.6,77.8 488.1,78.1"/>
<path d="M486.0,79.1 C487.5,77.0 489.0,74.9 490.7,73.1 C492.4,71.4 494.1,70.0 496.0,68.8 C497.8,67.6 499.7,66.7 501.6,66.0 C503.6,65.3 505.5,64.8 507.5,64.5 C509.4,64.3 511.4,64.2 513.3,64.4 C515.2,64.5 517.1,64.9 518.9,65.4 C520.7,65.9 522.4,66.7 524.1,67.5 C525.7,68.4 527.3,69.4 528.8,70.5 C530.4,71.7 531.8,73.0 533.2,74.4 C534.6,75.8 535.9,77.3 537.3,78.9 C538.6,80.5 539.8,82.2 541.1,83.9 C542.3,85.7 543.5,87.5 544.7,89.4 C545.8,91.2 547.0,93.2 548.1,95.1 C549.3,97.0 550.4,99.0 551.5,100.9 C552.6,102.9 553.8,104.8 554.9,106.8 C556.0,108.7 557.2,110.6 558.3,112.4 C559.5,114.3 560.7,116.1 561.8,117.9 C563.0,119.7 564.3,121.4 565.5,123.1 C566.7,124.8 568.0,126.4 569.3,128.0 C570.5,129.7 571.8,131.3 573.2,132.8 C574.5,134.4 575.8,135.9 577.2,137.4 C578.6,138.9 580.0,140.4 581.4,141.8 C582.8,143.3 584.3,144.7 585.8,146.1 C587.2,147.6 588.7,149.0 590.3,150.4 C591.8,151.7 593.4,153.1 594.9,154.5 C596.5,155.8 598.2,157.2 599.8,158.5 C601.5,159.9 603.1,161.2 604.9,162.6 C606.6,163.9 608.3,165.3 610.1,166.6"/>
<path d="M557.2,112.6 C558.4,114.3 559.7,116.0 560.9,117.7 C562.1,119.4 563.3,121.1 564.5,122.8 C565.7,124.5 566.9,126.2 568.1,127.9 C569.3,129.7 570.5,131.4 571.7,133.2 C572.8,134.9 574.0,136.6 575.2,138.4 C576.4,140.1 577.5,141.9 578.7,143.7 C579.9,145.4 581.0,147.2 582.2,149.0 C583.3,150.7 584.5,152.5 585.7,154.3 C586.8,156.0 588.0,157.8 589.1,159.6 C590.3,161.4 591.5,163.1 592.6,164.9 C593.8,166.7 595.0,168.4 596.1,170.2 C597.3,172.0 598.5,173.7 599.6,175.5 C600.8,177.3 602.0,179.0 603.2,180.8 C604.4,182.5 605.5,184.3 606.7,186.0 C607.9,187.8 609.1,189.5 610.3,191.2 C611.5,193.0 612.8,194.7 614.0,196.4 C615.2,198.1 616.4,199.9 617.7,201.6 C618.9,203.3 620.2,205.0 621.4,206.6 C622.7,208.3 624.0,210.0 625.3,211.7 C626.5,213.3 627.8,215.0 629.1,216.6 C630.5,218.2 631.8,219.9 633.1,221.5 C634.4,223.1 635.8,224.7 637.2,226.3 C638.5,227.9 639.9,229.4 641.3,231.0 C642.7,232.5 644.1,234.1 645.5,235.6 C647.0,237.1 648.4,238.6 649.9,240.1 C651.3,241.6 652.8,243.1 654.3,244.5 C655.8,246.0 657.3,247.4 658.9,248.8 C660.4,250.2 662.0,251.6 663.6,253.0 C665.2,254.3 666.8,255.7 668.4,257.0"/>
<path d="M486.0,80.2 C487.4,81.7 488.8,83.3 490.2,84.9 C491.5,86.5 492.9,88.1 494.1,89.7 C495.4,91.3 496.7,92.9 497.9,94.6 C499.1,96.3 500.3,98.0 501.5,99.7 C502.6,101.3 503.7,103.1 504.8,104.8 C505.9,106.5 507.0,108.3 508.0,110.1 C509.1,111.8 510.1,113.6 511.0,115.4 C512.0,117.2 513.0,119.0 513.9,120.8 C514.8,122.7 515.7,124.5 516.6,126.4 C517.5,128.2 518.3,130.1 519.1,132.0 C520.0,133.8 520.8,135.7 521.6,137.6 C522.3,139.5 523.1,141.5 523.9,143.4 C524.6,145.3 525.3,147.2 526.0,149.2 C526.7,151.1 527.4,153.1 528.1,155.0 C528.8,157.0 529.4,159.0 530.0,160.9 C530.7,162.9 531.3,164.9 531.9,166.9 C532.5,168.9 533.1,170.9 533.7,172.9 C534.3,174.9 534.9,176.9 535.4,178.9 C536.0,180.9 536.5,182.9 537.1,184.9 C537.6,186.9 538.1,189.0 538.7,191.0 C539.2,193.0 539.7,195.0 540.2,197.1 C540.7,199.1 541.2,201.1 541.7,203.1 C542.2,205.2 542.7,207.2 543.2,209.2 C543.7,211.2 544.2,213.3 544.6,215.3 C545.1,217.3 545.6,219.3 546.1,221.4 C546.6,223.4 547.0,225.4 547.5,227.4 C548.0,229.4 548.5,231.4 549.0,233.4 C549.5,235.4 549.9,237.4 550.4,239.4 C550.9,241.4 551.4,243.4 551.9,245.4 C552.4,247.4 552.9,249.4 553.4,251.3 C554.0,253.3 554.5,255.2 555.0,257.2"/>
<path d="M483.8,82.4 C485.3,84.0 486.7,85.6 488.1,87.3 C489.5,89.0 490.8,90.7 492.0,92.5 C493.3,94.3 494.5,96.1 495.6,97.9 C496.7,99.8 497.8,101.7 498.8,103.6 C499.8,105.5 500.8,107.4 501.7,109.4 C502.6,111.4 503.4,113.4 504.2,115.4 C505.0,117.4 505.7,119.5 506.4,121.5 C507.0,123.6 507.6,125.7 508.2,127.8 C508.8,129.9 509.3,132.0 509.7,134.2 C510.2,136.3 510.6,138.5 510.9,140.6 C511.3,142.8 511.6,144.9 511.8,147.1 C512.1,149.3 512.3,151.4 512.4,153.6 C512.5,155.8 512.6,157.9 512.7,160.1 C512.7,162.3 512.7,164.4 512.6,166.6 C512.6,168.7 512.4,170.9 512.3,173.0"/>
<path d="M512.3,173.0 C514.6,172.4 516.9,171.8 519.2,171.5 C521.6,171.1 523.9,171.0 526.3,171.0 C528.7,171.0 531.1,171.2 533.6,171.4 C536.0,171.7 538.4,172.0 540.9,172.4 C543.3,172.7 545.8,173.2 548.3,173.5 C550.7,173.9 553.2,174.4 555.6,174.7 C558.1,175.0 560.5,175.3 563.0,175.5 C565.4,175.6 567.8,175.6 570.2,175.6 C572.7,174.4 575.2,173.2 577.7,172.1 C580.3,171.0 582.9,169.8 585.5,168.9 C588.2,168.0 590.9,167.1 593.6,166.5 C596.3,166.0 599.0,165.5 601.8,165.5 C604.5,165.6 607.3,166.1 610.1,166.6"/>
<path d="M366.0,255.8 C368.1,254.9 370.2,253.9 372.4,253.2 C374.5,252.4 376.7,251.8 378.9,251.4 C381.1,250.9 383.3,250.5 385.5,250.2 C387.8,250.0 390.0,249.8 392.3,249.8 C394.5,249.7 396.8,249.8 399.0,249.9 C401.3,250.1 403.6,250.3 405.8,250.6 C408.0,250.9 410.3,251.3 412.5,251.7 C414.7,252.2 416.9,252.7 419.1,253.3 C421.5,252.8 424.0,252.3 426.5,252.2 C428.9,252.2 431.5,252.5 434.0,253.0 C436.5,253.5 439.0,254.2 441.5,255.0 C444.0,255.8 446.4,256.8 448.8,257.7 C451.2,258.6 453.5,259.5 455.8,260.4 C458.2,260.1 460.7,259.8 463.1,259.5 C465.6,259.1 468.1,258.7 470.6,258.4 C473.1,258.1 475.6,257.7 478.1,257.6 C480.6,257.4 483.2,257.3 485.6,257.5 C488.1,257.6 490.5,257.9 492.9,258.5 C495.3,259.1 497.7,260.1 500.0,261.1 C502.2,260.5 504.4,259.8 506.6,259.2 C508.9,258.6 511.1,258.0 513.4,257.4 C515.7,256.8 518.1,256.3 520.4,255.8 C522.8,255.4 525.1,255.0 527.5,254.7 C529.8,254.4 532.2,254.2 534.5,254.1 C536.8,254.0 539.2,254.0 541.5,254.2 C543.8,254.4 546.1,254.7 548.3,255.2 C550.6,255.7 552.8,256.4 555.0,257.2"/>
<path d="M668.4,257.0 C666.3,257.7 664.2,258.4 662.0,258.8 C659.9,259.2 657.6,259.3 655.4,259.4 C653.2,259.5 651.0,259.4 648.7,259.3 C646.5,259.2 644.2,259.0 641.9,258.8 C639.7,258.6 637.4,258.3 635.1,258.2 C632.9,258.0 630.7,257.8 628.5,257.8 C626.3,257.8 624.1,257.8 621.9,258.0 C619.8,258.2 617.7,258.5 615.6,259.1 C613.6,259.7 611.6,260.5 609.6,261.5 C607.7,262.6 605.8,264.0 604.0,265.5 C601.8,265.4 599.6,265.3 597.3,264.9 C595.1,264.5 592.8,263.8 590.5,263.1 C588.2,262.5 585.9,261.6 583.7,260.9 C581.4,260.2 579.1,259.4 576.9,258.8 C574.6,258.3 572.4,257.8 570.2,257.6 C568.1,257.5 565.9,257.5 563.8,258.0 C561.8,258.5 559.7,259.2 557.8,260.6 C555.9,261.9 554.0,264.0 552.2,266.1 C550.0,265.0 547.9,263.8 545.6,262.9 C543.3,262.0 540.9,261.2 538.5,260.6 C536.1,259.9 533.6,259.5 531.2,259.2 C528.7,259.0 526.2,258.9 523.8,259.1 C521.3,259.3 518.9,259.7 516.5,260.4 C514.1,261.1 511.9,262.1 509.6,263.2"/>
<path d="M508.4,259.2 C508.8,261.2 509.1,263.2 509.4,265.2 C509.8,267.3 510.1,269.3 510.4,271.3 C510.7,273.3 511.0,275.3 511.3,277.4 C511.6,279.4 511.9,281.4 512.2,283.4 C512.5,285.5 512.8,287.5 513.0,289.5 C513.3,291.5 513.6,293.6 513.8,295.6 C514.1,297.6 514.3,299.7 514.5,301.7 C514.8,303.7 515.0,305.8 515.2,307.8 C515.5,309.9 515.7,311.9 515.9,313.9 C516.1,316.0 516.3,318.0 516.5,320.1 C516.7,322.1 516.9,324.2 517.1,326.2 C517.3,328.2 517.5,330.3 517.7,332.3 C517.9,334.4 518.1,336.4 518.3,338.5 C518.5,340.5 518.7,342.6 518.8,344.6 C519.0,346.7 519.2,348.7 519.4,350.8 C519.5,352.8 519.7,354.9 519.9,356.9 C520.1,359.0 520.2,361.0 520.4,363.1 C520.6,365.1 520.7,367.2 520.9,369.2 C521.1,371.3 521.3,373.3 521.4,375.4 C521.6,377.4 521.8,379.5 521.9,381.5 C522.1,383.6 522.3,385.6 522.5,387.7 C522.6,389.7 522.8,391.8 523.0,393.8 C523.2,395.9 523.4,397.9 523.6,400.0 C523.7,402.0 523.9,404.1 524.1,406.1 C524.3,408.2 524.5,410.2 524.7,412.3 C524.9,414.3 525.1,416.3 525.3,418.4 C525.6,420.4 525.8,422.5 526.0,424.5 C526.2,426.6 526.4,428.6 526.7,430.6 C526.9,432.7 527.1,434.7 527.4,436.7 C527.6,438.8 527.9,440.8 528.1,442.8 C528.4,444.9 528.7,446.9 528.9,448.9 C529.2,451.0 529.5,453.0 529.8,455.0 C530.1,457.1 530.4,459.1 530.7,461.1 C531.0,463.1 531.3,465.1 531.6,467.2 C532.0,469.2 532.3,471.2 532.7,473.2 C533.0,475.2 533.4,477.2 533.7,479.2 C534.1,481.3 534.5,483.3 534.9,485.3 C535.3,487.3 535.7,489.3 536.1,491.3 C536.5,493.3 536.9,495.3 537.3,497.3 C537.8,499.3 538.2,501.3 538.7,503.3 C539.2,505.2 539.6,507.2 540.1,509.2 C540.6,511.2 541.1,513.2 541.6,515.2 C542.1,517.1 542.7,519.1 543.2,521.1 C543.8,523.1 544.3,525.0 544.9,527.0 C545.5,529.0 546.1,530.9 546.7,532.9 C547.3,534.8 547.9,536.8 548.6,538.8 C549.2,540.7 549.9,542.7 550.5,544.6 C551.2,546.5 551.9,548.5 552.6,550.4 C553.3,552.4 554.1,554.3 554.8,556.2 C555.6,558.2 556.3,560.1 557.1,562.0"/>
<path d="M711.5,381.1 C709.1,381.5 706.7,381.8 704.4,382.4 C702.1,383.1 699.8,383.9 697.6,384.8 C695.4,385.7 693.2,386.8 691.2,388.0 C689.1,389.2 687.1,390.6 685.1,392.1 C683.2,393.5 681.4,395.1 679.6,396.8 C677.9,398.5 676.2,400.3 674.7,402.2 C673.2,404.0 671.8,406.0 670.5,408.0 C669.2,410.1 668.0,412.2 667.0,414.4 C665.9,416.5 665.1,418.8 664.3,421.0 C662.1,421.1 659.9,421.2 657.7,421.4 C655.5,421.6 653.3,421.9 651.2,422.2 C649.0,422.6 646.8,423.0 644.7,423.5 C642.5,424.0 640.3,424.5 638.2,425.1 C636.1,425.8 634.0,426.5 631.9,427.2 C629.8,428.0 627.7,428.8 625.7,429.7 C623.7,430.6 621.7,431.6 619.7,432.6 C617.8,433.7 615.8,434.8 613.9,435.9 C612.1,437.1 610.2,438.3 608.4,439.6 C606.6,440.9 604.9,442.2 603.2,443.6 C601.5,445.0 599.9,446.5 598.3,448.0 C596.1,447.1 593.9,446.2 591.6,445.4 C589.4,444.7 587.0,444.1 584.7,443.7 C582.4,443.2 580.0,442.8 577.6,442.6 C575.3,442.4 572.9,442.3 570.5,442.3 C568.1,442.3 565.7,442.4 563.3,442.6 C560.9,442.8 558.6,443.2 556.2,443.6 C553.9,444.1 551.5,444.6 549.2,445.3 C546.9,445.9 544.6,446.7 542.4,447.5 C540.2,448.4 538.0,449.3 535.8,450.4 C533.7,451.4 531.7,452.6 529.6,453.8"/>
<path d="M637.3,258.6 C637.7,260.6 638.2,262.7 638.6,264.7 C639.1,266.8 639.5,268.8 640.0,270.9 C640.5,272.9 641.0,275.0 641.6,277.1 C642.1,279.2 642.6,281.3 643.2,283.4 C643.8,285.4 644.4,287.5 645.0,289.6 C645.6,291.7 646.3,293.8 647.0,295.9 C647.6,298.0 648.3,300.0 649.0,302.1 C649.8,304.2 650.5,306.2 651.3,308.3 C652.1,310.3 652.9,312.4 653.7,314.4 C654.6,316.4 655.5,318.4 656.4,320.4 C657.3,322.4 658.2,324.3 659.2,326.3 C660.2,328.2 661.2,330.2 662.2,332.1 C663.2,333.9 664.3,335.8 665.4,337.7 C666.5,339.5 667.7,341.3 668.9,343.1 C670.1,344.9 671.3,346.7 672.6,348.4 C673.8,350.1 675.1,351.8 676.5,353.4 C677.8,355.1 679.2,356.7 680.7,358.2 C682.1,359.8 683.6,361.3 685.1,362.8 C686.6,364.3 688.2,365.7 689.8,367.1 C691.4,368.5 693.1,369.8 694.8,371.1 C696.5,372.3 698.2,373.6 700.1,374.8 C701.9,375.9 703.7,377.0 705.6,378.1 C707.5,379.2 709.5,380.1 711.5,381.1"/>
<path d="M548.7,256.3 C548.8,258.3 548.8,260.4 548.9,262.4 C549.0,264.5 549.0,266.5 549.1,268.6 C549.2,270.6 549.3,272.6 549.4,274.7 C549.5,276.7 549.6,278.8 549.7,280.9 C549.8,282.9 549.9,285.0 550.1,287.0 C550.2,289.1 550.3,291.1 550.5,293.2 C550.6,295.2 550.7,297.3 550.9,299.4 C551.1,301.4 551.2,303.5 551.4,305.5 C551.6,307.6 551.7,309.6 551.9,311.7 C552.1,313.8 552.3,315.8 552.5,317.9 C552.7,319.9 552.9,322.0 553.1,324.1 C553.4,326.1 553.6,328.2 553.8,330.2 C554.1,332.3 554.3,334.3 554.6,336.4 C554.8,338.4 555.1,340.5 555.4,342.6 C555.7,344.6 555.9,346.7 556.2,348.7 C556.5,350.8 556.9,352.8 557.2,354.8 C557.5,356.9 557.8,358.9 558.2,361.0 C558.5,363.0 558.9,365.1 559.2,367.1 C559.6,369.1 560.0,371.2 560.3,373.2 C560.7,375.2 561.1,377.3 561.5,379.3 C561.9,381.3 562.4,383.3 562.8,385.3 C563.2,387.4 563.7,389.4 564.1,391.4 C564.6,393.4 565.1,395.4 565.5,397.4 C566.0,399.4 566.5,401.4 567.0,403.4 C567.5,405.4 568.1,407.4 568.6,409.4 C569.1,411.4 569.7,413.4 570.2,415.4 C570.8,417.3 571.4,419.3 572.0,421.3 C572.6,423.3 573.2,425.2 573.8,427.2 C574.4,429.2 575.0,431.1 575.7,433.1 C576.3,435.0 577.0,437.0 577.7,438.9 C578.4,440.8 579.0,442.8 579.8,444.7 C580.5,446.6 581.2,448.5 581.9,450.5 C582.7,452.4 583.4,454.3 584.2,456.2 C585.0,458.1 585.7,460.0 586.5,461.9 C587.3,463.8 588.2,465.7 589.0,467.5 C589.8,469.4 590.7,471.3 591.6,473.1 C592.4,475.0 593.3,476.9 594.2,478.7 C595.1,480.5 596.0,482.4 597.0,484.2 C597.9,486.1 598.9,487.9 599.8,489.7 C600.8,491.5 601.8,493.3 602.8,495.1 C603.8,496.9 604.8,498.7 605.9,500.5 C606.9,502.3 608.0,504.1 609.1,505.8 C610.2,507.6 611.3,509.3 612.4,511.1 C613.5,512.8 614.7,514.6 615.8,516.3"/>
<path d="M615.8,516.3 C613.7,515.7 611.6,515.2 609.4,514.7 C607.3,514.2 605.1,513.7 603.0,513.3 C600.8,512.8 598.6,512.4 596.5,512.1 C594.3,511.7 592.1,511.4 589.9,511.1 C587.7,510.8 585.5,510.5 583.3,510.3 C581.1,510.1 578.9,510.0 576.7,509.8 C574.5,509.7 572.3,509.6 570.1,509.6 C567.9,509.6 565.7,509.6 563.5,509.6 C561.3,509.7 559.1,509.8 556.9,510.0 C554.7,510.1 552.5,510.3 550.3,510.6 C548.1,510.8 546.0,511.1 543.8,511.5 C541.7,511.9 539.5,512.3 537.4,512.8 C535.2,513.2 533.1,513.8 531.0,514.4 C528.9,514.9 526.8,515.6 524.7,516.3 C522.7,517.0 520.6,517.8 518.6,518.6 C516.5,519.4 514.5,520.3 512.5,521.3 C510.5,522.2 508.5,523.3 506.6,524.3 C504.6,525.4 502.7,526.6 500.8,527.8 C498.9,526.6 496.9,525.5 495.0,524.4 C493.0,523.3 491.0,522.3 489.0,521.4 C486.9,520.5 484.9,519.6 482.8,518.8 C480.7,518.0 478.6,517.3 476.5,516.7 C474.4,516.0 472.3,515.5 470.1,515.0 C468.0,514.5 465.8,514.1 463.6,513.7 C461.5,513.4 459.3,513.1 457.1,513.0 C454.9,512.8 452.7,512.7 450.6,512.6 C448.4,512.6 446.2,512.7 444.0,512.8 C441.8,512.9 439.6,513.2 437.5,513.5 C435.3,513.8 433.1,514.1 431.0,514.6 C428.8,515.1 426.7,515.6 424.5,516.2 C422.4,516.9 420.3,517.6 418.2,518.4 C416.1,519.2 414.1,520.1 412.0,521.0 C410.0,522.0 408.0,523.1 406.0,524.2 C403.9,523.2 401.8,522.2 399.7,521.5 C397.6,520.8 395.4,520.2 393.2,519.8 C391.0,519.4 388.8,519.2 386.6,519.0 C384.4,518.9 382.2,518.9 379.9,519.0 C377.7,519.1 375.4,519.3 373.2,519.6 C370.9,520.0 368.7,520.4 366.4,520.8 C364.2,521.3 361.9,521.9 359.7,522.5 C357.5,523.1 355.2,523.7 353.1,524.4 C350.9,525.1 348.7,525.9 346.5,526.6 C344.4,527.3 342.3,528.1 340.2,528.9 C338.1,529.6 336.0,530.4 334.0,531.1"/>
<path d="M390.7,249.7 C381.2,296.6 371.7,343.6 362.2,390.5 C352.7,437.4 343.1,484.4 333.5,531.4"/>
<path d="M348.7,529.4 C341.9,552.9 335.2,576.5 328.3,600.0 C321.4,623.5 314.5,647.1 307.5,670.7"/>
<path d="M307.5,670.7 C309.7,670.2 311.8,669.7 314.0,669.3 C316.2,668.9 318.4,668.5 320.6,668.2 C322.8,667.9 325.0,667.6 327.2,667.3 C329.4,667.1 331.6,666.9 333.8,666.7 C336.0,666.5 338.2,666.4 340.4,666.3 C342.6,666.2 344.8,666.1 347.0,666.1 C349.2,666.0 351.4,666.0 353.6,666.1 C355.9,666.1 358.1,666.2 360.3,666.2 C362.5,666.3 364.7,666.4 366.9,666.6 C369.2,666.7 371.4,666.9 373.6,667.0 C375.8,667.2 378.0,667.4 380.2,667.7 C382.4,667.9 384.6,668.1 386.8,668.4 C389.1,668.6 391.3,668.9 393.5,669.2 C395.7,669.5 397.9,669.8 400.1,670.1 C402.3,670.5 404.4,670.8 406.6,671.1 C408.8,671.5 411.0,671.8 413.2,672.2 C415.4,672.6 417.5,672.9 419.7,673.3 C421.8,672.6 423.8,671.9 425.9,671.3 C427.9,670.6 430.0,670.1 432.1,669.6 C434.2,669.1 436.3,668.7 438.4,668.4 C440.5,668.0 442.6,667.7 444.7,667.5 C446.8,667.2 448.9,667.1 451.0,666.9 C453.1,666.8 455.2,666.7 457.3,666.7 C459.4,666.7 461.6,666.7 463.7,666.7 C465.8,666.8 467.9,666.9 470.1,667.1 C472.2,667.2 474.3,667.4 476.4,667.6 C478.5,667.8 480.7,668.1 482.8,668.4 C484.9,668.6 487.0,669.0 489.1,669.3 C491.2,669.7 493.4,670.0 495.5,670.4 C497.6,670.8 499.7,671.2 501.8,671.7 C503.9,672.1 506.0,672.6 508.0,673.1 C510.1,673.5 512.2,674.0 514.3,674.5 C516.3,675.0 518.4,675.5 520.5,676.0 C522.5,676.6 524.6,677.1 526.6,677.6 C528.5,676.4 530.5,675.1 532.5,674.0 C534.5,673.0 536.5,672.0 538.6,671.1 C540.6,670.3 542.7,669.5 544.8,668.8 C546.9,668.2 549.1,667.6 551.2,667.1 C553.4,666.6 555.5,666.3 557.7,665.9 C559.9,665.6 562.1,665.4 564.3,665.2 C566.5,665.1 568.7,665.0 571.0,665.0 C573.2,665.0 575.4,665.1 577.7,665.2 C579.9,665.3 582.1,665.5 584.4,665.7 C586.6,666.0 588.8,666.3 591.0,666.6 C593.3,667.0 595.5,667.4 597.7,667.8 C599.9,668.2 602.1,668.7 604.3,669.2 C606.4,669.7 608.6,670.3 610.7,670.9 C612.9,671.5 615.0,672.1 617.1,672.7"/>
<path d="M571.8,510.2 C572.3,512.2 572.8,514.3 573.2,516.3 C573.7,518.3 574.1,520.4 574.5,522.4 C575.0,524.5 575.4,526.5 575.8,528.6 C576.2,530.6 576.6,532.7 577.0,534.7 C577.4,536.8 577.7,538.8 578.1,540.9 C578.5,543.0 578.9,545.0 579.2,547.1 C579.6,549.2 580.0,551.3 580.3,553.3 C580.7,555.4 581.1,557.5 581.4,559.5 C581.8,561.6 582.1,563.7 582.5,565.8 C582.9,567.8 583.2,569.9 583.6,572.0 C584.0,574.0 584.4,576.1 584.8,578.2 C585.1,580.3 585.5,582.3 585.9,584.4 C586.3,586.4 586.7,588.5 587.2,590.6 C587.6,592.6 588.0,594.7 588.5,596.7 C588.9,598.8 589.4,600.8 589.8,602.8 C590.3,604.9 590.8,606.9 591.3,608.9 C591.8,611.0 592.3,613.0 592.9,615.0 C593.4,617.0 594.0,619.0 594.6,621.0 C595.2,623.0 595.8,625.0 596.4,627.0 C597.0,629.0 597.7,631.0 598.4,632.9 C599.0,634.9 599.7,636.9 600.5,638.8 C601.2,640.8 602.0,642.7 602.8,644.6 C603.5,646.6 604.4,648.5 605.2,650.4 C606.1,652.3 606.9,654.2 607.9,656.1 C608.8,658.0 609.7,659.8 610.7,661.7 C611.7,663.6 612.7,665.4 613.8,667.2 C614.9,669.1 616.0,670.9 617.1,672.7"/>
<path d="M687.0,395.0 C687.6,397.0 688.2,399.1 688.8,401.1 C689.5,403.1 690.1,405.2 690.8,407.2 C691.5,409.2 692.3,411.2 693.0,413.2 C693.8,415.2 694.5,417.2 695.3,419.2 C696.2,421.2 697.0,423.1 697.9,425.1 C698.7,427.0 699.6,429.0 700.5,430.9 C701.5,432.8 702.4,434.7 703.4,436.6 C704.4,438.5 705.4,440.4 706.4,442.3 C707.5,444.1 708.6,446.0 709.7,447.8 C710.8,449.6 711.9,451.4 713.1,453.2 C714.3,454.9 715.5,456.7 716.7,458.4 C718.0,460.1 719.2,461.9 720.5,463.5 C721.8,465.2 723.2,466.9 724.5,468.5 C725.9,470.1 727.3,471.7 728.8,473.2 C730.2,474.8 731.7,476.3 733.2,477.8 C734.7,479.3 736.3,480.8 737.9,482.2 C739.4,483.7 741.1,485.1 742.7,486.4 C744.4,487.8 746.1,489.1 747.8,490.4"/>
<path d="M747.8,490.4 C745.6,490.9 743.4,491.3 741.2,491.9 C739.1,492.5 736.9,493.1 734.7,493.9 C732.5,494.6 730.4,495.4 728.3,496.4 C726.2,497.3 724.1,498.3 722.1,499.4 C720.1,500.4 718.1,501.6 716.2,502.9 C714.4,504.2 712.5,505.5 710.8,507.0 C709.1,508.4 707.5,510.0 706.0,511.6 C704.5,513.3 703.1,515.1 701.8,516.9 C700.5,518.8 699.4,520.7 698.4,522.8 C697.4,524.9 696.6,527.1 695.8,529.3 C693.6,529.3 691.4,529.4 689.2,529.4 C687.0,529.4 684.7,529.4 682.4,529.4 C680.1,529.4 677.7,529.4 675.4,529.5 C673.1,529.5 670.8,529.6 668.5,529.8 C666.1,529.9 663.8,530.1 661.6,530.4 C659.3,530.8 657.1,531.1 654.9,531.7 C652.7,532.2 650.6,532.8 648.5,533.6 C646.5,534.4 644.4,535.4 642.5,536.5 C640.6,537.6 638.8,538.9 637.1,540.4 C635.3,542.0 633.8,543.8 632.2,545.6 C630.1,545.6 627.9,545.7 625.8,545.7 C623.6,545.8 621.5,545.8 619.3,545.9 C617.1,546.0 614.9,546.1 612.7,546.2 C610.6,546.3 608.4,546.4 606.2,546.6 C604.0,546.8 601.8,547.0 599.6,547.2 C597.5,547.5 595.3,547.7 593.1,548.1 C591.0,548.4 588.8,548.8 586.7,549.3 C584.6,549.7 582.5,550.3 580.4,550.8 C578.3,551.4 576.3,552.1 574.3,552.8 C572.3,553.6 570.3,554.4 568.3,555.3 C566.4,556.3 564.5,557.3 562.6,558.4 C560.7,559.5 558.9,560.7 557.1,562.0"/>
<path d="M725.0,499.7 C725.2,501.8 725.5,504.0 725.8,506.1 C726.1,508.2 726.5,510.3 726.9,512.4 C727.3,514.5 727.8,516.5 728.4,518.6 C728.9,520.6 729.5,522.7 730.2,524.7 C730.8,526.7 731.5,528.6 732.3,530.6 C733.0,532.6 733.8,534.5 734.7,536.4 C735.5,538.3 736.4,540.2 737.4,542.1 C738.3,544.0 739.3,545.8 740.4,547.6 C741.4,549.4 742.5,551.2 743.6,553.0 C744.7,554.8 745.9,556.6 747.1,558.3 C748.3,560.0 749.5,561.7 750.8,563.4 C752.1,565.1 753.4,566.7 754.8,568.3 C756.1,569.9 757.5,571.5 758.9,573.1 C760.3,574.7 761.8,576.2 763.3,577.7 C764.7,579.2 766.3,580.7 767.8,582.2 C769.3,583.6 770.9,585.1 772.5,586.4 C774.1,587.8 775.7,589.2 777.3,590.5 C779.0,591.9 780.7,593.2 782.3,594.5 C784.0,595.7 785.7,597.0 787.5,598.2 C789.2,599.4 790.9,600.5 792.7,601.7"/>
<path d="M792.7,601.7 C790.5,601.9 788.3,602.0 786.1,602.3 C783.9,602.6 781.7,603.0 779.5,603.5 C777.3,603.9 775.1,604.5 772.9,605.1 C770.7,605.7 768.6,606.4 766.4,607.2 C764.3,608.0 762.2,608.8 760.2,609.8 C758.1,610.7 756.1,611.8 754.1,612.9 C752.1,614.0 750.2,615.1 748.3,616.4 C746.5,617.6 744.7,619.0 742.9,620.4 C741.2,621.8 739.5,623.3 737.9,624.9 C736.3,626.4 734.8,628.1 733.4,629.8 C732.0,631.5 730.6,633.3 729.4,635.2 C728.2,637.0 727.1,639.0 726.0,641.0 C723.7,641.1 721.5,641.2 719.2,641.4 C716.9,641.6 714.6,641.9 712.4,642.2 C710.1,642.6 707.8,643.0 705.6,643.5 C703.3,644.0 701.1,644.6 698.9,645.3 C696.7,646.0 694.5,646.7 692.4,647.6 C690.3,648.4 688.2,649.4 686.2,650.4 C684.2,651.5 682.3,652.7 680.4,653.9 C678.6,655.2 676.8,656.5 675.1,658.0 C673.4,659.5 671.8,661.1 670.3,662.8 C668.8,664.5 667.4,666.3 666.1,668.2 C664.8,670.2 663.7,672.3 662.6,674.4 C660.2,674.7 657.8,675.0 655.5,675.5 C653.2,676.0 651.0,676.8 648.8,677.7 C646.7,678.5 644.5,679.6 642.5,680.7 C640.4,681.9 638.4,683.2 636.5,684.6 C634.5,686.0 632.7,687.5 630.8,689.0 C629.0,690.6 627.3,692.2 625.6,693.9 C623.8,695.5 622.2,697.3 620.6,699.0 C619.0,700.8 617.5,702.5 616.0,704.3"/>
<path d="M540.4,512.1 C540.8,514.1 541.2,516.0 541.7,518.0 C542.1,520.0 542.5,522.0 542.9,523.9 C543.3,525.9 543.7,527.9 544.1,529.9 C544.5,531.9 545.0,533.9 545.4,535.9 C545.8,537.9 546.2,540.0 546.6,542.0 C547.0,544.0 547.5,546.0 547.9,548.0 C548.3,550.0 548.7,552.1 549.2,554.1 C549.6,556.1 550.0,558.2 550.5,560.2 C550.9,562.2 551.4,564.2 551.8,566.3 C552.3,568.3 552.7,570.3 553.2,572.3 C553.7,574.4 554.1,576.4 554.6,578.4 C555.1,580.5 555.6,582.5 556.1,584.5 C556.6,586.5 557.1,588.5 557.7,590.5 C558.2,592.6 558.7,594.6 559.3,596.6 C559.8,598.6 560.4,600.6 561.0,602.6 C561.6,604.6 562.1,606.6 562.8,608.5 C563.4,610.5 564.0,612.5 564.6,614.5 C565.3,616.4 565.9,618.4 566.6,620.4 C567.2,622.3 567.9,624.3 568.6,626.2 C569.3,628.1 570.0,630.1 570.8,632.0 C571.5,633.9 572.3,635.8 573.1,637.7 C573.8,639.6 574.6,641.5 575.5,643.4 C576.3,645.2 577.1,647.1 578.0,648.9 C578.8,650.8 579.7,652.6 580.6,654.5 C581.5,656.3 582.5,658.1 583.4,659.9 C584.4,661.7 585.4,663.5 586.4,665.2 C587.4,667.0 588.4,668.8 589.5,670.5 C590.5,672.2 591.6,674.0 592.7,675.7 C593.8,677.4 595.0,679.1 596.2,680.7 C597.3,682.4 598.5,684.0 599.7,685.7 C601.0,687.3 602.2,688.9 603.5,690.5 C604.8,692.1 606.1,693.7 607.5,695.2 C608.8,696.8 610.2,698.3 611.6,699.8 C613.1,701.3 614.5,702.8 616.0,704.3"/>
<path d="M540.4,512.1 C540.7,514.1 541.0,516.1 541.3,518.1 C541.6,520.1 541.9,522.1 542.2,524.1 C542.6,526.1 542.9,528.1 543.2,530.1 C543.5,532.1 543.8,534.1 544.1,536.1 C544.4,538.2 544.7,540.2 545.0,542.2 C545.3,544.2 545.6,546.2 545.9,548.2 C546.2,550.2 546.5,552.2 546.8,554.3 C547.2,556.3 547.5,558.3 547.8,560.3 C548.1,562.3 548.4,564.3 548.7,566.4 C549.0,568.4 549.4,570.4 549.7,572.4 C550.0,574.4 550.3,576.4 550.7,578.5 C551.0,580.5 551.3,582.5 551.7,584.5 C552.0,586.5 552.3,588.5 552.7,590.6 C553.0,592.6 553.4,594.6 553.7,596.6 C554.1,598.6 554.4,600.6 554.8,602.7 C555.1,604.7 555.5,606.7 555.8,608.7 C556.2,610.7 556.6,612.7 557.0,614.7 C557.3,616.7 557.7,618.7 558.1,620.8 C558.5,622.8 558.9,624.8 559.3,626.8 C559.7,628.8 560.1,630.8 560.5,632.8 C560.9,634.8 561.3,636.8 561.7,638.8 C562.2,640.8 562.6,642.8 563.0,644.8 C563.5,646.8 563.9,648.7 564.4,650.7 C564.8,652.7 565.3,654.7 565.7,656.7 C566.2,658.7 566.7,660.7 567.2,662.6 C567.6,664.6 568.1,666.6 568.6,668.6 C569.1,670.5 569.6,672.5 570.1,674.5 C570.7,676.5 571.2,678.4 571.7,680.4 C572.3,682.3 572.8,684.3 573.3,686.3 C573.9,688.2 574.5,690.2 575.0,692.1 C575.6,694.1 576.2,696.0 576.8,697.9 C577.4,699.9 578.0,701.8 578.6,703.8 C579.2,705.7 579.8,707.6 580.5,709.6 C581.1,711.5 581.7,713.4 582.4,715.3 C583.1,717.2 583.7,719.1 584.4,721.1 C585.1,723.0 585.8,724.9 586.5,726.8 C587.2,728.7 587.9,730.6 588.6,732.5 C589.3,734.4 590.0,736.3 590.8,738.1 C591.5,740.0 592.3,741.9 593.0,743.8 C593.8,745.7 594.6,747.5 595.3,749.4 C596.1,751.3 596.9,753.2 597.7,755.0 C598.5,756.9 599.3,758.8 600.1,760.6 C600.9,762.5 601.7,764.3 602.6,766.2 C603.4,768.0 604.2,769.9 605.1,771.7 C605.9,773.6 606.8,775.4 607.6,777.2 C608.5,779.1 609.4,780.9 610.3,782.7 C611.1,784.6 612.0,786.4 612.9,788.2 C613.8,790.1 614.7,791.9 615.6,793.7 C616.5,795.5 617.4,797.3 618.4,799.1 C619.3,800.9 620.2,802.8 621.2,804.6 C622.1,806.4 623.0,808.2 624.0,810.0 C624.9,811.8 625.9,813.6 626.9,815.4 C627.8,817.2 628.8,818.9 629.8,820.7 C630.7,822.5 631.7,824.3 632.7,826.1 C633.7,827.9 634.7,829.7 635.7,831.4 C636.7,833.2 637.7,835.0 638.7,836.8 C639.7,838.5 640.7,840.3 641.8,842.1 C642.8,843.8 643.8,845.6 644.8,847.4 C645.9,849.1 646.9,850.9 647.9,852.6 C649.0,854.4 650.0,856.1 651.1,857.9 C652.1,859.6 653.2,861.4 654.2,863.1 C655.3,864.9 656.3,866.6 657.4,868.4 C658.5,870.1 659.5,871.9 660.6,873.6 C661.7,875.3 662.8,877.1 663.8,878.8 C664.9,880.5 666.0,882.3 667.1,884.0 C668.2,885.7 669.3,887.5 670.3,889.2 C671.4,890.9 672.5,892.6 673.6,894.3 C674.7,896.1 675.8,897.8 676.9,899.5 C678.0,901.2 679.1,902.9 680.2,904.6 C681.3,906.4 682.4,908.1 683.6,909.8 C684.7,911.5 685.8,913.2 686.9,914.9 C688.0,916.6 689.1,918.3 690.2,920.0 C691.3,921.7 692.5,923.4 693.6,925.1 C694.7,926.8 695.8,928.5 696.9,930.2 C698.1,931.9 699.2,933.6 700.3,935.3"/>
<path d="M556.7,623.7 C556.8,625.7 556.9,627.7 557.0,629.8 C557.1,631.8 557.3,633.8 557.4,635.8 C557.5,637.8 557.7,639.9 557.8,641.9 C558.0,643.9 558.1,645.9 558.3,647.9 C558.5,649.9 558.7,651.9 558.9,653.9 C559.1,655.9 559.3,658.0 559.5,660.0 C559.7,662.0 559.9,664.0 560.2,666.0 C560.4,668.0 560.6,670.0 560.9,672.0 C561.1,674.0 561.4,676.0 561.6,677.9 C561.9,679.9 562.2,681.9 562.5,683.9 C562.7,685.9 563.0,687.9 563.3,689.9 C563.6,691.9 563.9,693.9 564.3,695.9 C564.6,697.8 564.9,699.8 565.2,701.8 C565.6,703.8 565.9,705.8 566.2,707.7 C566.6,709.7 567.0,711.7 567.3,713.7 C567.7,715.6 568.0,717.6 568.4,719.6 C568.8,721.6 569.2,723.5 569.6,725.5 C570.0,727.5 570.4,729.4 570.8,731.4 C571.2,733.4 571.6,735.3 572.0,737.3 C572.4,739.3 572.8,741.2 573.3,743.2 C573.7,745.2 574.1,747.1 574.6,749.1 C575.0,751.0 575.5,753.0 575.9,755.0 C576.4,756.9 576.9,758.9 577.3,760.8 C577.8,762.8 578.3,764.7 578.7,766.7 C579.2,768.6 579.7,770.6 580.2,772.5 C580.7,774.5 581.2,776.4 581.7,778.4 C582.2,780.3 582.7,782.3 583.2,784.2 C583.7,786.2 584.2,788.1 584.8,790.0 C585.3,792.0 585.8,793.9 586.3,795.9 C586.9,797.8 587.4,799.7 587.9,801.7 C588.5,803.6 589.0,805.5 589.6,807.5 C590.1,809.4 590.7,811.3 591.2,813.3 C591.8,815.2 592.4,817.1 592.9,819.1 C593.5,821.0 594.1,822.9 594.6,824.9 C595.2,826.8 595.8,828.7 596.4,830.6 C596.9,832.6 597.5,834.5 598.1,836.4 C598.7,838.4 599.3,840.3 599.9,842.2 C600.5,844.1 601.1,846.0 601.7,848.0 C602.3,849.9 602.9,851.8 603.5,853.7 C604.1,855.6 604.7,857.6 605.3,859.5 C605.9,861.4 606.5,863.3 607.1,865.2 C607.7,867.1 608.4,869.1 609.0,871.0 C609.6,872.9 610.2,874.8 610.9,876.7 C611.5,878.6 612.1,880.5 612.8,882.4 C613.4,884.4 614.0,886.3 614.7,888.2 C615.3,890.1 616.0,892.0 616.6,893.9 C617.2,895.8 617.9,897.7 618.6,899.6 C619.2,901.5 619.9,903.4 620.5,905.3 C621.2,907.2 621.9,909.1 622.5,911.0 C623.2,912.9 623.9,914.8 624.6,916.7 C625.2,918.6 625.9,920.5 626.6,922.4 C627.3,924.3 628.0,926.1 628.7,928.0 C629.4,929.9 630.1,931.8 630.8,933.7 C631.5,935.6 632.2,937.5 632.9,939.4 C633.6,941.2 634.3,943.1 635.0,945.0 C635.7,946.9 636.5,948.8 637.2,950.6 C637.9,952.5 638.7,954.4 639.4,956.3 C640.1,958.1 640.9,960.0 641.6,961.9 C642.4,963.7 643.1,965.6 643.9,967.5 C644.6,969.3 645.4,971.2 646.2,973.1 C646.9,974.9 647.7,976.8 648.5,978.7 C649.3,980.5 650.1,982.4 650.8,984.2 C651.6,986.1 652.4,987.9 653.2,989.8 C654.0,991.7 654.8,993.5 655.6,995.4 C656.4,997.2 657.3,999.0 658.1,1000.9 C658.9,1002.7 659.7,1004.6 660.6,1006.4 C661.4,1008.3 662.2,1010.1 663.1,1011.9 C663.9,1013.8 664.8,1015.6 665.6,1017.4 C666.5,1019.3 667.3,1021.1 668.2,1022.9 C669.1,1024.8 669.9,1026.6 670.8,1028.4 C671.7,1030.2 672.6,1032.1 673.5,1033.9 C674.4,1035.7 675.3,1037.5 676.2,1039.3 C677.1,1041.1 678.0,1043.0 678.9,1044.8 C679.8,1046.6 680.7,1048.4 681.7,1050.2 C682.6,1052.0 683.5,1053.8 684.5,1055.6 C685.4,1057.4 686.4,1059.2 687.3,1061.0 C688.3,1062.8 689.2,1064.6 690.2,1066.4 C691.2,1068.2 692.2,1069.9 693.2,1071.7 C694.1,1073.5 695.1,1075.3 696.1,1077.1 C697.1,1078.8 698.1,1080.6 699.1,1082.4 C700.2,1084.1 701.2,1085.9 702.2,1087.6 C703.2,1089.4 704.3,1091.1 705.3,1092.9 C706.3,1094.6 707.4,1096.4 708.5,1098.1 C709.5,1099.9 710.6,1101.6 711.6,1103.3 C712.7,1105.0 713.8,1106.8 714.9,1108.5 C716.0,1110.2 717.1,1111.9 718.2,1113.6 C719.3,1115.3 720.4,1117.0 721.5,1118.7 C722.6,1120.4 723.8,1122.1 724.9,1123.7 C726.0,1125.4 727.2,1127.1 728.3,1128.7 C729.5,1130.4 730.6,1132.1 731.8,1133.7 C733.0,1135.4 734.1,1137.0 735.3,1138.6 C736.5,1140.3 737.7,1141.9 738.9,1143.5 C740.1,1145.2 741.3,1146.8 742.5,1148.4 C743.8,1150.0 745.0,1151.6 746.2,1153.2 C747.5,1154.7 748.7,1156.3 750.0,1157.9 C751.2,1159.5 752.5,1161.0 753.8,1162.6 C755.0,1164.1 756.3,1165.7 757.6,1167.2 C758.9,1168.8 760.2,1170.3 761.5,1171.8 C762.8,1173.3 764.1,1174.8 765.5,1176.3 C766.8,1177.8 768.1,1179.3 769.5,1180.8 C770.8,1182.3 772.2,1183.7 773.5,1185.2 C774.9,1186.6 776.3,1188.1 777.7,1189.5 C779.1,1191.0 780.5,1192.4 781.9,1193.8 C783.3,1195.2 784.7,1196.6 786.1,1198.0 C787.5,1199.4 789.0,1200.8 790.4,1202.2 C791.9,1203.5 793.3,1204.9 794.8,1206.2 C796.2,1207.6 797.7,1208.9 799.2,1210.2 C800.7,1211.6 802.2,1212.9 803.7,1214.2 C805.2,1215.5 806.7,1216.8 808.2,1218.0 C809.8,1219.3 811.3,1220.6 812.8,1221.8 C814.4,1223.1 816.0,1224.3 817.5,1225.5 C819.1,1226.7 820.7,1227.9 822.3,1229.1 C823.9,1230.3 825.5,1231.5 827.1,1232.7 C828.7,1233.8 830.3,1235.0 831.9,1236.1 C833.6,1237.3 835.2,1238.4 836.9,1239.5 C838.5,1240.6 840.2,1241.7 841.9,1242.8 C843.5,1243.9 845.2,1245.0 846.9,1246.0 C848.6,1247.1 850.3,1248.1 852.0,1249.1 C853.7,1250.2 855.4,1251.2 857.2,1252.2 C858.9,1253.2 860.6,1254.1 862.4,1255.1 C864.1,1256.1 865.9,1257.0 867.7,1257.9 C869.4,1258.9 871.2,1259.8 873.0,1260.7 C874.8,1261.6 876.5,1262.5 878.3,1263.3 C880.1,1264.2 882.0,1265.1 883.8,1265.9 C885.6,1266.7 887.4,1267.5 889.2,1268.3 C891.1,1269.1 892.9,1269.9 894.7,1270.7 C896.6,1271.5 898.4,1272.2 900.3,1272.9 C902.2,1273.7 904.0,1274.4 905.9,1275.1 C907.8,1275.8 909.7,1276.5 911.6,1277.1 C913.4,1277.8 915.3,1278.4 917.2,1279.1 C919.1,1279.7 921.0,1280.3 923.0,1280.9 C924.9,1281.5 926.8,1282.1 928.7,1282.6 C930.7,1283.2 932.6,1283.7 934.5,1284.2 C936.5,1284.7 938.4,1285.2 940.4,1285.7 C942.3,1286.2 944.3,1286.7 946.2,1287.1 C948.2,1287.5 950.2,1288.0 952.1,1288.4 C954.1,1288.8 956.1,1289.1 958.1,1289.5 C960.0,1289.9 962.0,1290.2 964.0,1290.5 C966.0,1290.9 968.0,1291.2 970.0,1291.4 C972.0,1291.7 974.0,1292.0 976.0,1292.2 C978.0,1292.5 980.0,1292.7 982.1,1292.9 C984.1,1293.1 986.1,1293.3 988.1,1293.4 C990.2,1293.6 992.2,1293.7 994.2,1293.8 C996.3,1294.0 998.3,1294.0 1000.3,1294.1 C1002.4,1294.2 1004.4,1294.2 1006.5,1294.3 C1008.5,1294.3 1010.6,1294.3 1012.6,1294.3 C1014.7,1294.3 1016.7,1294.2 1018.8,1294.2 C1020.8,1294.1 1022.9,1294.0 1025.0,1293.9 C1027.0,1293.8 1029.1,1293.7 1031.1,1293.6 C1033.2,1293.4 1035.3,1293.2 1037.4,1293.0 C1039.4,1292.8 1041.5,1292.6 1043.6,1292.4 C1045.6,1292.1 1047.7,1291.9 1049.8,1291.6"/>
<path d="M1049.8,1291.6 C1051.8,1291.8 1053.8,1292.0 1055.9,1292.2 C1057.9,1292.4 1059.9,1292.5 1061.9,1292.7 C1064.0,1292.9 1066.0,1293.1 1068.0,1293.3 C1070.0,1293.5 1072.1,1293.7 1074.1,1293.9 C1076.1,1294.0 1078.1,1294.2 1080.1,1294.4 C1082.2,1294.6 1084.2,1294.8 1086.2,1295.0 C1088.2,1295.2 1090.3,1295.4 1092.3,1295.5 C1094.3,1295.7 1096.3,1295.9 1098.4,1296.1 C1100.4,1296.3 1102.4,1296.5 1104.4,1296.7 C1106.4,1296.8 1108.5,1297.0 1110.5,1297.2 C1112.5,1297.4 1114.5,1297.6 1116.6,1297.8 C1118.6,1298.0 1120.6,1298.1 1122.6,1298.3 C1124.7,1298.5 1126.7,1298.7 1128.7,1298.9 C1130.7,1299.1 1132.8,1299.2 1134.8,1299.4 C1136.8,1299.6 1138.8,1299.8 1140.8,1300.0 C1142.9,1300.2 1144.9,1300.3 1146.9,1300.5 C1148.9,1300.7 1151.0,1300.9 1153.0,1301.1 C1155.0,1301.2 1157.0,1301.4 1159.1,1301.6 C1161.1,1301.8 1163.1,1302.0 1165.1,1302.1 C1167.2,1302.3 1169.2,1302.5 1171.2,1302.7 C1173.2,1302.9 1175.3,1303.0 1177.3,1303.2 C1179.3,1303.4 1181.3,1303.6 1183.4,1303.8 C1185.4,1303.9 1187.4,1304.1 1189.4,1304.3 C1191.5,1304.5 1193.5,1304.6 1195.5,1304.8 C1197.5,1305.0 1199.6,1305.2 1201.6,1305.3 C1203.6,1305.5 1205.6,1305.7 1207.7,1305.9 C1209.7,1306.0 1211.7,1306.2 1213.7,1306.4 C1215.8,1306.5 1217.8,1306.7 1219.8,1306.9 C1221.8,1307.0 1223.9,1307.2 1225.9,1307.4 C1227.9,1307.6 1229.9,1307.7 1232.0,1307.9 C1234.0,1308.1 1236.0,1308.2 1238.0,1308.4 C1240.1,1308.6 1242.1,1308.7 1244.1,1308.9 C1246.1,1309.1 1248.2,1309.2 1250.2,1309.4 C1252.2,1309.5 1254.2,1309.7 1256.3,1309.9 C1258.3,1310.0 1260.3,1310.2 1262.3,1310.4 C1264.4,1310.5 1266.4,1310.7 1268.4,1310.8 C1270.4,1311.0 1272.5,1311.2 1274.5,1311.3 C1276.5,1311.5 1278.5,1311.6 1280.6,1311.8 C1282.6,1311.9 1284.6,1312.1 1286.7,1312.2 C1288.7,1312.4 1290.7,1312.6 1292.7,1312.7 C1294.8,1312.9 1296.8,1313.0 1298.8,1313.2 C1300.8,1313.3 1302.9,1313.5 1304.9,1313.6 C1306.9,1313.8 1308.9,1313.9 1311.0,1314.1 C1313.0,1314.2 1315.0,1314.4 1317.1,1314.5 C1319.1,1314.6 1321.1,1314.8 1323.1,1314.9 C1325.2,1315.1 1327.2,1315.2 1329.2,1315.4 C1331.2,1315.5 1333.3,1315.6 1335.3,1315.8 C1337.3,1315.9 1339.4,1316.1 1341.4,1316.2 C1343.4,1316.3 1345.4,1316.5 1347.5,1316.6 C1349.5,1316.7 1351.5,1316.9 1353.5,1317.0 C1355.6,1317.1 1357.6,1317.3 1359.6,1317.4 C1361.7,1317.5 1363.7,1317.7 1365.7,1317.8 C1367.7,1317.9 1369.8,1318.1 1371.8,1318.2 C1373.8,1318.3 1375.9,1318.4 1377.9,1318.6 C1379.9,1318.7 1381.9,1318.8 1384.0,1318.9 C1386.0,1319.1 1388.0,1319.2 1390.0,1319.3 C1392.1,1319.4 1394.1,1319.5 1396.1,1319.7 C1398.2,1319.8 1400.2,1319.9 1402.2,1320.0 C1404.2,1320.1 1406.3,1320.2 1408.3,1320.3 C1410.3,1320.5 1412.4,1320.6 1414.4,1320.7 C1416.4,1320.8 1418.5,1320.9 1420.5,1321.0 C1422.5,1321.1 1424.5,1321.2 1426.6,1321.3 C1428.6,1321.4 1430.6,1321.5 1432.7,1321.6 C1434.7,1321.7 1436.7,1321.8 1438.7,1321.9 C1440.8,1322.0 1442.8,1322.1 1444.8,1322.2 C1446.9,1322.3 1448.9,1322.4 1450.9,1322.5 C1453.0,1322.6 1455.0,1322.7 1457.0,1322.8 C1459.0,1322.9 1461.1,1323.0 1463.1,1323.1 C1465.1,1323.2 1467.2,1323.2 1469.2,1323.3 C1471.2,1323.4 1473.3,1323.5 1475.3,1323.6 C1477.3,1323.7 1479.3,1323.7 1481.4,1323.8 C1483.4,1323.9 1485.4,1324.0 1487.5,1324.1 C1489.5,1324.1 1491.5,1324.2 1493.6,1324.3 C1495.6,1324.4 1497.6,1324.4 1499.6,1324.5 C1501.7,1324.6 1503.7,1324.6 1505.7,1324.7 C1507.8,1324.8 1509.8,1324.8 1511.8,1324.9 C1513.9,1325.0 1515.9,1325.0 1517.9,1325.1 C1520.0,1325.1 1522.0,1325.2 1524.0,1325.3 C1526.1,1325.3 1528.1,1325.4 1530.1,1325.4 C1532.1,1325.5 1534.2,1325.5 1536.2,1325.6 C1538.2,1325.6 1540.3,1325.7 1542.3,1325.7 C1544.3,1325.8 1546.4,1325.8 1548.4,1325.9 C1550.4,1325.9 1552.5,1326.0 1554.5,1326.0"/>
<path d="M605.3,851.9 C605.9,853.9 606.5,855.9 607.1,857.8 C607.7,859.8 608.3,861.8 608.9,863.8 C609.5,865.7 610.2,867.7 610.8,869.6 C611.5,871.6 612.1,873.5 612.8,875.5 C613.5,877.4 614.2,879.3 614.9,881.3 C615.6,883.2 616.3,885.1 617.0,887.0 C617.8,889.0 618.5,890.9 619.3,892.8 C620.0,894.7 620.8,896.6 621.5,898.5 C622.3,900.4 623.1,902.3 623.9,904.1 C624.7,906.0 625.5,907.9 626.3,909.8 C627.1,911.7 627.9,913.5 628.8,915.4 C629.6,917.3 630.5,919.1 631.3,921.0 C632.2,922.8 633.0,924.7 633.9,926.5 C634.8,928.4 635.7,930.2 636.5,932.0 C637.4,933.9 638.3,935.7 639.2,937.5 C640.1,939.4 641.1,941.2 642.0,943.0 C642.9,944.8 643.8,946.6 644.8,948.5 C645.7,950.3 646.7,952.1 647.6,953.9 C648.6,955.7 649.5,957.5 650.5,959.3 C651.5,961.1 652.4,962.9 653.4,964.6 C654.4,966.4 655.4,968.2 656.4,970.0 C657.4,971.8 658.4,973.6 659.4,975.3 C660.4,977.1 661.4,978.9 662.4,980.6 C663.4,982.4 664.4,984.2 665.4,985.9 C666.5,987.7 667.5,989.5 668.5,991.2 C669.6,993.0 670.6,994.7 671.6,996.5 C672.7,998.2 673.7,1000.0 674.8,1001.7 C675.8,1003.5 676.9,1005.2 677.9,1007.0 C679.0,1008.7 680.1,1010.4 681.1,1012.2 C682.2,1013.9 683.2,1015.6 684.3,1017.4 C685.4,1019.1 686.5,1020.8 687.5,1022.6 C688.6,1024.3 689.7,1026.0 690.8,1027.7 C691.9,1029.4 692.9,1031.2 694.0,1032.9 C695.1,1034.6 696.2,1036.3 697.3,1038.0 C698.4,1039.8 699.5,1041.5 700.6,1043.2 C701.7,1044.9 702.8,1046.6 703.9,1048.3 C705.0,1050.0 706.1,1051.7 707.2,1053.4 C708.3,1055.1 709.4,1056.8 710.5,1058.5 C711.6,1060.2 712.8,1061.9 713.9,1063.6 C715.0,1065.3 716.1,1067.0 717.2,1068.7 C718.4,1070.4 719.5,1072.1 720.6,1073.8 C721.7,1075.5 722.9,1077.2 724.0,1078.9 C725.1,1080.6 726.2,1082.3 727.4,1084.0 C728.5,1085.7 729.6,1087.4 730.8,1089.1 C731.9,1090.8 733.0,1092.4 734.2,1094.1 C735.3,1095.8 736.4,1097.5 737.6,1099.2 C738.7,1100.9 739.9,1102.6 741.0,1104.3 C742.1,1106.0 743.3,1107.6 744.4,1109.3 C745.6,1111.0 746.7,1112.7 747.9,1114.4 C749.0,1116.1 750.1,1117.8 751.3,1119.5 C752.4,1121.1 753.6,1122.8 754.7,1124.5 C755.9,1126.2 757.0,1127.9 758.2,1129.6 C759.3,1131.3 760.5,1133.0 761.6,1134.6 C762.8,1136.3 763.9,1138.0 765.0,1139.7 C766.2,1141.4 767.3,1143.1 768.5,1144.8 C769.6,1146.5 770.8,1148.2 771.9,1149.8 C773.1,1151.5 774.2,1153.2 775.4,1154.9 C776.5,1156.6 777.7,1158.3 778.8,1160.0"/>
<path d="M770.2,1173.8 C771.4,1175.6 772.6,1177.5 773.8,1179.2 C775.0,1181.0 776.3,1182.7 777.7,1184.4 C779.0,1186.0 780.4,1187.7 781.8,1189.2 C783.2,1190.8 784.6,1192.4 786.1,1193.9 C787.5,1195.4 789.1,1196.9 790.6,1198.3 C792.1,1199.7 793.7,1201.1 795.3,1202.5 C796.9,1203.9 798.5,1205.2 800.1,1206.6 C801.8,1207.9 803.4,1209.2 805.1,1210.5 C806.8,1211.7 808.5,1213.0 810.2,1214.2 C811.9,1215.5 813.7,1216.7 815.4,1217.9 C817.2,1219.1 818.9,1220.3 820.7,1221.5 C822.5,1222.6 824.2,1223.8 826.0,1225.0 C827.8,1226.1 829.6,1227.3 831.4,1228.4 C833.2,1229.6 835.0,1230.8 836.7,1231.9 C838.5,1233.1 840.3,1234.2 842.1,1235.4 C843.9,1236.5 845.7,1237.7 847.4,1238.9 C849.2,1240.0 851.0,1241.2 852.7,1242.4 C854.5,1243.6 856.2,1244.8 858.0,1246.0 C859.7,1247.3 861.4,1248.5 863.1,1249.8 C864.8,1251.0 866.4,1252.3 868.1,1253.6"/>
<path d="M743.1,623.2 C743.9,625.1 744.7,627.0 745.5,628.8 C746.3,630.7 747.1,632.6 747.9,634.5 C748.8,636.3 749.6,638.2 750.4,640.1 C751.2,642.0 752.0,643.8 752.9,645.7 C753.7,647.6 754.5,649.5 755.3,651.3 C756.2,653.2 757.0,655.1 757.8,657.0 C758.7,658.8 759.5,660.7 760.4,662.6 C761.2,664.4 762.0,666.3 762.9,668.2 C763.8,670.0 764.6,671.9 765.5,673.8 C766.3,675.6 767.2,677.5 768.1,679.4 C768.9,681.2 769.8,683.1 770.7,684.9 C771.6,686.8 772.4,688.7 773.3,690.5 C774.2,692.4 775.1,694.2 776.0,696.1 C776.9,697.9 777.8,699.8 778.7,701.6 C779.6,703.4 780.5,705.3 781.4,707.1 C782.3,709.0 783.3,710.8 784.2,712.6 C785.1,714.5 786.0,716.3 787.0,718.1 C787.9,720.0 788.9,721.8 789.8,723.6 C790.8,725.4 791.7,727.2 792.7,729.1 C793.7,730.9 794.6,732.7 795.6,734.5 C796.6,736.3 797.6,738.1 798.5,739.9 C799.5,741.7 800.5,743.5 801.5,745.3 C802.5,747.1 803.5,748.9 804.6,750.6 C805.6,752.4 806.6,754.2 807.6,756.0 C808.7,757.7 809.7,759.5 810.7,761.3 C811.8,763.0 812.8,764.8 813.9,766.6 C815.0,768.3 816.0,770.1 817.1,771.8 C818.2,773.5 819.3,775.3 820.4,777.0 C821.4,778.7 822.5,780.5 823.7,782.2 C824.8,783.9 825.9,785.6 827.0,787.3 C828.1,789.1 829.3,790.8 830.4,792.5 C831.5,794.2 832.7,795.9 833.9,797.5 C835.0,799.2 836.2,800.9 837.4,802.6 C838.6,804.3 839.7,805.9 840.9,807.6 C842.1,809.3 843.3,810.9 844.6,812.6 C845.8,814.2 847.0,815.8 848.2,817.5 C849.5,819.1 850.7,820.7 852.0,822.4 C853.2,824.0 854.5,825.6 855.8,827.2 C857.1,828.8 858.3,830.4 859.6,832.0 C860.9,833.6 862.2,835.2 863.6,836.7 C864.9,838.3 866.2,839.9 867.5,841.4 C868.9,843.0 870.2,844.6 871.6,846.1"/>
<path d="M871.6,846.1 C869.3,846.9 867.1,847.6 865.0,848.6 C862.9,849.6 860.9,850.7 859.0,852.0 C857.1,853.3 855.3,854.7 853.6,856.2 C851.9,857.7 850.3,859.4 848.8,861.1 C847.3,862.8 845.8,864.6 844.4,866.4 C843.0,868.3 841.7,870.2 840.5,872.1 C839.2,874.1 838.0,876.1 836.8,878.0 C835.6,880.0 834.4,882.1 833.3,884.1 C832.2,886.0 831.1,888.0 830.0,890.0 C827.9,890.4 825.7,890.9 823.6,891.4 C821.4,891.9 819.2,892.4 817.0,893.0 C814.8,893.6 812.6,894.3 810.5,895.0 C808.4,895.8 806.3,896.6 804.3,897.5 C802.2,898.4 800.2,899.4 798.4,900.5 C796.5,901.6 794.7,902.9 793.0,904.2 C791.3,905.6 789.7,907.1 788.3,908.7 C786.8,910.4 785.5,912.1 784.4,914.1 C783.3,916.1 782.4,918.3 781.5,920.5 C779.4,920.2 777.2,919.9 775.1,919.7 C772.9,919.4 770.7,919.2 768.5,918.9 C766.3,918.7 764.1,918.5 761.9,918.3 C759.7,918.2 757.4,918.0 755.2,917.9 C753.0,917.9 750.8,917.8 748.6,917.8 C746.3,917.8 744.1,917.9 741.9,918.1 C739.7,918.2 737.6,918.4 735.4,918.7 C733.2,919.0 731.1,919.4 729.0,919.8 C726.9,920.3 724.8,920.9 722.7,921.5 C720.7,922.2 718.7,923.0 716.7,923.9 C714.7,924.7 712.8,925.7 710.9,926.9 C709.1,928.0 707.2,929.3 705.4,930.7 C703.7,932.1 702.0,933.7 700.3,935.3"/>
<path d="M844.6,865.5 C845.6,867.3 846.5,869.2 847.6,871.0 C848.6,872.8 849.6,874.7 850.7,876.5 C851.8,878.3 852.9,880.1 854.0,881.9 C855.1,883.7 856.3,885.5 857.5,887.3 C858.6,889.0 859.8,890.8 861.1,892.5 C862.3,894.3 863.6,896.0 864.8,897.7 C866.1,899.4 867.4,901.1 868.8,902.8 C870.1,904.5 871.5,906.2 872.9,907.8 C874.2,909.4 875.7,911.1 877.1,912.7 C878.5,914.3 880.0,915.8 881.5,917.4 C882.9,918.9 884.4,920.5 886.0,922.0 C887.5,923.5 889.0,924.9 890.6,926.4 C892.2,927.8 893.8,929.2 895.4,930.6 C897.0,932.0 898.6,933.4 900.3,934.7 C902.0,936.0 903.6,937.3 905.3,938.6 C907.0,939.8 908.7,941.1 910.5,942.3 C912.2,943.4 914.0,944.6 915.8,945.7 C917.5,946.8 919.3,947.9 921.2,948.9 C923.0,950.0 924.8,951.0 926.7,951.9 C928.5,952.9 930.4,953.8 932.3,954.7 C934.2,955.5 936.1,956.4 938.0,957.1 C939.9,957.9 941.9,958.7 943.8,959.3 C945.8,960.0 947.7,960.7 949.7,961.3 C951.7,961.8 953.7,962.4 955.7,962.9 C957.8,963.3 959.8,963.8 961.9,964.2 C963.9,964.5 966.0,964.9 968.1,965.1 C970.1,965.4 972.2,965.6 974.3,965.8 C976.4,965.9 978.6,966.1 980.7,966.1 C982.8,966.1 985.0,966.1 987.1,966.0 C989.3,966.0 991.5,965.8 993.7,965.6 C995.8,965.4 998.0,965.1 1000.2,964.8 C1002.5,964.5 1004.7,964.0 1006.9,963.6"/>
<path d="M1006.9,963.6 C1005.3,965.0 1003.8,966.4 1002.2,967.8 C1000.7,969.3 999.1,970.8 997.5,972.4 C995.9,974.0 994.4,975.6 992.9,977.3 C991.3,979.0 989.8,980.7 988.4,982.5 C987.0,984.3 985.6,986.1 984.3,988.0 C983.1,989.8 981.8,991.8 980.7,993.7 C979.6,995.6 978.6,997.6 977.8,999.6 C976.9,1001.6 976.1,1003.7 975.5,1005.7 C974.9,1007.8 974.4,1009.9 974.2,1012.0 C973.9,1014.1 973.7,1016.2 973.8,1018.4 C973.9,1020.5 974.1,1022.7 974.6,1024.9 C975.1,1027.1 975.9,1029.3 976.7,1031.5 C974.6,1032.5 972.6,1033.4 970.6,1034.5 C968.6,1035.6 966.6,1036.8 964.8,1038.0 C962.9,1039.3 961.0,1040.6 959.2,1042.0 C957.5,1043.4 955.7,1044.9 954.1,1046.4 C952.4,1047.9 950.8,1049.5 949.3,1051.2 C947.7,1052.9 946.2,1054.6 944.8,1056.4 C943.4,1058.2 942.1,1060.0 940.8,1061.9 C939.5,1063.8 938.3,1065.7 937.2,1067.7 C936.1,1069.6 935.0,1071.7 934.0,1073.7 C933.1,1075.8 932.2,1077.9 931.4,1080.0 C930.5,1082.1 929.8,1084.2 929.2,1086.4 C928.5,1088.6 927.9,1090.8 927.5,1093.0 C927.0,1095.2 926.6,1097.5 926.3,1099.7 C924.2,1099.9 922.1,1100.2 920.0,1100.5 C917.8,1100.8 915.6,1101.1 913.4,1101.5 C911.2,1101.9 909.0,1102.3 906.8,1102.8 C904.5,1103.3 902.3,1103.9 900.1,1104.5 C897.8,1105.1 895.6,1105.8 893.4,1106.6 C891.3,1107.3 889.1,1108.1 887.0,1109.0 C884.9,1109.9 882.8,1110.9 880.8,1111.9 C878.8,1112.9 876.9,1114.1 875.0,1115.3 C873.2,1116.5 871.4,1117.8 869.7,1119.1 C868.0,1120.5 866.4,1122.0 864.9,1123.6 C863.5,1125.1 862.1,1126.8 860.9,1128.5 C859.6,1130.3 858.5,1132.2 857.6,1134.1 C856.6,1136.1 855.8,1138.2 855.2,1140.4 C854.5,1142.6 854.1,1144.9 853.7,1147.3 C851.6,1146.7 849.5,1146.1 847.4,1145.6 C845.2,1145.2 843.1,1144.8 840.9,1144.5 C838.8,1144.3 836.6,1144.1 834.4,1144.0 C832.3,1143.9 830.1,1143.9 827.9,1144.0 C825.7,1144.0 823.6,1144.2 821.4,1144.4 C819.2,1144.7 817.1,1145.0 814.9,1145.4 C812.8,1145.8 810.7,1146.3 808.5,1146.8 C806.4,1147.4 804.3,1148.0 802.2,1148.7 C800.2,1149.3 798.1,1150.1 796.1,1150.9 C794.1,1151.7 792.1,1152.6 790.1,1153.6 C788.2,1154.5 786.2,1155.5 784.3,1156.6 C782.5,1157.7 780.6,1158.8 778.8,1160.0"/>
<path d="M992.5,976.8 C994.5,977.5 996.5,978.2 998.5,978.8 C1000.5,979.4 1002.6,980.1 1004.6,980.7 C1006.6,981.3 1008.6,981.8 1010.7,982.4 C1012.7,982.9 1014.7,983.5 1016.8,984.0 C1018.8,984.5 1020.8,985.0 1022.9,985.5 C1024.9,985.9 1027.0,986.4 1029.0,986.8 C1031.1,987.2 1033.1,987.6 1035.2,988.0 C1037.2,988.4 1039.3,988.8 1041.3,989.1 C1043.4,989.5 1045.5,989.8 1047.5,990.1 C1049.6,990.4 1051.7,990.7 1053.7,991.0 C1055.8,991.3 1057.9,991.5 1060.0,991.7 C1062.0,992.0 1064.1,992.2 1066.2,992.4 C1068.3,992.6 1070.4,992.8 1072.5,993.0 C1074.5,993.2 1076.6,993.3 1078.7,993.5 C1080.8,993.6 1082.9,993.7 1085.0,993.8 C1087.1,993.9 1089.2,994.0 1091.3,994.1 C1093.3,994.2 1095.4,994.3 1097.5,994.3 C1099.6,994.4 1101.7,994.4 1103.8,994.4 C1105.9,994.5 1108.0,994.5 1110.1,994.5 C1112.2,994.5 1114.3,994.5 1116.4,994.4 C1118.5,994.4 1120.6,994.4 1122.7,994.3 C1124.8,994.3 1126.9,994.2 1129.0,994.2 C1131.1,994.1 1133.2,994.0 1135.3,993.9 C1137.4,993.8 1139.5,993.7 1141.6,993.6 C1143.7,993.5 1145.8,993.4 1147.9,993.3 C1150.0,993.2 1152.1,993.0 1154.2,992.9 C1156.2,992.7 1158.3,992.6 1160.4,992.4 C1162.5,992.3 1164.6,992.1 1166.7,991.9 C1168.8,991.7 1170.9,991.5 1173.0,991.4 C1175.1,991.2 1177.1,991.0 1179.2,990.8 C1181.3,990.6 1183.4,990.4 1185.5,990.2 C1187.5,989.9 1189.6,989.7 1191.7,989.5"/>
<path d="M1191.7,989.5 C1190.9,991.3 1190.1,993.1 1189.3,994.9 C1188.4,996.8 1187.6,998.6 1186.7,1000.5 C1185.8,1002.4 1184.9,1004.3 1184.1,1006.3 C1183.2,1008.2 1182.3,1010.2 1181.4,1012.2 C1180.6,1014.2 1179.7,1016.2 1178.9,1018.3 C1178.0,1020.3 1177.2,1022.3 1176.4,1024.4 C1175.6,1026.5 1174.9,1028.5 1174.1,1030.6 C1173.4,1032.7 1172.7,1034.8 1172.1,1036.9 C1171.5,1039.0 1170.9,1041.1 1170.4,1043.1 C1169.9,1045.2 1169.5,1047.3 1169.1,1049.4 C1168.7,1051.5 1168.4,1053.6 1168.2,1055.7 C1168.0,1057.8 1167.8,1059.8 1167.8,1061.9 C1167.8,1064.0 1167.8,1066.0 1168.0,1068.0 C1168.2,1070.1 1168.4,1072.1 1168.8,1074.1 C1169.2,1076.1 1169.7,1078.0 1170.3,1080.0 C1170.9,1081.9 1171.7,1083.9 1172.6,1085.8 C1173.5,1087.7 1174.5,1089.5 1175.6,1091.4 C1176.8,1093.2 1178.2,1095.0 1179.6,1096.8 C1177.9,1098.0 1176.1,1099.1 1174.4,1100.3 C1172.7,1101.5 1170.9,1102.6 1169.2,1103.8 C1167.5,1105.0 1165.8,1106.2 1164.1,1107.4 C1162.3,1108.6 1160.6,1109.8 1158.9,1111.0 C1157.2,1112.3 1155.5,1113.5 1153.8,1114.7 C1152.1,1116.0 1150.4,1117.2 1148.8,1118.5 C1147.1,1119.8 1145.4,1121.1 1143.8,1122.3 C1142.1,1123.6 1140.4,1125.0 1138.8,1126.3 C1137.2,1127.6 1135.6,1128.9 1133.9,1130.3 C1132.3,1131.6 1130.7,1133.0 1129.2,1134.4 C1127.6,1135.8 1126.0,1137.2 1124.5,1138.6 C1122.9,1140.0 1121.4,1141.4 1119.9,1142.9 C1118.4,1144.3 1116.9,1145.8 1115.4,1147.3 C1113.9,1148.7 1112.5,1150.3 1111.0,1151.8 C1109.6,1153.3 1108.2,1154.8 1106.8,1156.4 C1105.4,1158.0 1104.0,1159.5 1102.7,1161.1 C1101.4,1162.8 1100.0,1164.4 1098.8,1166.0 C1097.5,1167.7 1096.2,1169.3 1095.0,1171.0 C1093.7,1172.7 1092.5,1174.4 1091.3,1176.2 C1090.1,1177.9 1089.0,1179.7 1087.9,1181.5 C1086.8,1183.3 1085.7,1185.1 1084.6,1186.9 C1082.5,1187.1 1080.5,1187.3 1078.4,1187.5 C1076.3,1187.7 1074.2,1187.9 1072.1,1188.2 C1070.1,1188.5 1067.9,1188.8 1065.8,1189.2 C1063.7,1189.5 1061.6,1189.9 1059.5,1190.3 C1057.4,1190.7 1055.3,1191.1 1053.2,1191.6 C1051.2,1192.1 1049.1,1192.6 1047.0,1193.2 C1044.9,1193.7 1042.9,1194.3 1040.9,1195.0 C1038.8,1195.6 1036.8,1196.3 1034.8,1197.1 C1032.8,1197.8 1030.8,1198.6 1028.9,1199.4 C1027.0,1200.3 1025.1,1201.2 1023.2,1202.1 C1021.3,1203.0 1019.5,1204.0 1017.7,1205.1 C1015.9,1206.1 1014.1,1207.2 1012.4,1208.4 C1010.6,1209.5 1009.0,1210.7 1007.3,1212.0 C1005.7,1213.3 1004.1,1214.6 1002.6,1216.0 C1001.1,1217.4 999.6,1218.9 998.2,1220.4 C996.8,1222.0 995.4,1223.6 994.1,1225.2 C992.8,1226.9 991.6,1228.6 990.5,1230.5 C989.3,1232.3 988.2,1234.1 987.2,1236.1 C986.2,1238.1 985.3,1240.1 984.4,1242.2 C982.4,1241.9 980.4,1241.5 978.4,1241.2 C976.4,1240.8 974.3,1240.5 972.3,1240.1 C970.2,1239.8 968.1,1239.4 966.0,1239.1 C963.9,1238.7 961.8,1238.3 959.6,1238.0 C957.5,1237.7 955.3,1237.3 953.2,1237.0 C951.0,1236.7 948.9,1236.4 946.7,1236.2 C944.5,1235.9 942.3,1235.6 940.2,1235.4 C938.0,1235.2 935.8,1235.0 933.6,1234.9 C931.5,1234.8 929.3,1234.7 927.1,1234.6 C925.0,1234.6 922.8,1234.6 920.7,1234.6 C918.5,1234.6 916.4,1234.7 914.2,1234.9 C912.1,1235.1 910.0,1235.3 907.9,1235.6 C905.8,1235.8 903.8,1236.2 901.7,1236.6 C899.7,1237.0 897.6,1237.5 895.6,1238.1 C893.6,1238.7 891.7,1239.3 889.7,1240.1 C887.8,1240.8 885.9,1241.6 884.0,1242.6 C882.1,1243.5 880.3,1244.5 878.5,1245.6 C876.7,1246.8 874.9,1248.0 873.2,1249.3 C871.4,1250.6 869.8,1252.1 868.1,1253.6"/>
<path d="M1186.8,1006.8 C1188.5,1008.1 1190.3,1009.5 1192.1,1010.7 C1193.8,1012.0 1195.6,1013.2 1197.4,1014.3 C1199.2,1015.4 1201.1,1016.5 1202.9,1017.5 C1204.7,1018.5 1206.6,1019.5 1208.5,1020.4 C1210.4,1021.3 1212.3,1022.1 1214.2,1022.9 C1216.1,1023.7 1218.0,1024.4 1220.0,1025.1 C1221.9,1025.8 1223.9,1026.4 1225.8,1027.0 C1227.8,1027.6 1229.8,1028.2 1231.8,1028.7 C1233.8,1029.2 1235.8,1029.6 1237.8,1030.0 C1239.8,1030.5 1241.8,1030.8 1243.9,1031.2 C1245.9,1031.5 1248.0,1031.8 1250.0,1032.1 C1252.1,1032.3 1254.2,1032.5 1256.2,1032.7 C1258.3,1032.9 1260.4,1033.1 1262.5,1033.2 C1264.6,1033.3 1266.7,1033.4 1268.8,1033.5 C1270.9,1033.5 1273.0,1033.6 1275.1,1033.6 C1277.2,1033.6 1279.4,1033.6 1281.5,1033.5 C1283.6,1033.5 1285.8,1033.4 1287.9,1033.3 C1290.0,1033.2 1292.2,1033.1 1294.3,1033.0 C1296.5,1032.9 1298.6,1032.7 1300.7,1032.6 C1302.9,1032.4 1305.0,1032.2 1307.2,1032.0 C1309.3,1031.8 1311.5,1031.6 1313.6,1031.4 C1315.8,1031.2 1317.9,1031.0 1320.0,1030.8 C1322.2,1030.5 1324.3,1030.3 1326.5,1030.0 C1328.6,1029.8 1330.7,1029.5 1332.9,1029.3 C1335.0,1029.0 1337.1,1028.8 1339.2,1028.5 C1341.4,1028.2 1343.5,1028.0 1345.6,1027.7 C1347.7,1027.5 1349.8,1027.2 1351.9,1027.0 C1354.0,1026.7 1356.1,1026.5 1358.2,1026.2 C1360.2,1026.0 1362.3,1025.8 1364.4,1025.5 C1366.5,1025.3 1368.5,1025.1 1370.6,1024.9 C1372.6,1024.7 1374.6,1024.5 1376.7,1024.4 C1378.7,1024.2 1380.7,1024.0 1382.7,1023.9"/>
<path d="M1382.7,1023.9 C1381.8,1025.9 1380.9,1027.8 1380.1,1029.8 C1379.2,1031.8 1378.4,1033.8 1377.6,1035.9 C1376.8,1037.9 1376.0,1039.9 1375.3,1042.0 C1374.5,1044.1 1373.8,1046.2 1373.1,1048.3 C1372.4,1050.4 1371.8,1052.5 1371.2,1054.6 C1370.6,1056.8 1370.0,1058.9 1369.5,1061.1 C1369.0,1063.2 1368.5,1065.4 1368.1,1067.6 C1367.7,1069.7 1367.3,1071.9 1367.0,1074.1 C1366.7,1076.2 1366.5,1078.4 1366.3,1080.6 C1366.1,1082.8 1366.0,1085.0 1365.9,1087.1 C1365.9,1089.3 1365.9,1091.5 1366.0,1093.7 C1366.1,1095.8 1366.2,1098.0 1366.5,1100.2 C1366.7,1102.3 1367.1,1104.5 1367.5,1106.6 C1367.9,1108.7 1368.3,1110.9 1368.9,1113.0 C1369.5,1115.1 1370.2,1117.2 1370.9,1119.3 C1371.7,1121.4 1372.6,1123.4 1373.5,1125.5 C1371.7,1126.5 1369.9,1127.6 1368.1,1128.7 C1366.3,1129.7 1364.5,1130.8 1362.7,1131.9 C1360.9,1133.0 1359.1,1134.2 1357.3,1135.3 C1355.5,1136.5 1353.7,1137.6 1352.0,1138.8 C1350.2,1140.0 1348.4,1141.3 1346.6,1142.5 C1344.9,1143.7 1343.1,1145.0 1341.4,1146.3 C1339.6,1147.6 1337.9,1148.9 1336.2,1150.2 C1334.5,1151.6 1332.8,1152.9 1331.1,1154.3 C1329.5,1155.7 1327.8,1157.1 1326.2,1158.5 C1324.6,1159.9 1323.0,1161.4 1321.4,1162.9 C1319.9,1164.4 1318.3,1165.9 1316.8,1167.4 C1315.3,1168.9 1313.9,1170.5 1312.4,1172.1 C1311.0,1173.7 1309.6,1175.3 1308.3,1176.9 C1306.9,1178.5 1305.6,1180.2 1304.3,1181.9 C1303.1,1183.6 1301.8,1185.3 1300.7,1187.1 C1299.5,1188.8 1298.4,1190.6 1297.3,1192.4 C1296.2,1194.2 1295.2,1196.0 1294.2,1197.9 C1293.2,1199.8 1292.3,1201.7 1291.5,1203.6 C1290.6,1205.5 1289.8,1207.5 1289.1,1209.5 C1288.4,1211.4 1287.7,1213.5 1287.1,1215.5 C1286.5,1217.6 1285.9,1219.6 1285.5,1221.7 C1285.0,1223.9 1284.6,1226.0 1284.3,1228.2 C1283.9,1230.4 1283.7,1232.6 1283.5,1234.8 C1281.4,1234.6 1279.3,1234.4 1277.1,1234.3 C1275.0,1234.2 1272.9,1234.1 1270.7,1234.0 C1268.6,1234.0 1266.5,1234.0 1264.3,1234.0 C1262.2,1234.0 1260.0,1234.1 1257.9,1234.2 C1255.7,1234.3 1253.6,1234.4 1251.4,1234.6 C1249.3,1234.8 1247.1,1235.0 1245.0,1235.3 C1242.9,1235.6 1240.7,1235.9 1238.6,1236.2 C1236.5,1236.6 1234.4,1237.0 1232.3,1237.5 C1230.2,1237.9 1228.1,1238.4 1226.1,1239.0 C1224.0,1239.5 1222.0,1240.1 1220.0,1240.8 C1217.9,1241.4 1215.9,1242.1 1213.9,1242.9 C1212.0,1243.6 1210.0,1244.4 1208.1,1245.3 C1206.1,1246.1 1204.2,1247.0 1202.3,1248.0 C1200.4,1248.9 1198.6,1250.0 1196.8,1251.0 C1195.0,1252.1 1193.2,1253.2 1191.4,1254.4 C1189.7,1255.6 1187.9,1256.8 1186.3,1258.2 C1184.6,1259.5 1182.9,1260.8 1181.3,1262.2 C1179.7,1263.7 1178.2,1265.1 1176.6,1266.7 C1175.1,1268.2 1173.7,1269.8 1172.2,1271.5 C1170.8,1273.2 1169.5,1274.9 1168.1,1276.7 C1166.0,1276.6 1163.8,1276.5 1161.7,1276.4 C1159.6,1276.3 1157.4,1276.1 1155.3,1276.0 C1153.1,1275.9 1151.0,1275.8 1148.8,1275.7 C1146.6,1275.7 1144.5,1275.6 1142.3,1275.5 C1140.1,1275.4 1137.9,1275.4 1135.8,1275.3 C1133.6,1275.3 1131.4,1275.3 1129.2,1275.3 C1127.1,1275.3 1124.9,1275.3 1122.7,1275.3 C1120.5,1275.4 1118.3,1275.4 1116.2,1275.5 C1114.0,1275.6 1111.8,1275.7 1109.7,1275.8 C1107.5,1276.0 1105.3,1276.1 1103.2,1276.3 C1101.0,1276.5 1098.8,1276.7 1096.7,1277.0 C1094.6,1277.3 1092.4,1277.6 1090.3,1277.9 C1088.2,1278.2 1086.0,1278.6 1083.9,1279.0 C1081.8,1279.4 1079.7,1279.9 1077.6,1280.4 C1075.5,1280.9 1073.4,1281.4 1071.4,1282.0 C1069.3,1282.6 1067.2,1283.3 1065.2,1284.0 C1063.1,1284.7 1061.1,1285.4 1059.1,1286.2 C1057.1,1287.0 1055.1,1287.9 1053.1,1288.8 C1051.1,1289.7 1049.2,1290.7 1047.2,1291.7"/>
<path d="M1378.4,1034.2 C1380.3,1035.1 1382.2,1036.1 1384.1,1036.9 C1386.1,1037.8 1388.0,1038.7 1390.0,1039.5 C1391.9,1040.3 1393.9,1041.1 1395.8,1041.8 C1397.8,1042.6 1399.8,1043.3 1401.8,1044.0 C1403.8,1044.7 1405.8,1045.3 1407.8,1045.9 C1409.8,1046.5 1411.8,1047.1 1413.8,1047.7 C1415.8,1048.2 1417.8,1048.7 1419.9,1049.2 C1421.9,1049.7 1424.0,1050.2 1426.0,1050.6 C1428.0,1051.0 1430.1,1051.4 1432.2,1051.8 C1434.2,1052.1 1436.3,1052.4 1438.3,1052.7 C1440.4,1053.0 1442.5,1053.3 1444.6,1053.5 C1446.6,1053.8 1448.7,1054.0 1450.8,1054.2 C1452.9,1054.3 1455.0,1054.5 1457.0,1054.6 C1459.1,1054.7 1461.2,1054.8 1463.3,1054.8 C1465.4,1054.9 1467.5,1054.9 1469.6,1054.9 C1471.7,1054.9 1473.7,1054.9 1475.8,1054.8 C1477.9,1054.8 1480.0,1054.7 1482.1,1054.5 C1484.2,1054.4 1486.3,1054.3 1488.4,1054.1 C1490.5,1053.9 1492.5,1053.7 1494.6,1053.5 C1496.7,1053.3 1498.8,1053.0 1500.9,1052.7 C1502.9,1052.4 1505.0,1052.1 1507.1,1051.8 C1509.2,1051.4 1511.2,1051.0 1513.3,1050.7 C1515.3,1050.3 1517.4,1049.8 1519.5,1049.4 C1521.5,1048.9 1523.5,1048.5 1525.6,1048.0 C1527.6,1047.5 1529.7,1046.9 1531.7,1046.4 C1533.7,1045.8 1535.7,1045.2 1537.7,1044.6 C1539.7,1044.0 1541.7,1043.4 1543.7,1042.7 C1545.7,1042.1 1547.7,1041.4 1549.7,1040.7"/>
<path d="M1549.7,1040.7 C1548.8,1042.7 1547.9,1044.6 1547.0,1046.6 C1546.0,1048.6 1545.1,1050.6 1544.2,1052.6 C1543.3,1054.6 1542.3,1056.6 1541.4,1058.7 C1540.5,1060.7 1539.6,1062.8 1538.7,1064.9 C1537.8,1066.9 1537.0,1069.0 1536.1,1071.1 C1535.3,1073.2 1534.5,1075.3 1533.7,1077.5 C1532.9,1079.6 1532.2,1081.7 1531.5,1083.9 C1530.8,1086.0 1530.1,1088.1 1529.5,1090.3 C1529.0,1092.5 1528.4,1094.6 1527.9,1096.8 C1527.4,1098.9 1527.0,1101.1 1526.7,1103.3 C1526.3,1105.5 1526.0,1107.6 1525.8,1109.8 C1525.6,1112.0 1525.5,1114.2 1525.5,1116.3 C1525.4,1118.5 1525.5,1120.7 1525.6,1122.9 C1525.8,1125.0 1526.0,1127.2 1526.4,1129.4 C1526.7,1131.5 1527.1,1133.7 1527.7,1135.9 C1528.3,1138.0 1528.9,1140.2 1529.7,1142.3 C1530.5,1144.4 1531.5,1146.6 1532.5,1148.7 C1530.7,1149.9 1528.9,1151.1 1527.2,1152.4 C1525.5,1153.6 1523.8,1154.9 1522.1,1156.2 C1520.4,1157.6 1518.8,1159.0 1517.2,1160.4 C1515.6,1161.8 1514.0,1163.2 1512.4,1164.7 C1510.9,1166.2 1509.4,1167.7 1507.9,1169.2 C1506.5,1170.8 1505.0,1172.4 1503.6,1174.0 C1502.2,1175.6 1500.9,1177.3 1499.5,1178.9 C1498.2,1180.6 1496.9,1182.3 1495.7,1184.0 C1494.5,1185.8 1493.3,1187.5 1492.1,1189.3 C1491.0,1191.1 1489.9,1193.0 1488.8,1194.8 C1487.7,1196.6 1486.7,1198.5 1485.7,1200.4 C1484.8,1202.3 1483.8,1204.2 1483.0,1206.2 C1482.1,1208.1 1481.2,1210.1 1480.5,1212.1 C1479.7,1214.1 1478.9,1216.1 1478.3,1218.1 C1477.6,1220.1 1476.9,1222.2 1476.4,1224.2 C1475.8,1226.3 1475.3,1228.4 1474.8,1230.5 C1472.8,1231.2 1470.9,1232.0 1468.9,1232.7 C1466.9,1233.5 1465.0,1234.2 1463.0,1235.0 C1461.0,1235.8 1459.1,1236.5 1457.1,1237.3 C1455.1,1238.1 1453.2,1238.9 1451.2,1239.7 C1449.2,1240.5 1447.3,1241.3 1445.3,1242.2 C1443.4,1243.0 1441.5,1243.9 1439.5,1244.8 C1437.6,1245.7 1435.7,1246.6 1433.8,1247.5 C1431.9,1248.4 1430.0,1249.4 1428.2,1250.3 C1426.3,1251.3 1424.5,1252.3 1422.6,1253.4 C1420.8,1254.4 1419.0,1255.5 1417.2,1256.6 C1415.4,1257.6 1413.7,1258.8 1411.9,1259.9 C1410.2,1261.1 1408.5,1262.3 1406.8,1263.5 C1405.2,1264.8 1403.5,1266.0 1401.9,1267.4 C1400.3,1268.7 1398.7,1270.0 1397.2,1271.4 C1395.6,1272.8 1394.1,1274.3 1392.6,1275.8 C1391.2,1277.3 1389.7,1278.8 1388.3,1280.4 C1386.9,1282.0 1385.6,1283.6 1384.3,1285.3 C1383.0,1287.0 1381.7,1288.7 1380.5,1290.5 C1379.3,1292.3 1378.1,1294.2 1377.0,1296.1 C1374.9,1296.0 1372.8,1295.9 1370.6,1295.8 C1368.5,1295.7 1366.4,1295.5 1364.2,1295.4 C1362.1,1295.3 1359.9,1295.1 1357.7,1295.0 C1355.6,1294.8 1353.4,1294.7 1351.2,1294.5 C1349.0,1294.3 1346.9,1294.2 1344.7,1294.0 C1342.5,1293.9 1340.3,1293.7 1338.1,1293.5 C1335.9,1293.4 1333.7,1293.2 1331.5,1293.1 C1329.3,1293.0 1327.1,1292.9 1324.9,1292.7 C1322.7,1292.6 1320.5,1292.5 1318.3,1292.5 C1316.1,1292.4 1313.9,1292.3 1311.7,1292.3 C1309.5,1292.3 1307.3,1292.2 1305.1,1292.3 C1302.9,1292.3 1300.8,1292.3 1298.6,1292.4 C1296.4,1292.5 1294.2,1292.6 1292.1,1292.7 C1289.9,1292.8 1287.7,1293.0 1285.6,1293.2 C1283.4,1293.4 1281.3,1293.7 1279.1,1294.0 C1277.0,1294.2 1274.9,1294.6 1272.7,1295.0 C1270.6,1295.3 1268.5,1295.7 1266.4,1296.2 C1264.3,1296.7 1262.2,1297.2 1260.2,1297.8 C1258.1,1298.4 1256.0,1299.0 1254.0,1299.7 C1251.9,1300.4 1249.9,1301.1 1247.9,1302.0 C1245.9,1302.8 1243.9,1303.6 1241.9,1304.6 C1239.9,1305.5 1238.0,1306.6 1236.0,1307.6"/>
<path d="M1539.6,1060.1 C1541.6,1060.7 1543.7,1061.2 1545.8,1061.7 C1547.8,1062.2 1549.9,1062.7 1552.0,1063.2 C1554.1,1063.6 1556.2,1064.1 1558.4,1064.5 C1560.5,1064.9 1562.6,1065.3 1564.8,1065.6 C1566.9,1065.9 1569.1,1066.3 1571.3,1066.5 C1573.4,1066.8 1575.6,1067.1 1577.8,1067.3 C1579.9,1067.5 1582.1,1067.7 1584.3,1067.8 C1586.5,1068.0 1588.7,1068.1 1590.9,1068.2 C1593.0,1068.2 1595.2,1068.3 1597.4,1068.3 C1599.6,1068.3 1601.8,1068.2 1604.0,1068.2 C1606.2,1068.1 1608.3,1068.0 1610.5,1067.8 C1612.7,1067.7 1614.8,1067.5 1617.0,1067.2 C1619.2,1067.0 1621.3,1066.7 1623.5,1066.4 C1625.6,1066.1 1627.7,1065.7 1629.9,1065.3 C1632.0,1064.9 1634.1,1064.4 1636.2,1063.9 C1638.3,1063.4 1640.4,1062.9 1642.4,1062.3 C1644.5,1061.7 1646.5,1061.0 1648.6,1060.3 C1650.6,1059.6 1652.6,1058.9 1654.6,1058.1 C1656.6,1057.3 1658.6,1056.4 1660.5,1055.5 C1662.5,1054.6 1664.4,1053.7 1666.3,1052.7 C1668.2,1051.7 1670.1,1050.6 1671.9,1049.5 C1673.8,1048.4 1675.6,1047.2 1677.4,1046.0 C1679.2,1044.7 1681.0,1043.5 1682.7,1042.1 C1684.4,1040.8 1686.1,1039.3 1687.8,1037.9"/>
<path d="M1687.8,1037.9 C1686.9,1039.9 1686.0,1041.9 1685.2,1043.9 C1684.4,1045.9 1683.5,1048.0 1682.8,1050.0 C1682.0,1052.1 1681.2,1054.2 1680.5,1056.3 C1679.8,1058.3 1679.1,1060.4 1678.5,1062.6 C1677.9,1064.7 1677.2,1066.8 1676.7,1068.9 C1676.1,1071.1 1675.6,1073.2 1675.1,1075.4 C1674.6,1077.5 1674.1,1079.7 1673.7,1081.8 C1673.3,1084.0 1672.9,1086.2 1672.6,1088.4 C1672.3,1090.6 1672.0,1092.7 1671.7,1094.9 C1671.5,1097.1 1671.3,1099.3 1671.1,1101.5 C1671.0,1103.7 1670.9,1105.9 1670.8,1108.1 C1670.8,1110.3 1670.8,1112.5 1670.8,1114.7 C1670.9,1116.9 1671.0,1119.1 1671.1,1121.3 C1671.2,1123.5 1671.4,1125.7 1671.7,1127.8 C1672.0,1130.0 1672.3,1132.2 1672.6,1134.4 C1673.0,1136.5 1673.4,1138.7 1673.9,1140.9 C1674.4,1143.0 1674.9,1145.2 1675.5,1147.3 C1673.6,1148.3 1671.7,1149.3 1669.9,1150.4 C1668.0,1151.6 1666.1,1152.7 1664.3,1153.9 C1662.4,1155.1 1660.6,1156.4 1658.8,1157.7 C1657.0,1159.0 1655.3,1160.4 1653.5,1161.8 C1651.8,1163.2 1650.1,1164.7 1648.4,1166.2 C1646.8,1167.7 1645.2,1169.3 1643.6,1170.9 C1642.1,1172.5 1640.6,1174.1 1639.1,1175.8 C1637.7,1177.5 1636.3,1179.3 1635.0,1181.0 C1633.7,1182.8 1632.4,1184.6 1631.2,1186.4 C1630.1,1188.3 1629.0,1190.2 1628.0,1192.1 C1627.0,1194.0 1626.0,1196.0 1625.2,1198.0 C1624.4,1199.9 1623.7,1202.0 1623.0,1204.0 C1622.4,1206.1 1621.9,1208.2 1621.4,1210.3 C1621.0,1212.4 1620.7,1214.5 1620.5,1216.7 C1620.3,1218.8 1620.2,1221.0 1620.3,1223.2 C1620.4,1225.5 1620.5,1227.7 1620.8,1230.0 C1621.2,1232.2 1621.7,1234.5 1622.2,1236.8 C1620.1,1237.6 1618.1,1238.4 1616.1,1239.4 C1614.1,1240.3 1612.2,1241.3 1610.3,1242.3 C1608.4,1243.3 1606.6,1244.5 1604.8,1245.6 C1603.0,1246.8 1601.2,1248.0 1599.5,1249.3 C1597.8,1250.6 1596.1,1251.9 1594.5,1253.3 C1592.9,1254.6 1591.3,1256.1 1589.8,1257.6 C1588.3,1259.0 1586.8,1260.6 1585.4,1262.1 C1584.0,1263.7 1582.6,1265.3 1581.2,1267.0 C1579.9,1268.6 1578.6,1270.3 1577.4,1272.0 C1576.1,1273.8 1574.9,1275.5 1573.8,1277.3 C1572.6,1279.1 1571.5,1281.0 1570.5,1282.8 C1569.4,1284.7 1568.4,1286.6 1567.5,1288.5 C1566.5,1290.4 1565.6,1292.4 1564.7,1294.3 C1563.8,1296.3 1563.0,1298.3 1562.2,1300.3 C1561.5,1302.3 1560.7,1304.3 1560.1,1306.4 C1559.4,1308.4 1558.7,1310.5 1558.2,1312.6 C1557.6,1314.6 1557.0,1316.7 1556.5,1318.8 C1556.0,1320.9 1555.6,1323.0 1555.2,1325.1"/>
</g>
<g class="lbl" fill="none" stroke="#000" stroke-width="2.7" stroke-linecap="butt" stroke-linejoin="round">
<g transform="translate(173.30,225.00) scale(0.1933,0.2120)"><path transform="translate(0,0) scale(1.18,1)" d="M7,0 L7,100 M7,7 L27,7 C36,7 39,13 39,24 L39,32 C39,43 35,48 26,48 L7,48 M26,48 C36,48 40,54 40,65 L40,76 C40,88 36,93 26,93 L7,93"/><path transform="translate(60.28,0) scale(1.18,1)" d="M7,0 L7,93 L37,93"/><path transform="translate(109.94,0) scale(1.18,1)" d="M7,0 L7,78 C7,88 12,93 23,93 C34,93 39,88 39,78 L39,0"/><path transform="translate(170.22,0) scale(1.18,1)" d="M37,28 L37,22 C37,12 32,7 22,7 C12,7 7,12 7,22 L7,30 C7,40 12,44 20,47 L25,50 C33,53 38,58 38,68 L38,78 C38,88 33,93 22,93 C12,93 7,88 7,78 L7,70"/><path transform="translate(228.14,0) scale(1.18,1)" d="M7,0 L7,100 M41,0 L41,100 M7,49 L41,49"/><path transform="translate(290.78,0) scale(1.18,1)" d="M38,7 L7,7 L7,93 L38,93 M7,48 L32,48"/><path transform="translate(341.62,0) scale(1.18,1)" d="M7,100 L7,7 L25,7 C34,7 39,13 39,24 L39,34 C39,45 34,51 25,51 L7,51 M24,51 L40,100"/><path transform="translate(431.5,0) scale(1.18,1)" d="M37,28 L37,22 C37,12 32,7 22,7 C12,7 7,12 7,22 L7,30 C7,40 12,44 20,47 L25,50 C33,53 38,58 38,68 L38,78 C38,88 33,93 22,93 C12,93 7,88 7,78 L7,70"/><path transform="translate(489.42,0) scale(1.18,1)" d="M7,100 L7,7 L32,72 L57,7 L57,100"/><path transform="translate(570.94,0) scale(1.18,1)" d="M3,100 L20,7 L30,7 L47,100 M11,66 L39,66"/><path transform="translate(635.94,0) scale(1.18,1)" d="M7,0 L7,93 L37,93"/><path transform="translate(685.6,0) scale(1.18,1)" d="M7,0 L7,93 L37,93"/></g>
<g transform="translate(169.10,265.10) scale(0.1971,0.2120)"><path transform="translate(0,0) scale(1.18,1)" d="M31,100 L31,7 L6,72 L6,74 L43,74"/><path transform="translate(60.28,0) scale(1.18,1)" d="M23,7 C34,7 39,12 39,22 L39,78 C39,88 34,93 23,93 C12,93 7,88 7,78 L7,22 C7,12 12,7 23,7 Z"/><path transform="translate(150.16,0) scale(1.18,1)" d="M37,30 L37,22 C37,12 32,7 22,7 C12,7 7,12 7,22 L7,78 C7,88 12,93 22,93 C32,93 37,88 37,78 L37,68"/><path transform="translate(208.08,0) scale(1.18,1)" d="M7,100 L7,7 L32,72 L57,7 L57,100"/><path transform="translate(319.2,0) scale(1.18,1)" d="M21,7 L16,7 C10,7 7,10 7,16 L7,84 C7,90 10,93 16,93 L21,93"/><path transform="translate(351.16,0) scale(1.18,1)" d="M8,22 L23,7 L23,100"/><path transform="translate(394.92,0) scale(1.18,1)" d="M36,7 L9,7 L8,48 C12,44 16,42 23,42 C33,42 38,48 38,58 L38,78 C38,88 33,93 22,93 C12,93 7,88 7,78 L7,72"/><path transform="translate(452.84,0)" stroke-width="1.9" d="M6,0 L3,30"/><path transform="translate(465.84,0)" stroke-width="1.9" d="M6,0 L3,30"/><path transform="translate(509.44,0) scale(1.18,1)" d="M7,0 L7,100"/><path transform="translate(531.96,0) scale(1.18,1)" d="M7,100 L7,7 L44,93 L44,0"/><path transform="translate(598.14,0) scale(1.18,1)" d="M37,30 L37,22 C37,12 32,7 22,7 C12,7 7,12 7,22 L7,78 C7,88 12,93 22,93 C32,93 37,88 37,78 L37,68"/><path transform="translate(656.06,0) scale(1.18,1)" d="M7,0 L7,100 M41,0 L41,100 M7,49 L41,49"/><path transform="translate(718.7,0) scale(1.18,1)" d="M1,7 L6,7 C12,7 15,10 15,16 L15,84 C15,90 12,93 6,93 L1,93"/></g>
<g transform="translate(164.70,500.60) scale(0.1978,0.2120)"><path transform="translate(0,0) scale(1.18,1)" d="M7,0 L7,100 M7,7 L27,7 C36,7 39,13 39,24 L39,32 C39,43 35,48 26,48 L7,48 M26,48 C36,48 40,54 40,65 L40,76 C40,88 36,93 26,93 L7,93"/><path transform="translate(60.28,0) scale(1.18,1)" d="M7,0 L7,93 L37,93"/><path transform="translate(109.94,0) scale(1.18,1)" d="M7,0 L7,78 C7,88 12,93 23,93 C34,93 39,88 39,78 L39,0"/><path transform="translate(170.22,0) scale(1.18,1)" d="M37,28 L37,22 C37,12 32,7 22,7 C12,7 7,12 7,22 L7,30 C7,40 12,44 20,47 L25,50 C33,53 38,58 38,68 L38,78 C38,88 33,93 22,93 C12,93 7,88 7,78 L7,70"/><path transform="translate(228.14,0) scale(1.18,1)" d="M7,0 L7,100 M41,0 L41,100 M7,49 L41,49"/><path transform="translate(290.78,0) scale(1.18,1)" d="M38,7 L7,7 L7,93 L38,93 M7,48 L32,48"/><path transform="translate(341.62,0) scale(1.18,1)" d="M7,100 L7,7 L25,7 C34,7 39,13 39,24 L39,34 C39,45 34,51 25,51 L7,51 M24,51 L40,100"/></g>
<g transform="translate(130.50,541.60) scale(0.1966,0.2120)"><path transform="translate(0,0) scale(1.18,1)" d="M3,7 L37,7 L16,100"/><path transform="translate(53.2,0) scale(1.18,1)" d="M36,7 L9,7 L8,48 C12,44 16,42 23,42 C33,42 38,48 38,58 L38,78 C38,88 33,93 22,93 C12,93 7,88 7,78 L7,72"/><path transform="translate(140.72,0) scale(1.18,1)" d="M37,30 L37,22 C37,12 32,7 22,7 C12,7 7,12 7,22 L7,78 C7,88 12,93 22,93 C32,93 37,88 37,78 L37,68"/><path transform="translate(198.64,0) scale(1.18,1)" d="M7,100 L7,7 L32,72 L57,7 L57,100"/><path transform="translate(309.76,0) scale(1.18,1)" d="M21,7 L16,7 C10,7 7,10 7,16 L7,84 C7,90 10,93 16,93 L21,93"/><path transform="translate(341.72,0) scale(1.18,1)" d="M7,28 L7,22 C7,12 12,7 22,7 C32,7 37,12 37,22 L37,32 C37,42 33,48 27,55 L7,93 L39,93"/><path transform="translate(399.64,0) scale(1.18,1)" d="M9,72 L9,78 C9,88 14,93 23,93 C34,93 39,88 39,78 L39,22 C39,12 34,7 23,7 C12,7 7,12 7,22 L7,38 C7,48 12,54 23,54 C34,54 39,48 39,40"/><path transform="translate(459.92,0)" stroke-width="1.9" d="M6,0 L3,30"/><path transform="translate(472.92,0)" stroke-width="1.9" d="M6,0 L3,30"/><path transform="translate(516.52,0) scale(1.18,1)" d="M7,0 L7,100"/><path transform="translate(539.04,0) scale(1.18,1)" d="M7,100 L7,7 L44,93 L44,0"/><path transform="translate(605.22,0) scale(1.18,1)" d="M37,30 L37,22 C37,12 32,7 22,7 C12,7 7,12 7,22 L7,78 C7,88 12,93 22,93 C32,93 37,88 37,78 L37,68"/><path transform="translate(663.14,0) scale(1.18,1)" d="M7,0 L7,100 M41,0 L41,100 M7,49 L41,49"/><path transform="translate(725.78,0) scale(1.18,1)" d="M1,7 L6,7 C12,7 15,10 15,16 L15,84 C15,90 12,93 6,93 L1,93"/></g>
<g transform="translate(118.10,645.60) scale(0.1913,0.2120)"><path transform="translate(0,0) scale(1.18,1)" d="M7,0 L7,100 M7,7 L27,7 C36,7 39,13 39,24 L39,32 C39,43 35,48 26,48 L7,48 M26,48 C36,48 40,54 40,65 L40,76 C40,88 36,93 26,93 L7,93"/><path transform="translate(60.28,0) scale(1.18,1)" d="M7,0 L7,93 L37,93"/><path transform="translate(109.94,0) scale(1.18,1)" d="M7,0 L7,78 C7,88 12,93 23,93 C34,93 39,88 39,78 L39,0"/><path transform="translate(170.22,0) scale(1.18,1)" d="M37,28 L37,22 C37,12 32,7 22,7 C12,7 7,12 7,22 L7,30 C7,40 12,44 20,47 L25,50 C33,53 38,58 38,68 L38,78 C38,88 33,93 22,93 C12,93 7,88 7,78 L7,70"/><path transform="translate(228.14,0) scale(1.18,1)" d="M7,0 L7,100 M41,0 L41,100 M7,49 L41,49"/><path transform="translate(290.78,0) scale(1.18,1)" d="M38,7 L7,7 L7,93 L38,93 M7,48 L32,48"/><path transform="translate(341.62,0) scale(1.18,1)" d="M7,100 L7,7 L25,7 C34,7 39,13 39,24 L39,34 C39,45 34,51 25,51 L7,51 M24,51 L40,100"/><path transform="translate(431.5,0) scale(1.18,1)" d="M7,0 L7,93 L37,93"/><path transform="translate(481.16,0) scale(1.18,1)" d="M23,7 C34,7 39,12 39,22 L39,78 C39,88 34,93 23,93 C12,93 7,88 7,78 L7,22 C7,12 12,7 23,7 Z"/><path transform="translate(541.44,0) scale(1.18,1)" d="M7,100 L7,7 L44,93 L44,0"/><path transform="translate(607.62,0) scale(1.18,1)" d="M39,30 L39,22 C39,12 34,7 23,7 C12,7 7,12 7,22 L7,78 C7,88 12,93 23,93 C34,93 39,88 39,78 L39,52 L26,52"/></g>
<g transform="translate(102.30,688.90) scale(0.1974,0.2120)"><path transform="translate(0,0) scale(1.18,1)" d="M8,22 L23,7 L23,100"/><path transform="translate(43.76,0) scale(1.18,1)" d="M8,22 L23,7 L23,100"/><path transform="translate(87.52,0) scale(1.18,1)" d="M23,7 C34,7 39,12 39,22 L39,78 C39,88 34,93 23,93 C12,93 7,88 7,78 L7,22 C7,12 12,7 23,7 Z"/><path transform="translate(177.4,0) scale(1.18,1)" d="M37,30 L37,22 C37,12 32,7 22,7 C12,7 7,12 7,22 L7,78 C7,88 12,93 22,93 C32,93 37,88 37,78 L37,68"/><path transform="translate(235.32,0) scale(1.18,1)" d="M7,100 L7,7 L32,72 L57,7 L57,100"/><path transform="translate(346.44,0) scale(1.18,1)" d="M21,7 L16,7 C10,7 7,10 7,16 L7,84 C7,90 10,93 16,93 L21,93"/><path transform="translate(378.4,0) scale(1.18,1)" d="M31,100 L31,7 L6,72 L6,74 L43,74"/><path transform="translate(438.68,0) scale(1.18,1)" d="M7,26 L7,22 C7,12 12,7 22,7 C32,7 37,12 37,22 L37,34 C37,43 32,48 22,48 L17,48 M22,48 C33,48 38,53 38,63 L38,78 C38,88 33,93 22,93 C12,93 7,88 7,78 L7,72"/><path transform="translate(496.6,0)" stroke-width="1.9" d="M6,0 L3,30"/><path transform="translate(509.6,0)" stroke-width="1.9" d="M6,0 L3,30"/><path transform="translate(553.2,0) scale(1.18,1)" d="M7,0 L7,100"/><path transform="translate(575.72,0) scale(1.18,1)" d="M7,100 L7,7 L44,93 L44,0"/><path transform="translate(641.9,0) scale(1.18,1)" d="M37,30 L37,22 C37,12 32,7 22,7 C12,7 7,12 7,22 L7,78 C7,88 12,93 22,93 C32,93 37,88 37,78 L37,68"/><path transform="translate(699.82,0) scale(1.18,1)" d="M7,0 L7,100 M41,0 L41,100 M7,49 L41,49"/><path transform="translate(762.46,0) scale(1.18,1)" d="M1,7 L6,7 C12,7 15,10 15,16 L15,84 C15,90 12,93 6,93 L1,93"/></g>
<g transform="translate(701.60,138.30) scale(0.1839,0.2120)"><path transform="translate(0,0) scale(1.18,1)" d="M36,7 L7,7 L7,100 M7,48 L30,48"/><path transform="translate(48.48,0) scale(1.18,1)" d="M7,0 L7,93 L37,93"/><path transform="translate(98.14,0) scale(1.18,1)" d="M3,0 L24,52 L45,0 M24,52 L24,100"/><path transform="translate(160.78,0) scale(1.18,1)" d="M3,100 L20,7 L30,7 L47,100 M11,66 L39,66"/><path transform="translate(225.78,0) scale(1.18,1)" d="M2,0 L15,93 L33,20 L51,93 L64,0"/><path transform="translate(309.66,0) scale(1.18,1)" d="M3,100 L20,7 L30,7 L47,100 M11,66 L39,66"/><path transform="translate(374.66,0) scale(1.18,1)" d="M3,0 L24,52 L45,0 M24,52 L24,100"/></g>
<g transform="translate(674.00,174.80) scale(0.1991,0.2120)"><path transform="translate(0,0) scale(1.18,1)" d="M7,26 L7,22 C7,12 12,7 22,7 C32,7 37,12 37,22 L37,34 C37,43 32,48 22,48 L17,48 M22,48 C33,48 38,53 38,63 L38,78 C38,88 33,93 22,93 C12,93 7,88 7,78 L7,72"/><path transform="translate(57.92,0) scale(1.18,1)" d="M23,7 C34,7 39,12 39,22 L39,78 C39,88 34,93 23,93 C12,93 7,88 7,78 L7,22 C7,12 12,7 23,7 Z"/><path transform="translate(147.8,0) scale(1.18,1)" d="M37,30 L37,22 C37,12 32,7 22,7 C12,7 7,12 7,22 L7,78 C7,88 12,93 22,93 C32,93 37,88 37,78 L37,68"/><path transform="translate(205.72,0) scale(1.18,1)" d="M7,100 L7,7 L32,72 L57,7 L57,100"/><path transform="translate(316.84,0) scale(1.18,1)" d="M21,7 L16,7 C10,7 7,10 7,16 L7,84 C7,90 10,93 16,93 L21,93"/><path transform="translate(348.8,0) scale(1.18,1)" d="M8,22 L23,7 L23,100"/><path transform="translate(392.56,0) scale(1.18,1)" d="M8,22 L23,7 L23,100"/><path transform="translate(436.32,0)" stroke-width="1.9" d="M6,0 L3,30"/><path transform="translate(449.32,0)" stroke-width="1.9" d="M6,0 L3,30"/><path transform="translate(492.92,0) scale(1.18,1)" d="M7,0 L7,100"/><path transform="translate(515.44,0) scale(1.18,1)" d="M7,100 L7,7 L44,93 L44,0"/><path transform="translate(581.62,0) scale(1.18,1)" d="M37,30 L37,22 C37,12 32,7 22,7 C12,7 7,12 7,22 L7,78 C7,88 12,93 22,93 C32,93 37,88 37,78 L37,68"/><path transform="translate(639.54,0) scale(1.18,1)" d="M7,0 L7,100 M41,0 L41,100 M7,49 L41,49"/><path transform="translate(702.18,0) scale(1.18,1)" d="M1,7 L6,7 C12,7 15,10 15,16 L15,84 C15,90 12,93 6,93 L1,93"/></g>
<g transform="translate(715.90,233.60) scale(0.1912,0.2120)"><path transform="translate(0,0) scale(1.18,1)" d="M0,7 L42,7 M21,7 L21,100"/><path transform="translate(55.56,0) scale(1.18,1)" d="M23,7 C34,7 39,12 39,22 L39,78 C39,88 34,93 23,93 C12,93 7,88 7,78 L7,22 C7,12 12,7 23,7 Z"/><path transform="translate(145.44,0) scale(1.18,1)" d="M37,28 L37,22 C37,12 32,7 22,7 C12,7 7,12 7,22 L7,30 C7,40 12,44 20,47 L25,50 C33,53 38,58 38,68 L38,78 C38,88 33,93 22,93 C12,93 7,88 7,78 L7,70"/><path transform="translate(203.36,0) scale(1.18,1)" d="M7,0 L7,100 M41,0 L41,100 M7,49 L41,49"/><path transform="translate(266,0) scale(1.18,1)" d="M23,7 C34,7 39,12 39,22 L39,78 C39,88 34,93 23,93 C12,93 7,88 7,78 L7,22 C7,12 12,7 23,7 Z"/><path transform="translate(326.28,0) scale(1.18,1)" d="M7,0 L7,78 C7,88 12,93 23,93 C34,93 39,88 39,78 L39,0"/><path transform="translate(386.56,0) scale(1.18,1)" d="M7,0 L7,93 L37,93"/><path transform="translate(436.22,0) scale(1.18,1)" d="M7,0 L7,100 M7,7 L24,7 C34,7 39,12 39,22 L39,78 C39,88 34,93 24,93 L7,93"/><path transform="translate(496.5,0) scale(1.18,1)" d="M38,7 L7,7 L7,93 L38,93 M7,48 L32,48"/><path transform="translate(547.34,0) scale(1.18,1)" d="M7,100 L7,7 L25,7 C34,7 39,13 39,24 L39,34 C39,45 34,51 25,51 L7,51 M24,51 L40,100"/><path transform="translate(637.22,0) scale(1.18,1)" d="M7,0 L7,93 L37,93"/><path transform="translate(686.88,0) scale(1.18,1)" d="M38,7 L7,7 L7,93 L38,93 M7,48 L32,48"/><path transform="translate(737.72,0) scale(1.18,1)" d="M7,100 L7,7 L44,93 L44,0"/><path transform="translate(803.9,0) scale(1.18,1)" d="M39,30 L39,22 C39,12 34,7 23,7 C12,7 7,12 7,22 L7,78 C7,88 12,93 23,93 C34,93 39,88 39,78 L39,52 L26,52"/><path transform="translate(864.18,0) scale(1.18,1)" d="M0,7 L42,7 M21,7 L21,100"/><path transform="translate(919.74,0) scale(1.18,1)" d="M7,0 L7,100 M41,0 L41,100 M7,49 L41,49"/></g>
<g transform="translate(731.60,268.50) scale(0.1981,0.2120)"><path transform="translate(0,0) scale(1.18,1)" d="M31,100 L31,7 L6,72 L6,74 L43,74"/><path transform="translate(60.28,0) scale(1.18,1)" d="M23,7 C34,7 39,12 39,22 L39,78 C39,88 34,93 23,93 C12,93 7,88 7,78 L7,22 C7,12 12,7 23,7 Z"/><path transform="translate(150.16,0) scale(1.18,1)" d="M37,30 L37,22 C37,12 32,7 22,7 C12,7 7,12 7,22 L7,78 C7,88 12,93 22,93 C32,93 37,88 37,78 L37,68"/><path transform="translate(208.08,0) scale(1.18,1)" d="M7,100 L7,7 L32,72 L57,7 L57,100"/><path transform="translate(319.2,0) scale(1.18,1)" d="M21,7 L16,7 C10,7 7,10 7,16 L7,84 C7,90 10,93 16,93 L21,93"/><path transform="translate(351.16,0) scale(1.18,1)" d="M8,22 L23,7 L23,100"/><path transform="translate(394.92,0) scale(1.18,1)" d="M36,7 L9,7 L8,48 C12,44 16,42 23,42 C33,42 38,48 38,58 L38,78 C38,88 33,93 22,93 C12,93 7,88 7,78 L7,72"/><path transform="translate(452.84,0)" stroke-width="1.9" d="M6,0 L3,30"/><path transform="translate(465.84,0)" stroke-width="1.9" d="M6,0 L3,30"/><path transform="translate(509.44,0) scale(1.18,1)" d="M7,0 L7,100"/><path transform="translate(531.96,0) scale(1.18,1)" d="M7,100 L7,7 L44,93 L44,0"/><path transform="translate(598.14,0) scale(1.18,1)" d="M37,30 L37,22 C37,12 32,7 22,7 C12,7 7,12 7,22 L7,78 C7,88 12,93 22,93 C32,93 37,88 37,78 L37,68"/><path transform="translate(656.06,0) scale(1.18,1)" d="M7,0 L7,100 M41,0 L41,100 M7,49 L41,49"/><path transform="translate(718.7,0) scale(1.18,1)" d="M1,7 L6,7 C12,7 15,10 15,16 L15,84 C15,90 12,93 6,93 L1,93"/></g>
<g transform="translate(756.70,355.80) scale(0.1932,0.2120)"><path transform="translate(0,0) scale(1.18,1)" d="M0,7 L42,7 M21,7 L21,100"/><path transform="translate(55.56,0) scale(1.18,1)" d="M23,7 C34,7 39,12 39,22 L39,78 C39,88 34,93 23,93 C12,93 7,88 7,78 L7,22 C7,12 12,7 23,7 Z"/><path transform="translate(145.44,0) scale(1.18,1)" d="M0,7 L42,7 M21,7 L21,100"/><path transform="translate(201,0) scale(1.18,1)" d="M7,0 L7,100 M41,0 L41,100 M7,49 L41,49"/><path transform="translate(263.64,0) scale(1.18,1)" d="M38,7 L7,7 L7,93 L38,93 M7,48 L32,48"/><path transform="translate(344.08,0) scale(1.18,1)" d="M38,7 L7,7 L7,93 L38,93 M7,48 L32,48"/><path transform="translate(394.92,0) scale(1.18,1)" d="M7,0 L7,93 L37,93"/><path transform="translate(444.58,0) scale(1.18,1)" d="M7,0 L7,100 M7,7 L27,7 C36,7 39,13 39,24 L39,32 C39,43 35,48 26,48 L7,48 M26,48 C36,48 40,54 40,65 L40,76 C40,88 36,93 26,93 L7,93"/><path transform="translate(504.86,0) scale(1.18,1)" d="M23,7 C34,7 39,12 39,22 L39,78 C39,88 34,93 23,93 C12,93 7,88 7,78 L7,22 C7,12 12,7 23,7 Z"/><path transform="translate(565.14,0) scale(1.18,1)" d="M2,0 L15,93 L33,20 L51,93 L64,0"/></g>
<g transform="translate(754.80,389.50) scale(0.1948,0.2120)"><path transform="translate(0,0) scale(1.18,1)" d="M37,28 L37,22 C37,12 32,7 23,7 C12,7 7,12 7,22 L7,78 C7,88 12,93 23,93 C34,93 39,88 39,78 L39,62 C39,52 34,46 23,46 C12,46 7,52 7,60"/><path transform="translate(60.28,0) scale(1.18,1)" d="M23,7 C34,7 39,12 39,22 L39,78 C39,88 34,93 23,93 C12,93 7,88 7,78 L7,22 C7,12 12,7 23,7 Z"/><path transform="translate(150.16,0) scale(1.18,1)" d="M37,30 L37,22 C37,12 32,7 22,7 C12,7 7,12 7,22 L7,78 C7,88 12,93 22,93 C32,93 37,88 37,78 L37,68"/><path transform="translate(208.08,0) scale(1.18,1)" d="M7,100 L7,7 L32,72 L57,7 L57,100"/><path transform="translate(319.2,0) scale(1.18,1)" d="M21,7 L16,7 C10,7 7,10 7,16 L7,84 C7,90 10,93 16,93 L21,93"/><path transform="translate(351.16,0) scale(1.18,1)" d="M7,28 L7,22 C7,12 12,7 22,7 C32,7 37,12 37,22 L37,32 C37,42 33,48 27,55 L7,93 L39,93"/><path transform="translate(409.08,0) scale(1.18,1)" d="M7,26 L7,22 C7,12 12,7 22,7 C32,7 37,12 37,22 L37,34 C37,43 32,48 22,48 L17,48 M22,48 C33,48 38,53 38,63 L38,78 C38,88 33,93 22,93 C12,93 7,88 7,78 L7,72"/><path transform="translate(467,0)" stroke-width="1.9" d="M6,0 L3,30"/><path transform="translate(480,0)" stroke-width="1.9" d="M6,0 L3,30"/><path transform="translate(523.6,0) scale(1.18,1)" d="M7,0 L7,100"/><path transform="translate(546.12,0) scale(1.18,1)" d="M7,100 L7,7 L44,93 L44,0"/><path transform="translate(612.3,0) scale(1.18,1)" d="M37,30 L37,22 C37,12 32,7 22,7 C12,7 7,12 7,22 L7,78 C7,88 12,93 22,93 C32,93 37,88 37,78 L37,68"/><path transform="translate(670.22,0) scale(1.18,1)" d="M7,0 L7,100 M41,0 L41,100 M7,49 L41,49"/><path transform="translate(732.86,0) scale(1.18,1)" d="M1,7 L6,7 C12,7 15,10 15,16 L15,84 C15,90 12,93 6,93 L1,93"/></g>
<g transform="translate(825.80,458.60) scale(0.1918,0.2120)"><path transform="translate(0,0) scale(1.18,1)" d="M0,7 L42,7 M21,7 L21,100"/><path transform="translate(55.56,0) scale(1.18,1)" d="M23,7 C34,7 39,12 39,22 L39,78 C39,88 34,93 23,93 C12,93 7,88 7,78 L7,22 C7,12 12,7 23,7 Z"/><path transform="translate(145.44,0) scale(1.18,1)" d="M7,0 L7,100 M41,0 L41,100 M7,49 L41,49"/><path transform="translate(208.08,0) scale(1.18,1)" d="M7,0 L7,100"/><path transform="translate(230.6,0) scale(1.18,1)" d="M7,100 L7,7 L25,7 C34,7 38,13 38,24 L38,36 C38,47 34,53 25,53 L7,53"/><path transform="translate(288.52,0) scale(1.18,1)" d="M37,28 L37,22 C37,12 32,7 22,7 C12,7 7,12 7,22 L7,30 C7,40 12,44 20,47 L25,50 C33,53 38,58 38,68 L38,78 C38,88 33,93 22,93 C12,93 7,88 7,78 L7,70"/></g>
<g transform="translate(790.40,498.00) scale(0.1963,0.2120)"><path transform="translate(0,0) scale(1.18,1)" d="M3,7 L37,7 L16,100"/><path transform="translate(53.2,0) scale(1.18,1)" d="M36,7 L9,7 L8,48 C12,44 16,42 23,42 C33,42 38,48 38,58 L38,78 C38,88 33,93 22,93 C12,93 7,88 7,78 L7,72"/><path transform="translate(140.72,0) scale(1.18,1)" d="M37,30 L37,22 C37,12 32,7 22,7 C12,7 7,12 7,22 L7,78 C7,88 12,93 22,93 C32,93 37,88 37,78 L37,68"/><path transform="translate(198.64,0) scale(1.18,1)" d="M7,100 L7,7 L32,72 L57,7 L57,100"/><path transform="translate(309.76,0) scale(1.18,1)" d="M21,7 L16,7 C10,7 7,10 7,16 L7,84 C7,90 10,93 16,93 L21,93"/><path transform="translate(341.72,0) scale(1.18,1)" d="M7,28 L7,22 C7,12 12,7 22,7 C32,7 37,12 37,22 L37,32 C37,42 33,48 27,55 L7,93 L39,93"/><path transform="translate(399.64,0) scale(1.18,1)" d="M9,72 L9,78 C9,88 14,93 23,93 C34,93 39,88 39,78 L39,22 C39,12 34,7 23,7 C12,7 7,12 7,22 L7,38 C7,48 12,54 23,54 C34,54 39,48 39,40"/><path transform="translate(459.92,0)" stroke-width="1.9" d="M6,0 L3,30"/><path transform="translate(472.92,0)" stroke-width="1.9" d="M6,0 L3,30"/><path transform="translate(516.52,0) scale(1.18,1)" d="M7,0 L7,100"/><path transform="translate(539.04,0) scale(1.18,1)" d="M7,100 L7,7 L44,93 L44,0"/><path transform="translate(605.22,0) scale(1.18,1)" d="M37,30 L37,22 C37,12 32,7 22,7 C12,7 7,12 7,22 L7,78 C7,88 12,93 22,93 C32,93 37,88 37,78 L37,68"/><path transform="translate(663.14,0) scale(1.18,1)" d="M7,0 L7,100 M41,0 L41,100 M7,49 L41,49"/><path transform="translate(725.78,0) scale(1.18,1)" d="M1,7 L6,7 C12,7 15,10 15,16 L15,84 C15,90 12,93 6,93 L1,93"/></g>
<g transform="translate(824.20,573.30) scale(0.1893,0.2120)"><path transform="translate(0,0) scale(1.18,1)" d="M0,7 L42,7 M21,7 L21,100"/><path transform="translate(55.56,0) scale(1.18,1)" d="M23,7 C34,7 39,12 39,22 L39,78 C39,88 34,93 23,93 C12,93 7,88 7,78 L7,22 C7,12 12,7 23,7 Z"/><path transform="translate(145.44,0) scale(1.18,1)" d="M3,0 L24,52 L45,0 M24,52 L24,100"/><path transform="translate(208.08,0) scale(1.18,1)" d="M23,7 C34,7 39,12 39,22 L39,78 C39,88 34,93 23,93 C12,93 7,88 7,78 L7,22 C7,12 12,7 23,7 Z"/><path transform="translate(268.36,0) scale(1.18,1)" d="M7,0 L7,78 C7,88 12,93 23,93 C34,93 39,88 39,78 L39,0"/><path transform="translate(328.64,0) scale(1.18,1)" d="M7,100 L7,7 L25,7 C34,7 39,13 39,24 L39,34 C39,45 34,51 25,51 L7,51 M24,51 L40,100"/><path transform="translate(418.52,0) scale(1.18,1)" d="M36,7 L7,7 L7,100 M7,48 L30,48"/><path transform="translate(467,0) scale(1.18,1)" d="M7,0 L7,100"/><path transform="translate(489.52,0) scale(1.18,1)" d="M7,100 L7,7 L44,93 L44,0"/><path transform="translate(555.7,0) scale(1.18,1)" d="M39,30 L39,22 C39,12 34,7 23,7 C12,7 7,12 7,22 L7,78 C7,88 12,93 23,93 C34,93 39,88 39,78 L39,52 L26,52"/><path transform="translate(615.98,0) scale(1.18,1)" d="M38,7 L7,7 L7,93 L38,93 M7,48 L32,48"/><path transform="translate(666.82,0) scale(1.18,1)" d="M7,100 L7,7 L25,7 C34,7 39,13 39,24 L39,34 C39,45 34,51 25,51 L7,51 M24,51 L40,100"/><path transform="translate(727.1,0) scale(1.18,1)" d="M0,7 L42,7 M21,7 L21,100"/><path transform="translate(782.66,0) scale(1.18,1)" d="M7,0 L7,100"/><path transform="translate(805.18,0) scale(1.18,1)" d="M7,100 L7,7 L25,7 C34,7 38,13 38,24 L38,36 C38,47 34,53 25,53 L7,53"/><path transform="translate(863.1,0) scale(1.18,1)" d="M37,28 L37,22 C37,12 32,7 22,7 C12,7 7,12 7,22 L7,30 C7,40 12,44 20,47 L25,50 C33,53 38,58 38,68 L38,78 C38,88 33,93 22,93 C12,93 7,88 7,78 L7,70"/></g>
<g transform="translate(834.00,611.40) scale(0.1974,0.2120)"><path transform="translate(0,0) scale(1.18,1)" d="M8,22 L23,7 L23,100"/><path transform="translate(43.76,0) scale(1.18,1)" d="M8,22 L23,7 L23,100"/><path transform="translate(87.52,0) scale(1.18,1)" d="M23,7 C34,7 39,12 39,22 L39,78 C39,88 34,93 23,93 C12,93 7,88 7,78 L7,22 C7,12 12,7 23,7 Z"/><path transform="translate(177.4,0) scale(1.18,1)" d="M37,30 L37,22 C37,12 32,7 22,7 C12,7 7,12 7,22 L7,78 C7,88 12,93 22,93 C32,93 37,88 37,78 L37,68"/><path transform="translate(235.32,0) scale(1.18,1)" d="M7,100 L7,7 L32,72 L57,7 L57,100"/><path transform="translate(346.44,0) scale(1.18,1)" d="M21,7 L16,7 C10,7 7,10 7,16 L7,84 C7,90 10,93 16,93 L21,93"/><path transform="translate(378.4,0) scale(1.18,1)" d="M31,100 L31,7 L6,72 L6,74 L43,74"/><path transform="translate(438.68,0) scale(1.18,1)" d="M7,26 L7,22 C7,12 12,7 22,7 C32,7 37,12 37,22 L37,34 C37,43 32,48 22,48 L17,48 M22,48 C33,48 38,53 38,63 L38,78 C38,88 33,93 22,93 C12,93 7,88 7,78 L7,72"/><path transform="translate(496.6,0)" stroke-width="1.9" d="M6,0 L3,30"/><path transform="translate(509.6,0)" stroke-width="1.9" d="M6,0 L3,30"/><path transform="translate(553.2,0) scale(1.18,1)" d="M7,0 L7,100"/><path transform="translate(575.72,0) scale(1.18,1)" d="M7,100 L7,7 L44,93 L44,0"/><path transform="translate(641.9,0) scale(1.18,1)" d="M37,30 L37,22 C37,12 32,7 22,7 C12,7 7,12 7,22 L7,78 C7,88 12,93 22,93 C32,93 37,88 37,78 L37,68"/><path transform="translate(699.82,0) scale(1.18,1)" d="M7,0 L7,100 M41,0 L41,100 M7,49 L41,49"/><path transform="translate(762.46,0) scale(1.18,1)" d="M1,7 L6,7 C12,7 15,10 15,16 L15,84 C15,90 12,93 6,93 L1,93"/></g>
</g>
<g>
<path d="M155.5,252.7H344.4" stroke="#000" stroke-width="2.2" fill="none"/>
<path d="M362.9,252.7L343.4,243.1L343.4,262.3Z" fill="#000"/>
<path d="M113.9,531.7H303.1" stroke="#000" stroke-width="2.2" fill="none"/>
<path d="M321.6,531.7L302.1,522.1L302.1,541.3Z" fill="#000"/>
<path d="M92.9,673.2H282.5" stroke="#000" stroke-width="2.2" fill="none"/>
<path d="M301.0,673.2L281.5,663.6L281.5,682.8Z" fill="#000"/>
<path d="M648.6,165.6H837.6" stroke="#000" stroke-width="2.2" fill="none"/>
<path d="M630.1,165.6L649.6,156.0L649.6,175.2Z" fill="#000"/>
<path d="M703.7,259.4H892.7" stroke="#000" stroke-width="2.2" fill="none"/>
<path d="M685.2,259.4L704.7,249.8L704.7,269.0Z" fill="#000"/>
<path d="M739.1,381.6H927.8" stroke="#000" stroke-width="2.2" fill="none"/>
<path d="M720.6,381.6L740.1,372.0L740.1,391.2Z" fill="#000"/>
<path d="M779.7,486.9H968.5" stroke="#000" stroke-width="2.2" fill="none"/>
<path d="M761.2,486.9L780.7,477.3L780.7,496.5Z" fill="#000"/>
<path d="M821.3,601.0H1010.2" stroke="#000" stroke-width="2.2" fill="none"/>
<path d="M802.8,601.0L822.3,591.4L822.3,610.6Z" fill="#000"/>
<g transform="translate(880.7,841.3) rotate(-45)">
<path d="M18.5,0H207.6" stroke="#000" stroke-width="2.2" fill="none"/>
<path d="M0,0L19.5,-9.6L19.5,9.6Z" fill="#000"/>
<g class="lbl" fill="none" stroke="#000" stroke-width="2.7" stroke-linecap="butt" stroke-linejoin="round">
<g transform="translate(78.00,-26.70) scale(0.1844,0.2120)"><path transform="translate(0,0) scale(1.18,1)" d="M2,0 L15,93 L33,20 L51,93 L64,0"/><path transform="translate(83.88,0) scale(1.18,1)" d="M3,100 L20,7 L30,7 L47,100 M11,66 L39,66"/><path transform="translate(148.88,0) scale(1.18,1)" d="M7,0 L7,93 L37,93"/><path transform="translate(198.54,0) scale(1.18,1)" d="M0,7 L42,7 M21,7 L21,100"/><path transform="translate(254.1,0) scale(1.18,1)" d="M3,7 L39,7 L4,93 L40,93"/></g>
<g transform="translate(29.30,10.00) scale(0.1947,0.2120)"><path transform="translate(0,0) scale(1.18,1)" d="M8,22 L23,7 L23,100"/><path transform="translate(43.76,0) scale(1.18,1)" d="M36,7 L9,7 L8,48 C12,44 16,42 23,42 C33,42 38,48 38,58 L38,78 C38,88 33,93 22,93 C12,93 7,88 7,78 L7,72"/><path transform="translate(101.68,0) scale(1.18,1)" d="M23,7 C34,7 39,12 39,22 L39,78 C39,88 34,93 23,93 C12,93 7,88 7,78 L7,22 C7,12 12,7 23,7 Z"/><path transform="translate(191.56,0) scale(1.18,1)" d="M37,30 L37,22 C37,12 32,7 22,7 C12,7 7,12 7,22 L7,78 C7,88 12,93 22,93 C32,93 37,88 37,78 L37,68"/><path transform="translate(249.48,0) scale(1.18,1)" d="M7,100 L7,7 L32,72 L57,7 L57,100"/><path transform="translate(360.6,0) scale(1.18,1)" d="M21,7 L16,7 C10,7 7,10 7,16 L7,84 C7,90 10,93 16,93 L21,93"/><path transform="translate(392.56,0) scale(1.18,1)" d="M36,7 L9,7 L8,48 C12,44 16,42 23,42 C33,42 38,48 38,58 L38,78 C38,88 33,93 22,93 C12,93 7,88 7,78 L7,72"/><path transform="translate(450.48,0) scale(1.18,1)" d="M9,72 L9,78 C9,88 14,93 23,93 C34,93 39,88 39,78 L39,22 C39,12 34,7 23,7 C12,7 7,12 7,22 L7,38 C7,48 12,54 23,54 C34,54 39,48 39,40"/><path transform="translate(510.76,0)" stroke-width="1.9" d="M6,0 L3,30"/><path transform="translate(523.76,0)" stroke-width="1.9" d="M6,0 L3,30"/><path transform="translate(567.36,0) scale(1.18,1)" d="M7,0 L7,100"/><path transform="translate(589.88,0) scale(1.18,1)" d="M7,100 L7,7 L44,93 L44,0"/><path transform="translate(656.06,0) scale(1.18,1)" d="M37,30 L37,22 C37,12 32,7 22,7 C12,7 7,12 7,22 L7,78 C7,88 12,93 22,93 C32,93 37,88 37,78 L37,68"/><path transform="translate(713.98,0) scale(1.18,1)" d="M7,0 L7,100 M41,0 L41,100 M7,49 L41,49"/><path transform="translate(776.62,0) scale(1.18,1)" d="M1,7 L6,7 C12,7 15,10 15,16 L15,84 C15,90 12,93 6,93 L1,93"/></g>
</g>
</g>
<g transform="translate(1014.2,961.3) rotate(-45)">
<path d="M18.5,0H207.6" stroke="#000" stroke-width="2.2" fill="none"/>
<path d="M0,0L19.5,-9.6L19.5,9.6Z" fill="#000"/>
<g class="lbl" fill="none" stroke="#000" stroke-width="2.7" stroke-linecap="butt" stroke-linejoin="round">
<g transform="translate(76.60,-28.20) scale(0.1894,0.2120)"><path transform="translate(0,0) scale(1.18,1)" d="M36,7 L7,7 L7,100 M7,48 L30,48"/><path transform="translate(48.48,0) scale(1.18,1)" d="M7,0 L7,93 L37,93"/><path transform="translate(98.14,0) scale(1.18,1)" d="M23,7 C34,7 39,12 39,22 L39,78 C39,88 34,93 23,93 C12,93 7,88 7,78 L7,22 C7,12 12,7 23,7 Z"/><path transform="translate(158.42,0) scale(1.18,1)" d="M23,7 C34,7 39,12 39,22 L39,78 C39,88 34,93 23,93 C12,93 7,88 7,78 L7,22 C7,12 12,7 23,7 Z"/><path transform="translate(218.7,0) scale(1.18,1)" d="M7,100 L7,7 L25,7 C34,7 39,13 39,24 L39,34 C39,45 34,51 25,51 L7,51 M24,51 L40,100"/></g>
<g transform="translate(46.30,10.00) scale(0.2016,0.2120)"><path transform="translate(0,0) scale(1.18,1)" d="M8,22 L23,7 L23,100"/><path transform="translate(43.76,0) scale(1.18,1)" d="M23,48 C13,48 8,43 8,33 L8,22 C8,12 13,7 23,7 C33,7 38,12 38,22 L38,33 C38,43 33,48 23,48 C12,48 7,54 7,64 L7,78 C7,88 12,93 23,93 C34,93 39,88 39,78 L39,64 C39,54 34,48 23,48"/><path transform="translate(104.04,0) scale(1.18,1)" d="M23,7 C34,7 39,12 39,22 L39,78 C39,88 34,93 23,93 C12,93 7,88 7,78 L7,22 C7,12 12,7 23,7 Z"/><path transform="translate(193.92,0) scale(1.18,1)" d="M37,30 L37,22 C37,12 32,7 22,7 C12,7 7,12 7,22 L7,78 C7,88 12,93 22,93 C32,93 37,88 37,78 L37,68"/><path transform="translate(251.84,0) scale(1.18,1)" d="M7,100 L7,7 L32,72 L57,7 L57,100"/><path transform="translate(362.96,0) scale(1.18,1)" d="M21,7 L16,7 C10,7 7,10 7,16 L7,84 C7,90 10,93 16,93 L21,93"/><path transform="translate(394.92,0) scale(1.18,1)" d="M3,7 L37,7 L16,100"/><path transform="translate(448.12,0) scale(1.18,1)" d="M8,22 L23,7 L23,100"/><path transform="translate(491.88,0)" stroke-width="1.9" d="M6,0 L3,30"/><path transform="translate(504.88,0)" stroke-width="1.9" d="M6,0 L3,30"/><path transform="translate(548.48,0) scale(1.18,1)" d="M7,0 L7,100"/><path transform="translate(571,0) scale(1.18,1)" d="M7,100 L7,7 L44,93 L44,0"/><path transform="translate(637.18,0) scale(1.18,1)" d="M37,30 L37,22 C37,12 32,7 22,7 C12,7 7,12 7,22 L7,78 C7,88 12,93 22,93 C32,93 37,88 37,78 L37,68"/><path transform="translate(695.1,0) scale(1.18,1)" d="M7,0 L7,100 M41,0 L41,100 M7,49 L41,49"/><path transform="translate(757.74,0) scale(1.18,1)" d="M1,7 L6,7 C12,7 15,10 15,16 L15,84 C15,90 12,93 6,93 L1,93"/></g>
</g>
</g>
<g transform="translate(1196.8,978.3) rotate(-45)">
<path d="M18.5,0H207.6" stroke="#000" stroke-width="2.2" fill="none"/>
<path d="M0,0L19.5,-9.6L19.5,9.6Z" fill="#000"/>
<g class="lbl" fill="none" stroke="#000" stroke-width="2.7" stroke-linecap="butt" stroke-linejoin="round">
<g transform="translate(58.80,-32.70) scale(0.2012,0.2120)"><path transform="translate(0,0) scale(1.18,1)" d="M37,30 L37,22 C37,12 32,7 22,7 C12,7 7,12 7,22 L7,78 C7,88 12,93 22,93 C32,93 37,88 37,78 L37,68"/><path transform="translate(57.92,0) scale(1.18,1)" d="M7,0 L7,100 M41,0 L41,100 M7,49 L41,49"/><path transform="translate(120.56,0) scale(1.18,1)" d="M3,100 L20,7 L30,7 L47,100 M11,66 L39,66"/><path transform="translate(185.56,0) scale(1.18,1)" d="M7,100 L7,7 L25,7 C34,7 38,13 38,24 L38,36 C38,47 34,53 25,53 L7,53"/><path transform="translate(243.48,0) scale(1.18,1)" d="M38,7 L7,7 L7,93 L38,93 M7,48 L32,48"/><path transform="translate(294.32,0) scale(1.18,1)" d="M7,0 L7,93 L37,93"/></g>
<g transform="translate(35.50,10.00) scale(0.1941,0.2120)"><path transform="translate(0,0) scale(1.18,1)" d="M7,28 L7,22 C7,12 12,7 22,7 C32,7 37,12 37,22 L37,32 C37,42 33,48 27,55 L7,93 L39,93"/><path transform="translate(57.92,0) scale(1.18,1)" d="M23,7 C34,7 39,12 39,22 L39,78 C39,88 34,93 23,93 C12,93 7,88 7,78 L7,22 C7,12 12,7 23,7 Z"/><path transform="translate(118.2,0) scale(1.18,1)" d="M23,7 C34,7 39,12 39,22 L39,78 C39,88 34,93 23,93 C12,93 7,88 7,78 L7,22 C7,12 12,7 23,7 Z"/><path transform="translate(208.08,0) scale(1.18,1)" d="M37,30 L37,22 C37,12 32,7 22,7 C12,7 7,12 7,22 L7,78 C7,88 12,93 22,93 C32,93 37,88 37,78 L37,68"/><path transform="translate(266,0) scale(1.18,1)" d="M7,100 L7,7 L32,72 L57,7 L57,100"/><path transform="translate(377.12,0) scale(1.18,1)" d="M21,7 L16,7 C10,7 7,10 7,16 L7,84 C7,90 10,93 16,93 L21,93"/><path transform="translate(409.08,0) scale(1.18,1)" d="M3,7 L37,7 L16,100"/><path transform="translate(462.28,0) scale(1.18,1)" d="M23,48 C13,48 8,43 8,33 L8,22 C8,12 13,7 23,7 C33,7 38,12 38,22 L38,33 C38,43 33,48 23,48 C12,48 7,54 7,64 L7,78 C7,88 12,93 23,93 C34,93 39,88 39,78 L39,64 C39,54 34,48 23,48"/><path transform="translate(522.56,0)" stroke-width="1.9" d="M6,0 L3,30"/><path transform="translate(535.56,0)" stroke-width="1.9" d="M6,0 L3,30"/><path transform="translate(579.16,0) scale(1.18,1)" d="M7,0 L7,100"/><path transform="translate(601.68,0) scale(1.18,1)" d="M7,100 L7,7 L44,93 L44,0"/><path transform="translate(667.86,0) scale(1.18,1)" d="M37,30 L37,22 C37,12 32,7 22,7 C12,7 7,12 7,22 L7,78 C7,88 12,93 22,93 C32,93 37,88 37,78 L37,68"/><path transform="translate(725.78,0) scale(1.18,1)" d="M7,0 L7,100 M41,0 L41,100 M7,49 L41,49"/><path transform="translate(788.42,0) scale(1.18,1)" d="M1,7 L6,7 C12,7 15,10 15,16 L15,84 C15,90 12,93 6,93 L1,93"/></g>
</g>
</g>
<g transform="translate(1391.0,1003.0) rotate(-45)">
<path d="M18.5,0H207.6" stroke="#000" stroke-width="2.2" fill="none"/>
<path d="M0,0L19.5,-9.6L19.5,9.6Z" fill="#000"/>
<g class="lbl" fill="none" stroke="#000" stroke-width="2.7" stroke-linecap="butt" stroke-linejoin="round">
<g transform="translate(71.80,-33.20) scale(0.1839,0.2120)"><path transform="translate(0,0) scale(1.18,1)" d="M37,30 L37,22 C37,12 32,7 22,7 C12,7 7,12 7,22 L7,78 C7,88 12,93 22,93 C32,93 37,88 37,78 L37,68"/><path transform="translate(57.92,0) scale(1.18,1)" d="M7,0 L7,100 M41,0 L41,100 M7,49 L41,49"/><path transform="translate(120.56,0) scale(1.18,1)" d="M7,0 L7,78 C7,88 12,93 23,93 C34,93 39,88 39,78 L39,0"/><path transform="translate(180.84,0) scale(1.18,1)" d="M7,100 L7,7 L25,7 C34,7 39,13 39,24 L39,34 C39,45 34,51 25,51 L7,51 M24,51 L40,100"/><path transform="translate(241.12,0) scale(1.18,1)" d="M37,30 L37,22 C37,12 32,7 22,7 C12,7 7,12 7,22 L7,78 C7,88 12,93 22,93 C32,93 37,88 37,78 L37,68"/><path transform="translate(299.04,0) scale(1.18,1)" d="M7,0 L7,100 M41,0 L41,100 M7,49 L41,49"/></g>
<g transform="translate(35.70,10.00) scale(0.1955,0.2120)"><path transform="translate(0,0) scale(1.18,1)" d="M7,28 L7,22 C7,12 12,7 22,7 C32,7 37,12 37,22 L37,32 C37,42 33,48 27,55 L7,93 L39,93"/><path transform="translate(57.92,0) scale(1.18,1)" d="M31,100 L31,7 L6,72 L6,74 L43,74"/><path transform="translate(118.2,0) scale(1.18,1)" d="M23,7 C34,7 39,12 39,22 L39,78 C39,88 34,93 23,93 C12,93 7,88 7,78 L7,22 C7,12 12,7 23,7 Z"/><path transform="translate(208.08,0) scale(1.18,1)" d="M37,30 L37,22 C37,12 32,7 22,7 C12,7 7,12 7,22 L7,78 C7,88 12,93 22,93 C32,93 37,88 37,78 L37,68"/><path transform="translate(266,0) scale(1.18,1)" d="M7,100 L7,7 L32,72 L57,7 L57,100"/><path transform="translate(377.12,0) scale(1.18,1)" d="M21,7 L16,7 C10,7 7,10 7,16 L7,84 C7,90 10,93 16,93 L21,93"/><path transform="translate(409.08,0) scale(1.18,1)" d="M9,72 L9,78 C9,88 14,93 23,93 C34,93 39,88 39,78 L39,22 C39,12 34,7 23,7 C12,7 7,12 7,22 L7,38 C7,48 12,54 23,54 C34,54 39,48 39,40"/><path transform="translate(469.36,0) scale(1.18,1)" d="M31,100 L31,7 L6,72 L6,74 L43,74"/><path transform="translate(529.64,0)" stroke-width="1.9" d="M6,0 L3,30"/><path transform="translate(542.64,0)" stroke-width="1.9" d="M6,0 L3,30"/><path transform="translate(586.24,0) scale(1.18,1)" d="M7,0 L7,100"/><path transform="translate(608.76,0) scale(1.18,1)" d="M7,100 L7,7 L44,93 L44,0"/><path transform="translate(674.94,0) scale(1.18,1)" d="M37,30 L37,22 C37,12 32,7 22,7 C12,7 7,12 7,22 L7,78 C7,88 12,93 22,93 C32,93 37,88 37,78 L37,68"/><path transform="translate(732.86,0) scale(1.18,1)" d="M7,0 L7,100 M41,0 L41,100 M7,49 L41,49"/><path transform="translate(795.5,0) scale(1.18,1)" d="M1,7 L6,7 C12,7 15,10 15,16 L15,84 C15,90 12,93 6,93 L1,93"/></g>
</g>
</g>
<g transform="translate(1562.3,1024.4) rotate(-45)">
<path d="M18.5,0H207.6" stroke="#000" stroke-width="2.2" fill="none"/>
<path d="M0,0L19.5,-9.6L19.5,9.6Z" fill="#000"/>
<g class="lbl" fill="none" stroke="#000" stroke-width="2.7" stroke-linecap="butt" stroke-linejoin="round">
<g transform="translate(55.80,-26.20) scale(0.1942,0.2120)"><path transform="translate(0,0) scale(1.18,1)" d="M37,30 L37,22 C37,12 32,7 22,7 C12,7 7,12 7,22 L7,78 C7,88 12,93 22,93 C32,93 37,88 37,78 L37,68"/><path transform="translate(57.92,0) scale(1.18,1)" d="M3,100 L20,7 L30,7 L47,100 M11,66 L39,66"/><path transform="translate(122.92,0) scale(1.18,1)" d="M0,7 L42,7 M21,7 L21,100"/><path transform="translate(178.48,0) scale(1.18,1)" d="M7,0 L7,100 M41,0 L41,100 M7,49 L41,49"/><path transform="translate(241.12,0) scale(1.18,1)" d="M38,7 L7,7 L7,93 L38,93 M7,48 L32,48"/><path transform="translate(291.96,0) scale(1.18,1)" d="M7,0 L7,100 M7,7 L24,7 C34,7 39,12 39,22 L39,78 C39,88 34,93 24,93 L7,93"/><path transform="translate(352.24,0) scale(1.18,1)" d="M7,100 L7,7 L25,7 C34,7 39,13 39,24 L39,34 C39,45 34,51 25,51 L7,51 M24,51 L40,100"/><path transform="translate(412.52,0) scale(1.18,1)" d="M3,100 L20,7 L30,7 L47,100 M11,66 L39,66"/><path transform="translate(477.52,0) scale(1.18,1)" d="M7,0 L7,93 L37,93"/></g>
<g transform="translate(26.70,10.00) scale(0.2052,0.2120)"><path transform="translate(0,0) scale(1.18,1)" d="M7,28 L7,22 C7,12 12,7 22,7 C32,7 37,12 37,22 L37,32 C37,42 33,48 27,55 L7,93 L39,93"/><path transform="translate(57.92,0) scale(1.18,1)" d="M3,7 L37,7 L16,100"/><path transform="translate(111.12,0) scale(1.18,1)" d="M36,7 L9,7 L8,48 C12,44 16,42 23,42 C33,42 38,48 38,58 L38,78 C38,88 33,93 22,93 C12,93 7,88 7,78 L7,72"/><path transform="translate(198.64,0) scale(1.18,1)" d="M37,30 L37,22 C37,12 32,7 22,7 C12,7 7,12 7,22 L7,78 C7,88 12,93 22,93 C32,93 37,88 37,78 L37,68"/><path transform="translate(256.56,0) scale(1.18,1)" d="M7,100 L7,7 L32,72 L57,7 L57,100"/><path transform="translate(367.68,0) scale(1.18,1)" d="M21,7 L16,7 C10,7 7,10 7,16 L7,84 C7,90 10,93 16,93 L21,93"/><path transform="translate(399.64,0) scale(1.18,1)" d="M8,22 L23,7 L23,100"/><path transform="translate(443.4,0) scale(1.18,1)" d="M23,7 C34,7 39,12 39,22 L39,78 C39,88 34,93 23,93 C12,93 7,88 7,78 L7,22 C7,12 12,7 23,7 Z"/><path transform="translate(503.68,0) scale(1.18,1)" d="M23,48 C13,48 8,43 8,33 L8,22 C8,12 13,7 23,7 C33,7 38,12 38,22 L38,33 C38,43 33,48 23,48 C12,48 7,54 7,64 L7,78 C7,88 12,93 23,93 C34,93 39,88 39,78 L39,64 C39,54 34,48 23,48"/><path transform="translate(563.96,0)" stroke-width="1.9" d="M6,0 L3,30"/><path transform="translate(576.96,0)" stroke-width="1.9" d="M6,0 L3,30"/><path transform="translate(620.56,0) scale(1.18,1)" d="M7,0 L7,100"/><path transform="translate(643.08,0) scale(1.18,1)" d="M7,100 L7,7 L44,93 L44,0"/><path transform="translate(709.26,0) scale(1.18,1)" d="M37,30 L37,22 C37,12 32,7 22,7 C12,7 7,12 7,22 L7,78 C7,88 12,93 22,93 C32,93 37,88 37,78 L37,68"/><path transform="translate(767.18,0) scale(1.18,1)" d="M7,0 L7,100 M41,0 L41,100 M7,49 L41,49"/><path transform="translate(829.82,0) scale(1.18,1)" d="M1,7 L6,7 C12,7 15,10 15,16 L15,84 C15,90 12,93 6,93 L1,93"/></g>
</g>
</g>
<g transform="translate(1694.7,1024.4) rotate(-45)">
<path d="M18.5,0H207.6" stroke="#000" stroke-width="2.2" fill="none"/>
<path d="M0,0L19.5,-9.6L19.5,9.6Z" fill="#000"/>
<g class="lbl" fill="none" stroke="#000" stroke-width="2.7" stroke-linecap="butt" stroke-linejoin="round">
<g transform="translate(75.00,-26.20) scale(0.1864,0.2120)"><path transform="translate(0,0) scale(1.18,1)" d="M7,100 L7,7 L25,7 C34,7 39,13 39,24 L39,34 C39,45 34,51 25,51 L7,51 M24,51 L40,100"/><path transform="translate(60.28,0) scale(1.18,1)" d="M23,7 C34,7 39,12 39,22 L39,78 C39,88 34,93 23,93 C12,93 7,88 7,78 L7,22 C7,12 12,7 23,7 Z"/><path transform="translate(120.56,0) scale(1.18,1)" d="M3,0 L24,52 L45,0 M24,52 L24,100"/><path transform="translate(183.2,0) scale(1.18,1)" d="M3,100 L20,7 L30,7 L47,100 M11,66 L39,66"/><path transform="translate(248.2,0) scale(1.18,1)" d="M7,0 L7,93 L37,93"/></g>
<g transform="translate(25.00,10.00) scale(0.1982,0.2120)"><path transform="translate(0,0) scale(1.18,1)" d="M7,26 L7,22 C7,12 12,7 22,7 C32,7 37,12 37,22 L37,34 C37,43 32,48 22,48 L17,48 M22,48 C33,48 38,53 38,63 L38,78 C38,88 33,93 22,93 C12,93 7,88 7,78 L7,72"/><path transform="translate(57.92,0) scale(1.18,1)" d="M23,7 C34,7 39,12 39,22 L39,78 C39,88 34,93 23,93 C12,93 7,88 7,78 L7,22 C7,12 12,7 23,7 Z"/><path transform="translate(118.2,0) scale(1.18,1)" d="M23,7 C34,7 39,12 39,22 L39,78 C39,88 34,93 23,93 C12,93 7,88 7,78 L7,22 C7,12 12,7 23,7 Z"/><path transform="translate(208.08,0) scale(1.18,1)" d="M37,30 L37,22 C37,12 32,7 22,7 C12,7 7,12 7,22 L7,78 C7,88 12,93 22,93 C32,93 37,88 37,78 L37,68"/><path transform="translate(266,0) scale(1.18,1)" d="M7,100 L7,7 L32,72 L57,7 L57,100"/><path transform="translate(377.12,0) scale(1.18,1)" d="M21,7 L16,7 C10,7 7,10 7,16 L7,84 C7,90 10,93 16,93 L21,93"/><path transform="translate(409.08,0) scale(1.18,1)" d="M8,22 L23,7 L23,100"/><path transform="translate(452.84,0) scale(1.18,1)" d="M8,22 L23,7 L23,100"/><path transform="translate(496.6,0) scale(1.18,1)" d="M23,48 C13,48 8,43 8,33 L8,22 C8,12 13,7 23,7 C33,7 38,12 38,22 L38,33 C38,43 33,48 23,48 C12,48 7,54 7,64 L7,78 C7,88 12,93 23,93 C34,93 39,88 39,78 L39,64 C39,54 34,48 23,48"/><path transform="translate(556.88,0)" stroke-width="1.9" d="M6,0 L3,30"/><path transform="translate(569.88,0)" stroke-width="1.9" d="M6,0 L3,30"/><path transform="translate(613.48,0) scale(1.18,1)" d="M7,0 L7,100"/><path transform="translate(636,0) scale(1.18,1)" d="M7,100 L7,7 L44,93 L44,0"/><path transform="translate(702.18,0) scale(1.18,1)" d="M37,30 L37,22 C37,12 32,7 22,7 C12,7 7,12 7,22 L7,78 C7,88 12,93 22,93 C32,93 37,88 37,78 L37,68"/><path transform="translate(760.1,0) scale(1.18,1)" d="M7,0 L7,100 M41,0 L41,100 M7,49 L41,49"/><path transform="translate(822.74,0) scale(1.18,1)" d="M1,7 L6,7 C12,7 15,10 15,16 L15,84 C15,90 12,93 6,93 L1,93"/></g>
</g>
</g>
</g>
</svg></body></html>
